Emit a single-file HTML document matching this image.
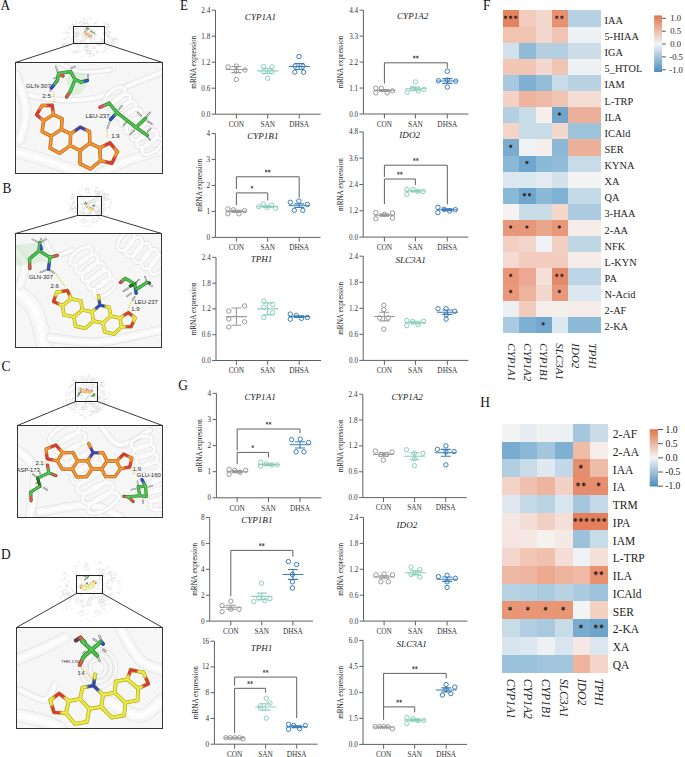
<!DOCTYPE html>
<html><head><meta charset="utf-8"><style>
html,body{margin:0;padding:0;background:#fff;width:685px;height:757px;overflow:hidden}
svg{display:block}
</style></head><body>
<svg width="685" height="757" viewBox="0 0 685 757">
<rect width="685" height="757" fill="#fff"/>
<path d="M103.02 41.14q1.6 1.3 0.19 -2.45M103.28 43.01q1.34 -1.76 -2.47 1.58M79.19 23.48q0.26 1.22 0.45 -1.16M80.8 40.4q1.29 1.01 -0.58 1.72M84.61 50.07q1.48 -0.24 1.31 -0.39M90.7 55.2q-0.54 2 -0.59 -1.55M82.57 29.08q-0.47 -0.16 1.98 0.66M74.21 43.61q-1.21 1.72 0.13 2.2M81.53 45.27q-0.85 -1.74 1.26 -1.56M96.16 53.15q1.21 0.75 2 -0.32M104.87 31.88q-0.73 -1.69 1.19 2.16M76.27 21.47q0.5 0.48 -2.23 -0.82M105.99 41.26q1.26 -0.69 2.39 -1.73M97.49 39.73q1.02 -0.11 -0.37 -0.13M93.14 47.28q0.35 0.94 -0.05 -0.34M108.55 23.99q1.87 0.81 -2.13 0.84M76.06 32.25q-0.79 -0.29 -0.79 -1.97M86.19 46.49q1.86 1.51 1.33 -0.84M83.89 32.3q-1.85 0.08 0.63 1.63M88.11 35.95q-1.01 0.91 2.99 0.88M105.18 51.32q1.81 0.61 -1.6 -1.69M63.43 42.53q-0.64 -1.64 -2.21 -0.17M67.2 30.84q0.61 -1.74 2.46 -1.96M100.38 40.82q1.12 -0.03 -0.05 -0.77M86.24 27.82q0.15 -0.56 2.93 -1.41M69.08 43.28q-1.25 1.24 1.68 1.9M101.99 22.14q1.23 -0.42 -0.07 -1.47M80.34 51.34q-1.84 -1 -2.97 1.19M82.96 34.4q-1.15 -0.08 -2.5 -0.53M71.59 46.17q-0.94 -0.46 -3.33 -1.94M101.44 44.05q1.36 -0.4 1.24 -0.51M70.98 40.51q1.23 1.1 -1.15 1.24M63.57 45.14q0.52 -1.86 -1.21 0.55M80.19 43.7q0.8 -0.4 1.35 -1.88M105.4 26.94q-0.08 -0.08 -1.48 0.42M110.37 47.02q1.81 1.34 -1.41 -2.13M98.79 45.12q0.99 -1.28 2.39 -1.41M114.44 41.87q0.94 0.51 -2.41 -0.29M109.25 30.66q-0.57 0.37 -0.51 2.24M65.74 27.36q0.42 0.58 -0.71 -1.23M97.73 41.84q-1.04 0.92 -2.63 1.24M74.06 33.07q1.19 -0.02 3.18 -0.85M102.42 47.56q-0.28 -1.57 -0.98 -2.3M108.34 31.51q0.47 1.68 1.01 -0.24M72.29 52.04q-1.46 -0.32 3.41 -0.37M84.85 30.83q0.03 0.85 2.95 -0.01M76.62 52.66q1.63 -0.22 -2.63 -0.52M105.56 28.34q1.16 1.87 -2.3 -1.6M77.39 27.44q0.51 0.51 -1.98 1.7M63.72 44.91q0.81 1.81 -1.37 0.89M83.02 26.86q-0.38 -0.22 0.2 -1.97M96.98 30.14q0.11 -1.05 -1.22 0.34M87.68 51.16q-1.53 -1.14 1.72 -0.12M100.79 24.7q-1.14 -0.62 -0.78 1.69M73.11 28.77q0.08 -1.97 1.74 1.02M88.43 36.46q-0.38 1.83 -3.13 1.22M113.66 38.34q0.08 0 1.22 0.8M88.95 47.23q-1.23 -1.62 2.94 -1.72M96.24 42.13q0.64 -1.1 -1.35 0.04M103.44 40.49q0.01 -0.19 -3.28 -1.81M88.76 56.4q1.57 0.3 -0.05 -0.4M76.5 22.09q-0.71 1.48 -0.3 1.89M84.23 19.95q0.96 -1.54 -0.44 -1.33M102.96 33.63q1.61 -0.86 2.1 -1.99M84.17 23q1.41 0.95 -0.61 1.29M108.24 29.94q0.65 -0.97 -2.28 -1.49M96.48 28.65q0.5 -1.39 2.6 -1.33M62.82 33.18q0.17 1.36 -1.55 -1.26M99.84 42.65q-0.89 -0.3 -0.78 -1.42M111.36 38.77q1.16 -0.25 3.05 0.66M72.98 28.88q-0.19 0.87 -3.1 -1.03M62.47 43.33q1.65 1.21 -2.66 1.27M67.04 37.86q-0.53 -0.97 2.62 1.24M65.5 39.74q-1.1 0.76 1.47 -2.02M104.77 42.79q-0.67 1.74 2.32 -1.45M89.94 35.24q-0.85 0.24 -3.07 -2.04M85.5 40.79q1.27 1.36 -2.1 0.91M94.95 36.96q1.14 -1.84 1.36 0.26M90.39 39.3q0.91 -0.95 1.75 0.24M115.71 39.84q-1.06 -1 1.75 -1.38M91.75 52.7q1.96 -0.25 -1.6 1.13M112.73 42.67q-1.68 -1.24 -1.36 -1.44M114.42 38.38q0.03 -1.43 -0.34 1.5M112.37 38.8q-1.6 1.25 0.53 1.71M113.37 42.68q-0.63 1.26 -2.66 2.05M74.57 37.17q0.08 -1.87 -2.17 -1.07M91.66 53.32q0.35 -0.38 3.27 2.22M68.33 35.33q-1.15 0.48 -0.95 0.25M87.38 23.97q1.57 0.02 -2.71 -1.89M91.98 56.9q1.26 0.47 -1.56 0.05M104.75 44.88q-1.11 -1.38 -0.74 -0.65M70.17 45.71q0.58 0.09 -1.88 -1.56M102.8 41.44q1.18 1.48 -1.75 -0.09M103.82 52.36q-0.92 -0.59 -3.4 -2.24M103.78 42.26q0.32 -0.43 -3.04 -1.02M105.33 24.01q0.87 0.14 1.66 -2.25M69.63 49.74q-0.14 -1.13 -1.06 -0.9M82.14 35.77q1.52 0.44 -1.4 2.25M116.25 39.58q0.54 1.94 1.12 -2.12M74.93 41.95q1.35 -1.5 -0.53 1.12M86.59 25.82q-0.14 -1.2 1.1 1.58M92.42 38.17q0.15 -1.57 1.62 1.27M92.13 54.72q0.68 -1.81 2.43 2.11M88.13 38.28q-0.07 -1.97 1.6 1.32M93.71 28.91q-0.81 -0.59 -2.14 -1.95M101.33 44.57q-0.78 -1.42 2.19 -0.62M74.36 51.14q-1.82 -1.85 -1.06 2.47M102.72 53.21q1.14 0.5 1.27 -1.21M83.89 35.09q-0.35 1.95 -0.97 0.94M85.7 45.11q1.79 -1.25 2.14 -0.77M88.48 38.86q-1.1 0.78 -3.22 -0.61M78.56 40.94q-1.07 -1.73 -2.34 1.36M66.44 45.8q-0.81 1.54 0.88 -1.15M86.66 51.37q1.44 -1 -1.42 -1.65M111.3 37.77q-0.49 -0.21 2.11 -0.03M67.9 36.43q-0.67 -0.28 1.85 -0.87M100.49 43.28q-0.79 0.36 -2.32 -0.44M66.23 38.18q0.22 -0.98 -2.98 1.97M84.36 20.97q1.46 -0.33 -2.93 -2.38M95.89 28.48q-0.84 0.47 -0.76 0.62M97.33 34.1q-0.55 1.88 -3.44 1.17M78.54 39.66q-1.05 1.71 -1.96 -1.48M91.56 20.08q1.82 -0.3 -3.11 -2.41M80.66 50.54q-1.19 -1.29 -2.01 -0.25M85.61 40.6q-1.56 0.56 -2.02 -1.87M79.27 42.29q0.99 0.67 1.41 -2.43M82.01 50.8q0.45 -0.19 -0.73 0.72M67.95 25.74q0.16 -0.29 -0.67 -1.97M72.52 39.28q-0.06 -1.45 -1.54 -0.44M90.15 35.88q-1.08 -0.3 -1.73 1.43M81.16 41.87q-1.47 1.37 1.72 -1.96M71.15 49.76q-0.59 -0.56 0.29 1.59M115.85 39.69q0.07 0.79 -3.26 -0.68M94.69 22.96q-0.51 1.75 3.26 -2.28M100.52 38.34q-0.84 -1.93 3.28 1.73M86.11 18.88q0.09 1.55 0.74 2.26M90.23 31.93q-1.47 0.64 0.36 -0.26M89.36 30.71q0.53 -0.03 2.47 -0.67M108.9 25.46q-1.31 0.63 2.09 -1.75M76.85 50.63q-0.12 -1.96 -0.17 1.75M91.28 28.03q0.23 -0.54 1.39 -2.38M71.7 25.38q0.3 1.38 -2.87 1.58M113.83 41.48q0.87 -1.88 -0.85 0.56M80.6 56.05q0.21 0.7 2.77 0.11M92.26 42.78q0.85 1.85 -2.36 -1.64M87.53 19.56q0.63 0.52 0.15 -2.06M101.59 40.64q1.77 -0.22 1.9 1.12M89.41 24.62q0.81 -0.49 2.12 -2.31M77.83 49.4q-0.48 -0.38 0.27 -2.09M78.44 45.63q-0.27 1.43 -0.23 -0.7M68.74 27.71q1.14 0.57 1.75 -0.26M87.38 36.92q-0.88 -1.44 -2.29 2.28M80.85 20.53q-0.97 -0.88 -0.34 1M91.59 51.12q1.47 1.33 -2.44 2.46M98.86 30.4q0.99 -0.36 -0.54 -1.52M94.76 27.7q1.09 -0.74 -1.59 -1.22M103.32 24.21q-0.47 -1.34 3.05 -2.24M104.95 49.39q1.93 -0.39 0.94 2.33M86.23 23.32q-1.58 -0.03 2.95 1.3M76.23 27.38q0.83 1.39 -2.42 1.72M75.15 54.13q0.22 -0.18 -2.46 0.54M76.91 51.85q-0.03 1.21 -1.76 -2.41M107.89 31.12q1.08 1.88 3.34 1.43M65.52 43.9q-1.98 0.22 2 2.15M83.31 21.01q-0.01 -0.71 0 0.56M87.44 25.71q1.51 -1.61 2.31 2.25M63.04 39.74q1.91 -1.5 0.82 -2.5M109.73 26.31q-1.81 -1.52 -0.11 -0.37M97.05 44.74q0.54 -1.41 -0.69 1.54M63.6 45.52q-1.54 -1.88 0.95 -2.23M77.66 42.09q0.78 -1.08 -2.01 -1.83M86.96 36q0.1 1.73 -0.73 -1.7M64.6 32.36q-0.14 -0.44 1.19 1.57M72.33 24.22q-0.99 0.65 1.53 -0.43M72.31 32.36q-1.45 -1.61 0.28 -0.4M77.52 52.22q-1.23 0.87 1.67 0.97M95.2 43.53q-0.42 1.73 2.58 -0.59M103.26 31.21q1.6 -1.73 1.6 -1.27M85.51 27.15q0.04 1.8 -2.15 -0.11M91.45 40q0.91 0.58 -0.47 0.05M71.84 23.62q1.48 -0.67 -0.09 -0.59M74.9 37.11q-0.57 -0.44 0.62 -2.12M89.03 36.32q1.4 -1.87 -2.35 -1.08M76.31 44.18q0.56 1.61 1.74 -2.37M85.26 24.32q-1.17 -0.93 3.02 -2.41M86.74 46.09q0.65 -0.57 1.71 -2.43M77.17 43.82q1.48 1.56 3.46 1.6M82.7 33.99q-1.24 -0.92 -2.52 1.28M109.91 27.85q-0.71 -1.04 -3.17 -1.73M91.59 37.15q-0.28 0.72 -2.71 -2.13" stroke="#d9d9d9" stroke-width="0.5" fill="none"/>
<path d="M82.66 37.29a2.11 1.58 0 1 0 4.21 0a2.11 1.58 0 1 0 -4.21 0M84.78 48.64a1.79 1.34 0 1 0 3.58 0a1.79 1.34 0 1 0 -3.58 0M106.85 36.94a1.77 1.33 0 1 0 3.54 0a1.77 1.33 0 1 0 -3.54 0M105.99 33.21a2 1.5 0 1 0 4.01 0a2 1.5 0 1 0 -4.01 0M97.34 43.1a2.25 1.69 0 1 0 4.5 0a2.25 1.69 0 1 0 -4.5 0M73.21 35.49a1.88 1.41 0 1 0 3.76 0a1.88 1.41 0 1 0 -3.76 0M105.29 47.29a1.97 1.48 0 1 0 3.94 0a1.97 1.48 0 1 0 -3.94 0M83.13 34.02a1.26 0.95 0 1 0 2.52 0a1.26 0.95 0 1 0 -2.52 0M89.52 36.98a1.39 1.04 0 1 0 2.78 0a1.39 1.04 0 1 0 -2.78 0M83.17 48.26a2.37 1.78 0 1 0 4.75 0a2.37 1.78 0 1 0 -4.75 0M92.21 47.54a1.78 1.34 0 1 0 3.56 0a1.78 1.34 0 1 0 -3.56 0M73.44 43.56a1.14 0.85 0 1 0 2.27 0a1.14 0.85 0 1 0 -2.27 0M106.74 35.85a1.09 0.82 0 1 0 2.19 0a1.09 0.82 0 1 0 -2.19 0M102.6 33.78a1.79 1.34 0 1 0 3.58 0a1.79 1.34 0 1 0 -3.58 0M64.64 44.2a1.91 1.43 0 1 0 3.81 0a1.91 1.43 0 1 0 -3.81 0M84.36 46.04a1.83 1.38 0 1 0 3.67 0a1.83 1.38 0 1 0 -3.67 0M71.61 25.76a1.31 0.98 0 1 0 2.62 0a1.31 0.98 0 1 0 -2.62 0M90.58 31.25a2.15 1.61 0 1 0 4.3 0a2.15 1.61 0 1 0 -4.3 0M80.18 30.63a2.2 1.65 0 1 0 4.39 0a2.2 1.65 0 1 0 -4.39 0M104.02 25.88a2.32 1.74 0 1 0 4.64 0a2.32 1.74 0 1 0 -4.64 0M90.46 40.07a2.36 1.77 0 1 0 4.71 0a2.36 1.77 0 1 0 -4.71 0M90.28 30.46a1.41 1.06 0 1 0 2.83 0a1.41 1.06 0 1 0 -2.83 0M72.59 25.57a1.55 1.16 0 1 0 3.09 0a1.55 1.16 0 1 0 -3.09 0M84.69 27.62a1.6 1.2 0 1 0 3.19 0a1.6 1.2 0 1 0 -3.19 0M86.54 51.84a2.21 1.66 0 1 0 4.43 0a2.21 1.66 0 1 0 -4.43 0M79.68 22.97a1.78 1.33 0 1 0 3.55 0a1.78 1.33 0 1 0 -3.55 0M110.77 42.34a2.23 1.67 0 1 0 4.46 0a2.23 1.67 0 1 0 -4.46 0M86.84 52.78a1.64 1.23 0 1 0 3.27 0a1.64 1.23 0 1 0 -3.27 0M82.12 24.21a2.25 1.69 0 1 0 4.5 0a2.25 1.69 0 1 0 -4.5 0M76.18 32.9a1.64 1.23 0 1 0 3.28 0a1.64 1.23 0 1 0 -3.28 0M96.16 51.95a1.22 0.92 0 1 0 2.45 0a1.22 0.92 0 1 0 -2.45 0M93.61 24.27a1.8 1.35 0 1 0 3.61 0a1.8 1.35 0 1 0 -3.61 0M71.43 40.04a1.44 1.08 0 1 0 2.88 0a1.44 1.08 0 1 0 -2.88 0M76.09 35.08a1.97 1.48 0 1 0 3.95 0a1.97 1.48 0 1 0 -3.95 0M74.37 37.83a2.29 1.72 0 1 0 4.58 0a2.29 1.72 0 1 0 -4.58 0M97.49 44.52a1.5 1.12 0 1 0 2.99 0a1.5 1.12 0 1 0 -2.99 0M101.97 27.27a2.16 1.62 0 1 0 4.33 0a2.16 1.62 0 1 0 -4.33 0M81.09 41.33a1.85 1.39 0 1 0 3.7 0a1.85 1.39 0 1 0 -3.7 0M66.9 32.65a1.02 0.76 0 1 0 2.04 0a1.02 0.76 0 1 0 -2.04 0M75.63 33.13a1.52 1.14 0 1 0 3.04 0a1.52 1.14 0 1 0 -3.04 0" stroke="#d4d4d4" stroke-width="0.5" fill="none"/>
<defs><clipPath id="sclip0"><rect x="73.5" y="26.5" width="31" height="17"/></clipPath></defs>
<g clip-path="url(#sclip0)"><g transform="translate(87.7,34.5) scale(0.0950) translate(-70.72,-139.97)">
<path d="M55.8 66.3L57.5 71.5" stroke="#6a6a6a" stroke-width="1.67" stroke-linecap="round"/>
<path d="M55.8 66.3L57.5 71.5" stroke="#f0f0f0" stroke-width="0.81" stroke-linecap="round"/>
<path d="M54 78.5L57 77" stroke="#6a6a6a" stroke-width="1.67" stroke-linecap="round"/>
<path d="M54 78.5L57 77" stroke="#f0f0f0" stroke-width="0.81" stroke-linecap="round"/>
<path d="M71 68.5L75 66.5" stroke="#6a6a6a" stroke-width="1.67" stroke-linecap="round"/>
<path d="M71 68.5L75 66.5" stroke="#f0f0f0" stroke-width="0.81" stroke-linecap="round"/>
<path d="M88 74.5L87.7 79" stroke="#6a6a6a" stroke-width="1.67" stroke-linecap="round"/>
<path d="M88 74.5L87.7 79" stroke="#f0f0f0" stroke-width="0.81" stroke-linecap="round"/>
<path d="M51.4 88L50.3 91" stroke="#6a6a6a" stroke-width="1.67" stroke-linecap="round"/>
<path d="M51.4 88L50.3 91" stroke="#f0f0f0" stroke-width="0.81" stroke-linecap="round"/>
<path d="M110.5 119.5L107.4 128.3" stroke="#6a6a6a" stroke-width="1.67" stroke-linecap="round"/>
<path d="M110.5 119.5L107.4 128.3" stroke="#f0f0f0" stroke-width="0.81" stroke-linecap="round"/>
<path d="M121.9 106L118.8 109.5" stroke="#6a6a6a" stroke-width="1.67" stroke-linecap="round"/>
<path d="M121.9 106L118.8 109.5" stroke="#f0f0f0" stroke-width="0.81" stroke-linecap="round"/>
<path d="M123.6 125.6L126.3 122.1" stroke="#6a6a6a" stroke-width="1.67" stroke-linecap="round"/>
<path d="M123.6 125.6L126.3 122.1" stroke="#f0f0f0" stroke-width="0.81" stroke-linecap="round"/>
<path d="M130.2 134.4L134.2 130.5" stroke="#6a6a6a" stroke-width="1.67" stroke-linecap="round"/>
<path d="M130.2 134.4L134.2 130.5" stroke="#f0f0f0" stroke-width="0.81" stroke-linecap="round"/>
<path d="M137.6 112.5L141.2 116" stroke="#6a6a6a" stroke-width="1.67" stroke-linecap="round"/>
<path d="M137.6 112.5L141.2 116" stroke="#f0f0f0" stroke-width="0.81" stroke-linecap="round"/>
<path d="M150 112.5L145.5 117.9" stroke="#6a6a6a" stroke-width="1.67" stroke-linecap="round"/>
<path d="M150 112.5L145.5 117.9" stroke="#f0f0f0" stroke-width="0.81" stroke-linecap="round"/>
<path d="M151.7 124L147.3 121.3" stroke="#6a6a6a" stroke-width="1.67" stroke-linecap="round"/>
<path d="M151.7 124L147.3 121.3" stroke="#f0f0f0" stroke-width="0.81" stroke-linecap="round"/>
<path d="M150.8 128.3L147.7 131.8" stroke="#6a6a6a" stroke-width="1.67" stroke-linecap="round"/>
<path d="M150.8 128.3L147.7 131.8" stroke="#f0f0f0" stroke-width="0.81" stroke-linecap="round"/>
<path d="M150 140L147 136" stroke="#6a6a6a" stroke-width="1.67" stroke-linecap="round"/>
<path d="M150 140L147 136" stroke="#f0f0f0" stroke-width="0.81" stroke-linecap="round"/>
<path d="M51.4 88L57.3 80.5" stroke="#1a2a80" stroke-width="3.4" stroke-linecap="round"/>
<path d="M57.3 80.5L58.6 73.5" stroke="#237a23" stroke-width="3.4" stroke-linecap="round"/>
<path d="M58.6 73.5L70.6 71.6" stroke="#237a23" stroke-width="3.4" stroke-linecap="round"/>
<path d="M70.6 71.6L75 79.5" stroke="#237a23" stroke-width="3.4" stroke-linecap="round"/>
<path d="M75 79.5L81 82" stroke="#237a23" stroke-width="3.4" stroke-linecap="round"/>
<path d="M81 82L87.5 80.5" stroke="#237a23" stroke-width="3.4" stroke-linecap="round"/>
<path d="M75 79.5L70.5 91" stroke="#237a23" stroke-width="3.4" stroke-linecap="round"/>
<path d="M70.5 91L66.5 97" stroke="#237a23" stroke-width="3.4" stroke-linecap="round"/>
<path d="M58.6 73.5L63 76" stroke="#237a23" stroke-width="3.4" stroke-linecap="round"/>
<path d="M100 107.3L109.2 103.3" stroke="#902020" stroke-width="3.4" stroke-linecap="round"/>
<path d="M109.2 103.3L117.1 112.5" stroke="#237a23" stroke-width="3.4" stroke-linecap="round"/>
<path d="M117.1 112.5L110.5 119.5" stroke="#237a23" stroke-width="3.4" stroke-linecap="round"/>
<path d="M117.1 112.5L135.9 127.4" stroke="#237a23" stroke-width="3.4" stroke-linecap="round"/>
<path d="M135.9 127.4L145.5 118.2" stroke="#237a23" stroke-width="3.4" stroke-linecap="round"/>
<path d="M135.9 127.4L147.3 135.3" stroke="#237a23" stroke-width="3.4" stroke-linecap="round"/>
<path d="M51.4 88L54.35 84.25" stroke="#2a40c8" stroke-width="2.7" stroke-linecap="round"/>
<path d="M54.35 84.25L57.3 80.5" stroke="#3cb43c" stroke-width="2.7" stroke-linecap="round"/>
<path d="M57.3 80.5L57.95 77" stroke="#3cb43c" stroke-width="2.7" stroke-linecap="round"/>
<path d="M57.95 77L58.6 73.5" stroke="#3cb43c" stroke-width="2.7" stroke-linecap="round"/>
<path d="M58.6 73.5L64.6 72.55" stroke="#3cb43c" stroke-width="2.7" stroke-linecap="round"/>
<path d="M64.6 72.55L70.6 71.6" stroke="#3cb43c" stroke-width="2.7" stroke-linecap="round"/>
<path d="M70.6 71.6L72.8 75.55" stroke="#3cb43c" stroke-width="2.7" stroke-linecap="round"/>
<path d="M72.8 75.55L75 79.5" stroke="#3cb43c" stroke-width="2.7" stroke-linecap="round"/>
<path d="M75 79.5L78 80.75" stroke="#3cb43c" stroke-width="2.7" stroke-linecap="round"/>
<path d="M78 80.75L81 82" stroke="#3cb43c" stroke-width="2.7" stroke-linecap="round"/>
<path d="M81 82L84.25 81.25" stroke="#3cb43c" stroke-width="2.7" stroke-linecap="round"/>
<path d="M84.25 81.25L87.5 80.5" stroke="#2a40c8" stroke-width="2.7" stroke-linecap="round"/>
<path d="M75 79.5L72.75 85.25" stroke="#3cb43c" stroke-width="2.7" stroke-linecap="round"/>
<path d="M72.75 85.25L70.5 91" stroke="#3cb43c" stroke-width="2.7" stroke-linecap="round"/>
<path d="M70.5 91L68.5 94" stroke="#3cb43c" stroke-width="2.7" stroke-linecap="round"/>
<path d="M68.5 94L66.5 97" stroke="#e04040" stroke-width="2.7" stroke-linecap="round"/>
<path d="M58.6 73.5L60.8 74.75" stroke="#3cb43c" stroke-width="2.7" stroke-linecap="round"/>
<path d="M60.8 74.75L63 76" stroke="#e04040" stroke-width="2.7" stroke-linecap="round"/>
<path d="M100 107.3L104.6 105.3" stroke="#e04040" stroke-width="2.7" stroke-linecap="round"/>
<path d="M104.6 105.3L109.2 103.3" stroke="#3cb43c" stroke-width="2.7" stroke-linecap="round"/>
<path d="M109.2 103.3L113.15 107.9" stroke="#3cb43c" stroke-width="2.7" stroke-linecap="round"/>
<path d="M113.15 107.9L117.1 112.5" stroke="#3cb43c" stroke-width="2.7" stroke-linecap="round"/>
<path d="M117.1 112.5L113.8 116" stroke="#3cb43c" stroke-width="2.7" stroke-linecap="round"/>
<path d="M113.8 116L110.5 119.5" stroke="#2a40c8" stroke-width="2.7" stroke-linecap="round"/>
<path d="M117.1 112.5L126.5 119.95" stroke="#3cb43c" stroke-width="2.7" stroke-linecap="round"/>
<path d="M126.5 119.95L135.9 127.4" stroke="#3cb43c" stroke-width="2.7" stroke-linecap="round"/>
<path d="M135.9 127.4L140.7 122.8" stroke="#3cb43c" stroke-width="2.7" stroke-linecap="round"/>
<path d="M140.7 122.8L145.5 118.2" stroke="#3cb43c" stroke-width="2.7" stroke-linecap="round"/>
<path d="M135.9 127.4L141.6 131.35" stroke="#3cb43c" stroke-width="2.7" stroke-linecap="round"/>
<path d="M141.6 131.35L147.3 135.3" stroke="#3cb43c" stroke-width="2.7" stroke-linecap="round"/>
<path d="M51.4 88L54.35 84.25" stroke="#5a70e0" stroke-width="0.81" stroke-linecap="round" opacity="0.7"/>
<path d="M54.35 84.25L57.3 80.5" stroke="#7ed87e" stroke-width="0.81" stroke-linecap="round" opacity="0.7"/>
<path d="M57.3 80.5L57.95 77" stroke="#7ed87e" stroke-width="0.81" stroke-linecap="round" opacity="0.7"/>
<path d="M57.95 77L58.6 73.5" stroke="#7ed87e" stroke-width="0.81" stroke-linecap="round" opacity="0.7"/>
<path d="M58.6 73.5L64.6 72.55" stroke="#7ed87e" stroke-width="0.81" stroke-linecap="round" opacity="0.7"/>
<path d="M64.6 72.55L70.6 71.6" stroke="#7ed87e" stroke-width="0.81" stroke-linecap="round" opacity="0.7"/>
<path d="M70.6 71.6L72.8 75.55" stroke="#7ed87e" stroke-width="0.81" stroke-linecap="round" opacity="0.7"/>
<path d="M72.8 75.55L75 79.5" stroke="#7ed87e" stroke-width="0.81" stroke-linecap="round" opacity="0.7"/>
<path d="M75 79.5L78 80.75" stroke="#7ed87e" stroke-width="0.81" stroke-linecap="round" opacity="0.7"/>
<path d="M78 80.75L81 82" stroke="#7ed87e" stroke-width="0.81" stroke-linecap="round" opacity="0.7"/>
<path d="M81 82L84.25 81.25" stroke="#7ed87e" stroke-width="0.81" stroke-linecap="round" opacity="0.7"/>
<path d="M84.25 81.25L87.5 80.5" stroke="#5a70e0" stroke-width="0.81" stroke-linecap="round" opacity="0.7"/>
<path d="M75 79.5L72.75 85.25" stroke="#7ed87e" stroke-width="0.81" stroke-linecap="round" opacity="0.7"/>
<path d="M72.75 85.25L70.5 91" stroke="#7ed87e" stroke-width="0.81" stroke-linecap="round" opacity="0.7"/>
<path d="M70.5 91L68.5 94" stroke="#7ed87e" stroke-width="0.81" stroke-linecap="round" opacity="0.7"/>
<path d="M68.5 94L66.5 97" stroke="#f08080" stroke-width="0.81" stroke-linecap="round" opacity="0.7"/>
<path d="M58.6 73.5L60.8 74.75" stroke="#7ed87e" stroke-width="0.81" stroke-linecap="round" opacity="0.7"/>
<path d="M60.8 74.75L63 76" stroke="#f08080" stroke-width="0.81" stroke-linecap="round" opacity="0.7"/>
<path d="M100 107.3L104.6 105.3" stroke="#f08080" stroke-width="0.81" stroke-linecap="round" opacity="0.7"/>
<path d="M104.6 105.3L109.2 103.3" stroke="#7ed87e" stroke-width="0.81" stroke-linecap="round" opacity="0.7"/>
<path d="M109.2 103.3L113.15 107.9" stroke="#7ed87e" stroke-width="0.81" stroke-linecap="round" opacity="0.7"/>
<path d="M113.15 107.9L117.1 112.5" stroke="#7ed87e" stroke-width="0.81" stroke-linecap="round" opacity="0.7"/>
<path d="M117.1 112.5L113.8 116" stroke="#7ed87e" stroke-width="0.81" stroke-linecap="round" opacity="0.7"/>
<path d="M113.8 116L110.5 119.5" stroke="#5a70e0" stroke-width="0.81" stroke-linecap="round" opacity="0.7"/>
<path d="M117.1 112.5L126.5 119.95" stroke="#7ed87e" stroke-width="0.81" stroke-linecap="round" opacity="0.7"/>
<path d="M126.5 119.95L135.9 127.4" stroke="#7ed87e" stroke-width="0.81" stroke-linecap="round" opacity="0.7"/>
<path d="M135.9 127.4L140.7 122.8" stroke="#7ed87e" stroke-width="0.81" stroke-linecap="round" opacity="0.7"/>
<path d="M140.7 122.8L145.5 118.2" stroke="#7ed87e" stroke-width="0.81" stroke-linecap="round" opacity="0.7"/>
<path d="M135.9 127.4L141.6 131.35" stroke="#7ed87e" stroke-width="0.81" stroke-linecap="round" opacity="0.7"/>
<path d="M141.6 131.35L147.3 135.3" stroke="#7ed87e" stroke-width="0.81" stroke-linecap="round" opacity="0.7"/>
<path d="M51.27 136.15L56.33 132.76M61.4 129.37L56.33 132.76M51.27 136.15L46.71 133.87M42.15 131.59L46.71 133.87M42.15 131.59L42.86 126.16M43.57 120.73L42.86 126.16M43.57 120.73L48.49 117.68M53.41 114.63L48.49 117.68M53.41 114.63L57.77 116.67M62.12 118.72L57.77 116.67M62.12 118.72L61.76 124.04M61.4 129.37L61.76 124.04M70.2 145.61L64.99 149.39M59.78 153.18L64.99 149.39M59.78 153.18L54.93 150.67M50.08 148.17L54.93 150.67M50.08 148.17L50.67 142.16M51.27 136.15L50.67 142.16M61.4 129.37L66.02 131.6M70.64 133.84L66.02 131.6M70.2 145.61L70.42 139.72M70.64 133.84L70.42 139.72M80.03 150.52L84.91 146.82M89.8 143.12L84.91 146.82M80.03 150.52L75.12 148.06M70.2 145.61L75.12 148.06M70.64 133.84L75.4 130.52M89.51 131.59L84.84 129.39M89.51 131.59L89.65 137.35M89.8 143.12L89.65 137.35M100.46 160.73L95.45 164.88M90.45 169.02L95.45 164.88M90.45 169.02L85.2 166.31M79.95 163.6L85.2 166.31M79.95 163.6L79.99 157.06M80.03 150.52L79.99 157.06M89.8 143.12L94.77 145.53M99.74 147.93L94.77 145.53M99.74 147.93L100.1 154.33M100.46 160.73L100.1 154.33M43.57 120.73L40.06 117.72M42.17 105.39L39.36 110.05M42.17 105.39L47.2 105.38M53.41 114.63L52.82 110M99.74 147.93L104.88 145.38M117.5 151.85L113.76 147.34M117.5 151.85L114.67 157.58M100.46 160.73L106.15 162.02" stroke="#ec8a22" stroke-width="3.12" stroke-linecap="round" fill="none"/>
<path d="M36.56 114.72L40.06 117.72M36.56 114.72L39.36 110.05M52.24 105.37L47.2 105.38M52.24 105.37L52.82 110M110.01 142.83L104.88 145.38M110.01 142.83L113.76 147.34M111.84 163.31L114.67 157.58M111.84 163.31L106.15 162.02" stroke="#d83838" stroke-width="3.12" stroke-linecap="round" fill="none"/>
<path d="M80.17 127.2L75.4 130.52M80.17 127.2L84.84 129.39" stroke="#2a44c8" stroke-width="3.12" stroke-linecap="round" fill="none"/>
</g></g>
<defs><clipPath id="clip0"><rect x="15.5" y="62.5" width="147" height="111"/></clipPath></defs>
<g clip-path="url(#clip0)">
<rect x="15.5" y="62.5" width="147" height="111" fill="#f6f6f6"/>
<path d="M16 93C23.33 94.17 46.83 99.17 60 100C73.17 100.83 83.33 100.5 95 98C106.67 95.5 118.83 89.33 130 85C141.17 80.67 156.67 74.17 162 72" stroke="#dedede" stroke-width="6.3" fill="none" stroke-linecap="round"/>
<path d="M16 93C23.33 94.17 46.83 99.17 60 100C73.17 100.83 83.33 100.5 95 98C106.67 95.5 118.83 89.33 130 85C141.17 80.67 156.67 74.17 162 72" stroke="#f7f7f7" stroke-width="5" fill="none" stroke-linecap="round"/>
<path d="M16 93C23.33 94.17 46.83 99.17 60 100C73.17 100.83 83.33 100.5 95 98C106.67 95.5 118.83 89.33 130 85C141.17 80.67 156.67 74.17 162 72" stroke="#fdfdfd" stroke-width="2" fill="none" stroke-linecap="round"/>
<path d="M16 152C20.83 153.33 34.33 156.5 45 160C55.67 163.5 74.17 170.83 80 173" stroke="#dedede" stroke-width="12.3" fill="none" stroke-linecap="round"/>
<path d="M16 152C20.83 153.33 34.33 156.5 45 160C55.67 163.5 74.17 170.83 80 173" stroke="#f7f7f7" stroke-width="11" fill="none" stroke-linecap="round"/>
<path d="M16 152C20.83 153.33 34.33 156.5 45 160C55.67 163.5 74.17 170.83 80 173" stroke="#fdfdfd" stroke-width="4.4" fill="none" stroke-linecap="round"/>
<path d="M100 173C105 170.83 119.67 163.83 130 160C140.33 156.17 156.67 151.67 162 150" stroke="#dedede" stroke-width="10.3" fill="none" stroke-linecap="round"/>
<path d="M100 173C105 170.83 119.67 163.83 130 160C140.33 156.17 156.67 151.67 162 150" stroke="#f7f7f7" stroke-width="9" fill="none" stroke-linecap="round"/>
<path d="M100 173C105 170.83 119.67 163.83 130 160C140.33 156.17 156.67 151.67 162 150" stroke="#fdfdfd" stroke-width="3.6" fill="none" stroke-linecap="round"/>
<path d="M16 75C17.67 80.83 25.33 99.17 26 110C26.67 120.83 21 135 20 140" stroke="#dedede" stroke-width="10.3" fill="none" stroke-linecap="round"/>
<path d="M16 75C17.67 80.83 25.33 99.17 26 110C26.67 120.83 21 135 20 140" stroke="#f7f7f7" stroke-width="9" fill="none" stroke-linecap="round"/>
<path d="M16 75C17.67 80.83 25.33 99.17 26 110C26.67 120.83 21 135 20 140" stroke="#fdfdfd" stroke-width="3.6" fill="none" stroke-linecap="round"/>
<path d="M60 63C63.33 64.5 71.67 70.83 80 72C88.33 73.17 105 70.33 110 70" stroke="#dedede" stroke-width="5.3" fill="none" stroke-linecap="round"/>
<path d="M60 63C63.33 64.5 71.67 70.83 80 72C88.33 73.17 105 70.33 110 70" stroke="#f7f7f7" stroke-width="4" fill="none" stroke-linecap="round"/>
<path d="M60 63C63.33 64.5 71.67 70.83 80 72C88.33 73.17 105 70.33 110 70" stroke="#fdfdfd" stroke-width="1.6" fill="none" stroke-linecap="round"/>
<ellipse cx="114.69" cy="95.62" rx="5.6" ry="12" transform="rotate(53.45 114.69 95.62)" fill="none" stroke="#dcdcdc" stroke-width="4.6"/>
<ellipse cx="120.06" cy="102.88" rx="5.6" ry="12" transform="rotate(53.45 120.06 102.88)" fill="none" stroke="#dcdcdc" stroke-width="4.6"/>
<ellipse cx="125.44" cy="110.12" rx="5.6" ry="12" transform="rotate(53.45 125.44 110.12)" fill="none" stroke="#dcdcdc" stroke-width="4.6"/>
<ellipse cx="130.81" cy="117.38" rx="5.6" ry="12" transform="rotate(53.45 130.81 117.38)" fill="none" stroke="#dcdcdc" stroke-width="4.6"/>
<ellipse cx="136.19" cy="124.62" rx="5.6" ry="12" transform="rotate(53.45 136.19 124.62)" fill="none" stroke="#dcdcdc" stroke-width="4.6"/>
<ellipse cx="141.56" cy="131.88" rx="5.6" ry="12" transform="rotate(53.45 141.56 131.88)" fill="none" stroke="#dcdcdc" stroke-width="4.6"/>
<ellipse cx="146.94" cy="139.12" rx="5.6" ry="12" transform="rotate(53.45 146.94 139.12)" fill="none" stroke="#dcdcdc" stroke-width="4.6"/>
<ellipse cx="152.31" cy="146.38" rx="5.6" ry="12" transform="rotate(53.45 152.31 146.38)" fill="none" stroke="#dcdcdc" stroke-width="4.6"/>
<ellipse cx="114.69" cy="95.62" rx="5.6" ry="12" transform="rotate(53.45 114.69 95.62)" fill="none" stroke="#fbfbfb" stroke-width="3.4"/>
<ellipse cx="120.06" cy="102.88" rx="5.6" ry="12" transform="rotate(53.45 120.06 102.88)" fill="none" stroke="#fbfbfb" stroke-width="3.4"/>
<ellipse cx="125.44" cy="110.12" rx="5.6" ry="12" transform="rotate(53.45 125.44 110.12)" fill="none" stroke="#fbfbfb" stroke-width="3.4"/>
<ellipse cx="130.81" cy="117.38" rx="5.6" ry="12" transform="rotate(53.45 130.81 117.38)" fill="none" stroke="#fbfbfb" stroke-width="3.4"/>
<ellipse cx="136.19" cy="124.62" rx="5.6" ry="12" transform="rotate(53.45 136.19 124.62)" fill="none" stroke="#fbfbfb" stroke-width="3.4"/>
<ellipse cx="141.56" cy="131.88" rx="5.6" ry="12" transform="rotate(53.45 141.56 131.88)" fill="none" stroke="#fbfbfb" stroke-width="3.4"/>
<ellipse cx="146.94" cy="139.12" rx="5.6" ry="12" transform="rotate(53.45 146.94 139.12)" fill="none" stroke="#fbfbfb" stroke-width="3.4"/>
<ellipse cx="152.31" cy="146.38" rx="5.6" ry="12" transform="rotate(53.45 152.31 146.38)" fill="none" stroke="#fbfbfb" stroke-width="3.4"/>
</g>
<g clip-path="url(#clip0)">
<path d="M66 78L74 72L86 73L87 85L80 94L70 96Z" fill="#a8dca8" opacity="0.3"/>
<path d="M55.8 66.3L57.5 71.5" stroke="#6a6a6a" stroke-width="1.67" stroke-linecap="round"/>
<path d="M55.8 66.3L57.5 71.5" stroke="#f0f0f0" stroke-width="0.81" stroke-linecap="round"/>
<path d="M54 78.5L57 77" stroke="#6a6a6a" stroke-width="1.67" stroke-linecap="round"/>
<path d="M54 78.5L57 77" stroke="#f0f0f0" stroke-width="0.81" stroke-linecap="round"/>
<path d="M71 68.5L75 66.5" stroke="#6a6a6a" stroke-width="1.67" stroke-linecap="round"/>
<path d="M71 68.5L75 66.5" stroke="#f0f0f0" stroke-width="0.81" stroke-linecap="round"/>
<path d="M88 74.5L87.7 79" stroke="#6a6a6a" stroke-width="1.67" stroke-linecap="round"/>
<path d="M88 74.5L87.7 79" stroke="#f0f0f0" stroke-width="0.81" stroke-linecap="round"/>
<path d="M51.4 88L50.3 91" stroke="#6a6a6a" stroke-width="1.67" stroke-linecap="round"/>
<path d="M51.4 88L50.3 91" stroke="#f0f0f0" stroke-width="0.81" stroke-linecap="round"/>
<path d="M110.5 119.5L107.4 128.3" stroke="#6a6a6a" stroke-width="1.67" stroke-linecap="round"/>
<path d="M110.5 119.5L107.4 128.3" stroke="#f0f0f0" stroke-width="0.81" stroke-linecap="round"/>
<path d="M121.9 106L118.8 109.5" stroke="#6a6a6a" stroke-width="1.67" stroke-linecap="round"/>
<path d="M121.9 106L118.8 109.5" stroke="#f0f0f0" stroke-width="0.81" stroke-linecap="round"/>
<path d="M123.6 125.6L126.3 122.1" stroke="#6a6a6a" stroke-width="1.67" stroke-linecap="round"/>
<path d="M123.6 125.6L126.3 122.1" stroke="#f0f0f0" stroke-width="0.81" stroke-linecap="round"/>
<path d="M130.2 134.4L134.2 130.5" stroke="#6a6a6a" stroke-width="1.67" stroke-linecap="round"/>
<path d="M130.2 134.4L134.2 130.5" stroke="#f0f0f0" stroke-width="0.81" stroke-linecap="round"/>
<path d="M137.6 112.5L141.2 116" stroke="#6a6a6a" stroke-width="1.67" stroke-linecap="round"/>
<path d="M137.6 112.5L141.2 116" stroke="#f0f0f0" stroke-width="0.81" stroke-linecap="round"/>
<path d="M150 112.5L145.5 117.9" stroke="#6a6a6a" stroke-width="1.67" stroke-linecap="round"/>
<path d="M150 112.5L145.5 117.9" stroke="#f0f0f0" stroke-width="0.81" stroke-linecap="round"/>
<path d="M151.7 124L147.3 121.3" stroke="#6a6a6a" stroke-width="1.67" stroke-linecap="round"/>
<path d="M151.7 124L147.3 121.3" stroke="#f0f0f0" stroke-width="0.81" stroke-linecap="round"/>
<path d="M150.8 128.3L147.7 131.8" stroke="#6a6a6a" stroke-width="1.67" stroke-linecap="round"/>
<path d="M150.8 128.3L147.7 131.8" stroke="#f0f0f0" stroke-width="0.81" stroke-linecap="round"/>
<path d="M150 140L147 136" stroke="#6a6a6a" stroke-width="1.67" stroke-linecap="round"/>
<path d="M150 140L147 136" stroke="#f0f0f0" stroke-width="0.81" stroke-linecap="round"/>
<path d="M51.4 88L57.3 80.5" stroke="#1a2a80" stroke-width="3.4" stroke-linecap="round"/>
<path d="M57.3 80.5L58.6 73.5" stroke="#237a23" stroke-width="3.4" stroke-linecap="round"/>
<path d="M58.6 73.5L70.6 71.6" stroke="#237a23" stroke-width="3.4" stroke-linecap="round"/>
<path d="M70.6 71.6L75 79.5" stroke="#237a23" stroke-width="3.4" stroke-linecap="round"/>
<path d="M75 79.5L81 82" stroke="#237a23" stroke-width="3.4" stroke-linecap="round"/>
<path d="M81 82L87.5 80.5" stroke="#237a23" stroke-width="3.4" stroke-linecap="round"/>
<path d="M75 79.5L70.5 91" stroke="#237a23" stroke-width="3.4" stroke-linecap="round"/>
<path d="M70.5 91L66.5 97" stroke="#237a23" stroke-width="3.4" stroke-linecap="round"/>
<path d="M58.6 73.5L63 76" stroke="#237a23" stroke-width="3.4" stroke-linecap="round"/>
<path d="M100 107.3L109.2 103.3" stroke="#902020" stroke-width="3.4" stroke-linecap="round"/>
<path d="M109.2 103.3L117.1 112.5" stroke="#237a23" stroke-width="3.4" stroke-linecap="round"/>
<path d="M117.1 112.5L110.5 119.5" stroke="#237a23" stroke-width="3.4" stroke-linecap="round"/>
<path d="M117.1 112.5L135.9 127.4" stroke="#237a23" stroke-width="3.4" stroke-linecap="round"/>
<path d="M135.9 127.4L145.5 118.2" stroke="#237a23" stroke-width="3.4" stroke-linecap="round"/>
<path d="M135.9 127.4L147.3 135.3" stroke="#237a23" stroke-width="3.4" stroke-linecap="round"/>
<path d="M51.4 88L54.35 84.25" stroke="#2a40c8" stroke-width="2.7" stroke-linecap="round"/>
<path d="M54.35 84.25L57.3 80.5" stroke="#3cb43c" stroke-width="2.7" stroke-linecap="round"/>
<path d="M57.3 80.5L57.95 77" stroke="#3cb43c" stroke-width="2.7" stroke-linecap="round"/>
<path d="M57.95 77L58.6 73.5" stroke="#3cb43c" stroke-width="2.7" stroke-linecap="round"/>
<path d="M58.6 73.5L64.6 72.55" stroke="#3cb43c" stroke-width="2.7" stroke-linecap="round"/>
<path d="M64.6 72.55L70.6 71.6" stroke="#3cb43c" stroke-width="2.7" stroke-linecap="round"/>
<path d="M70.6 71.6L72.8 75.55" stroke="#3cb43c" stroke-width="2.7" stroke-linecap="round"/>
<path d="M72.8 75.55L75 79.5" stroke="#3cb43c" stroke-width="2.7" stroke-linecap="round"/>
<path d="M75 79.5L78 80.75" stroke="#3cb43c" stroke-width="2.7" stroke-linecap="round"/>
<path d="M78 80.75L81 82" stroke="#3cb43c" stroke-width="2.7" stroke-linecap="round"/>
<path d="M81 82L84.25 81.25" stroke="#3cb43c" stroke-width="2.7" stroke-linecap="round"/>
<path d="M84.25 81.25L87.5 80.5" stroke="#2a40c8" stroke-width="2.7" stroke-linecap="round"/>
<path d="M75 79.5L72.75 85.25" stroke="#3cb43c" stroke-width="2.7" stroke-linecap="round"/>
<path d="M72.75 85.25L70.5 91" stroke="#3cb43c" stroke-width="2.7" stroke-linecap="round"/>
<path d="M70.5 91L68.5 94" stroke="#3cb43c" stroke-width="2.7" stroke-linecap="round"/>
<path d="M68.5 94L66.5 97" stroke="#e04040" stroke-width="2.7" stroke-linecap="round"/>
<path d="M58.6 73.5L60.8 74.75" stroke="#3cb43c" stroke-width="2.7" stroke-linecap="round"/>
<path d="M60.8 74.75L63 76" stroke="#e04040" stroke-width="2.7" stroke-linecap="round"/>
<path d="M100 107.3L104.6 105.3" stroke="#e04040" stroke-width="2.7" stroke-linecap="round"/>
<path d="M104.6 105.3L109.2 103.3" stroke="#3cb43c" stroke-width="2.7" stroke-linecap="round"/>
<path d="M109.2 103.3L113.15 107.9" stroke="#3cb43c" stroke-width="2.7" stroke-linecap="round"/>
<path d="M113.15 107.9L117.1 112.5" stroke="#3cb43c" stroke-width="2.7" stroke-linecap="round"/>
<path d="M117.1 112.5L113.8 116" stroke="#3cb43c" stroke-width="2.7" stroke-linecap="round"/>
<path d="M113.8 116L110.5 119.5" stroke="#2a40c8" stroke-width="2.7" stroke-linecap="round"/>
<path d="M117.1 112.5L126.5 119.95" stroke="#3cb43c" stroke-width="2.7" stroke-linecap="round"/>
<path d="M126.5 119.95L135.9 127.4" stroke="#3cb43c" stroke-width="2.7" stroke-linecap="round"/>
<path d="M135.9 127.4L140.7 122.8" stroke="#3cb43c" stroke-width="2.7" stroke-linecap="round"/>
<path d="M140.7 122.8L145.5 118.2" stroke="#3cb43c" stroke-width="2.7" stroke-linecap="round"/>
<path d="M135.9 127.4L141.6 131.35" stroke="#3cb43c" stroke-width="2.7" stroke-linecap="round"/>
<path d="M141.6 131.35L147.3 135.3" stroke="#3cb43c" stroke-width="2.7" stroke-linecap="round"/>
<path d="M51.4 88L54.35 84.25" stroke="#5a70e0" stroke-width="0.81" stroke-linecap="round" opacity="0.7"/>
<path d="M54.35 84.25L57.3 80.5" stroke="#7ed87e" stroke-width="0.81" stroke-linecap="round" opacity="0.7"/>
<path d="M57.3 80.5L57.95 77" stroke="#7ed87e" stroke-width="0.81" stroke-linecap="round" opacity="0.7"/>
<path d="M57.95 77L58.6 73.5" stroke="#7ed87e" stroke-width="0.81" stroke-linecap="round" opacity="0.7"/>
<path d="M58.6 73.5L64.6 72.55" stroke="#7ed87e" stroke-width="0.81" stroke-linecap="round" opacity="0.7"/>
<path d="M64.6 72.55L70.6 71.6" stroke="#7ed87e" stroke-width="0.81" stroke-linecap="round" opacity="0.7"/>
<path d="M70.6 71.6L72.8 75.55" stroke="#7ed87e" stroke-width="0.81" stroke-linecap="round" opacity="0.7"/>
<path d="M72.8 75.55L75 79.5" stroke="#7ed87e" stroke-width="0.81" stroke-linecap="round" opacity="0.7"/>
<path d="M75 79.5L78 80.75" stroke="#7ed87e" stroke-width="0.81" stroke-linecap="round" opacity="0.7"/>
<path d="M78 80.75L81 82" stroke="#7ed87e" stroke-width="0.81" stroke-linecap="round" opacity="0.7"/>
<path d="M81 82L84.25 81.25" stroke="#7ed87e" stroke-width="0.81" stroke-linecap="round" opacity="0.7"/>
<path d="M84.25 81.25L87.5 80.5" stroke="#5a70e0" stroke-width="0.81" stroke-linecap="round" opacity="0.7"/>
<path d="M75 79.5L72.75 85.25" stroke="#7ed87e" stroke-width="0.81" stroke-linecap="round" opacity="0.7"/>
<path d="M72.75 85.25L70.5 91" stroke="#7ed87e" stroke-width="0.81" stroke-linecap="round" opacity="0.7"/>
<path d="M70.5 91L68.5 94" stroke="#7ed87e" stroke-width="0.81" stroke-linecap="round" opacity="0.7"/>
<path d="M68.5 94L66.5 97" stroke="#f08080" stroke-width="0.81" stroke-linecap="round" opacity="0.7"/>
<path d="M58.6 73.5L60.8 74.75" stroke="#7ed87e" stroke-width="0.81" stroke-linecap="round" opacity="0.7"/>
<path d="M60.8 74.75L63 76" stroke="#f08080" stroke-width="0.81" stroke-linecap="round" opacity="0.7"/>
<path d="M100 107.3L104.6 105.3" stroke="#f08080" stroke-width="0.81" stroke-linecap="round" opacity="0.7"/>
<path d="M104.6 105.3L109.2 103.3" stroke="#7ed87e" stroke-width="0.81" stroke-linecap="round" opacity="0.7"/>
<path d="M109.2 103.3L113.15 107.9" stroke="#7ed87e" stroke-width="0.81" stroke-linecap="round" opacity="0.7"/>
<path d="M113.15 107.9L117.1 112.5" stroke="#7ed87e" stroke-width="0.81" stroke-linecap="round" opacity="0.7"/>
<path d="M117.1 112.5L113.8 116" stroke="#7ed87e" stroke-width="0.81" stroke-linecap="round" opacity="0.7"/>
<path d="M113.8 116L110.5 119.5" stroke="#5a70e0" stroke-width="0.81" stroke-linecap="round" opacity="0.7"/>
<path d="M117.1 112.5L126.5 119.95" stroke="#7ed87e" stroke-width="0.81" stroke-linecap="round" opacity="0.7"/>
<path d="M126.5 119.95L135.9 127.4" stroke="#7ed87e" stroke-width="0.81" stroke-linecap="round" opacity="0.7"/>
<path d="M135.9 127.4L140.7 122.8" stroke="#7ed87e" stroke-width="0.81" stroke-linecap="round" opacity="0.7"/>
<path d="M140.7 122.8L145.5 118.2" stroke="#7ed87e" stroke-width="0.81" stroke-linecap="round" opacity="0.7"/>
<path d="M135.9 127.4L141.6 131.35" stroke="#7ed87e" stroke-width="0.81" stroke-linecap="round" opacity="0.7"/>
<path d="M141.6 131.35L147.3 135.3" stroke="#7ed87e" stroke-width="0.81" stroke-linecap="round" opacity="0.7"/>
<path d="M53.5 91.5L54 103.3" stroke="#d0d020" stroke-width="1.2" stroke-dasharray="1.1 1.3" fill="none"/>
<path d="M106.8 129.5L107.5 138.8" stroke="#d0d020" stroke-width="1.2" stroke-dasharray="1.1 1.3" fill="none"/>
<path d="M51.27 136.15L61.4 129.37M51.27 136.15L42.15 131.59M42.15 131.59L43.57 120.73M43.57 120.73L53.41 114.63M53.41 114.63L62.12 118.72M62.12 118.72L61.4 129.37M70.2 145.61L59.78 153.18M59.78 153.18L50.08 148.17M50.08 148.17L51.27 136.15M61.4 129.37L70.64 133.84M70.2 145.61L70.64 133.84M80.03 150.52L89.8 143.12M80.03 150.52L70.2 145.61M70.64 133.84L80.17 127.2M80.17 127.2L89.51 131.59M89.51 131.59L89.8 143.12M100.46 160.73L90.45 169.02M90.45 169.02L79.95 163.6M79.95 163.6L80.03 150.52M89.8 143.12L99.74 147.93M99.74 147.93L100.46 160.73M43.57 120.73L36.56 114.72M36.56 114.72L42.17 105.39M42.17 105.39L52.24 105.37M52.24 105.37L53.41 114.63M99.74 147.93L110.01 142.83M110.01 142.83L117.5 151.85M117.5 151.85L111.84 163.31M111.84 163.31L100.46 160.73" stroke="#b05a10" stroke-width="3.5" stroke-linecap="round" stroke-linejoin="round" fill="none"/>
<path d="M51.27 136.15L56.33 132.76M61.4 129.37L56.33 132.76M51.27 136.15L46.71 133.87M42.15 131.59L46.71 133.87M42.15 131.59L42.86 126.16M43.57 120.73L42.86 126.16M43.57 120.73L48.49 117.68M53.41 114.63L48.49 117.68M53.41 114.63L57.77 116.67M62.12 118.72L57.77 116.67M62.12 118.72L61.76 124.04M61.4 129.37L61.76 124.04M70.2 145.61L64.99 149.39M59.78 153.18L64.99 149.39M59.78 153.18L54.93 150.67M50.08 148.17L54.93 150.67M50.08 148.17L50.67 142.16M51.27 136.15L50.67 142.16M61.4 129.37L66.02 131.6M70.64 133.84L66.02 131.6M70.2 145.61L70.42 139.72M70.64 133.84L70.42 139.72M80.03 150.52L84.91 146.82M89.8 143.12L84.91 146.82M80.03 150.52L75.12 148.06M70.2 145.61L75.12 148.06M70.64 133.84L75.4 130.52M89.51 131.59L84.84 129.39M89.51 131.59L89.65 137.35M89.8 143.12L89.65 137.35M100.46 160.73L95.45 164.88M90.45 169.02L95.45 164.88M90.45 169.02L85.2 166.31M79.95 163.6L85.2 166.31M79.95 163.6L79.99 157.06M80.03 150.52L79.99 157.06M89.8 143.12L94.77 145.53M99.74 147.93L94.77 145.53M99.74 147.93L100.1 154.33M100.46 160.73L100.1 154.33M43.57 120.73L40.06 117.72M42.17 105.39L39.36 110.05M42.17 105.39L47.2 105.38M53.41 114.63L52.82 110M99.74 147.93L104.88 145.38M117.5 151.85L113.76 147.34M117.5 151.85L114.67 157.58M100.46 160.73L106.15 162.02" stroke="#ec8a22" stroke-width="2.6" stroke-linecap="round" fill="none"/>
<path d="M36.56 114.72L40.06 117.72M36.56 114.72L39.36 110.05M52.24 105.37L47.2 105.38M52.24 105.37L52.82 110M110.01 142.83L104.88 145.38M110.01 142.83L113.76 147.34M111.84 163.31L114.67 157.58M111.84 163.31L106.15 162.02" stroke="#d83838" stroke-width="2.6" stroke-linecap="round" fill="none"/>
<path d="M80.17 127.2L75.4 130.52M80.17 127.2L84.84 129.39" stroke="#2a44c8" stroke-width="2.6" stroke-linecap="round" fill="none"/>
<path d="M51.27 136.15L56.33 132.76M61.4 129.37L56.33 132.76M51.27 136.15L46.71 133.87M42.15 131.59L46.71 133.87M42.15 131.59L42.86 126.16M43.57 120.73L42.86 126.16M43.57 120.73L48.49 117.68M53.41 114.63L48.49 117.68M53.41 114.63L57.77 116.67M62.12 118.72L57.77 116.67M62.12 118.72L61.76 124.04M61.4 129.37L61.76 124.04M70.2 145.61L64.99 149.39M59.78 153.18L64.99 149.39M59.78 153.18L54.93 150.67M50.08 148.17L54.93 150.67M50.08 148.17L50.67 142.16M51.27 136.15L50.67 142.16M61.4 129.37L66.02 131.6M70.64 133.84L66.02 131.6M70.2 145.61L70.42 139.72M70.64 133.84L70.42 139.72M80.03 150.52L84.91 146.82M89.8 143.12L84.91 146.82M80.03 150.52L75.12 148.06M70.2 145.61L75.12 148.06M70.64 133.84L75.4 130.52M89.51 131.59L84.84 129.39M89.51 131.59L89.65 137.35M89.8 143.12L89.65 137.35M100.46 160.73L95.45 164.88M90.45 169.02L95.45 164.88M90.45 169.02L85.2 166.31M79.95 163.6L85.2 166.31M79.95 163.6L79.99 157.06M80.03 150.52L79.99 157.06M89.8 143.12L94.77 145.53M99.74 147.93L94.77 145.53M99.74 147.93L100.1 154.33M100.46 160.73L100.1 154.33M43.57 120.73L40.06 117.72M42.17 105.39L39.36 110.05M42.17 105.39L47.2 105.38M53.41 114.63L52.82 110M99.74 147.93L104.88 145.38M117.5 151.85L113.76 147.34M117.5 151.85L114.67 157.58M100.46 160.73L106.15 162.02" stroke="#f6a850" stroke-width="0.9099999999999999" stroke-linecap="round" fill="none" opacity="0.8"/>
<text x="50.8" y="88.3" text-anchor="end" font-family="'Liberation Sans', sans-serif" font-size="6.1" fill="#2a2a2a">GLN-307</text>
<text x="50.8" y="98.4" text-anchor="end" font-family="'Liberation Sans', sans-serif" font-size="6.1" fill="#2a2a2a">2.5</text>
<text x="109.6" y="117.7" text-anchor="end" font-family="'Liberation Sans', sans-serif" font-size="6.1" fill="#2a2a2a">LEU-237</text>
<text x="111.2" y="137.6" text-anchor="start" font-family="'Liberation Sans', sans-serif" font-size="6.1" fill="#2a2a2a">1.9</text>
</g>
<path d="M73.5 43.5L15.5 62.5M104.5 43.5L162.5 62.5" stroke="#222" stroke-width="0.9" fill="none"/>
<rect x="73.5" y="26.5" width="31" height="17" fill="none" stroke="#222" stroke-width="1"/>
<rect x="15.5" y="62.5" width="147" height="111" fill="none" stroke="#333" stroke-width="1"/>
<path d="M87.61 203.7q-1.07 0.2 -1.89 2.2M69.41 206.32q1.53 1.06 2.95 0.61M70.7 211.46q-0.63 0.57 -3.35 -1.72M101.08 210.16q1.69 -1.3 -2.84 0.39M86.82 198.27q-0.15 1.79 -1.24 0.08M91.5 207.96q-0.35 1.11 1.34 1.53M69.45 198.46q1.85 2 2.54 1.06M79.55 206.15q-1.59 -0.65 -2.84 -0.76M88.15 197.02q1.78 -0.7 1.01 -1.32M93.93 209.9q-0.13 0.33 2.35 1.82M87.8 205.89q1.58 -0.58 2.41 -1.08M107.7 216.08q1.63 -1.07 1.29 -0.19M76.81 213.34q0.43 -1.12 -1.32 -0.93M84.18 225.17q0.92 1.85 -2.19 1.84M104.65 211.76q-0.83 0.66 -2.07 0.49M102.78 203.81q-0.26 0.6 -2.14 0.46M94.54 205.28q1.37 -0.12 1.78 -1.88M100.01 196.39q-0.16 -0.31 -2.74 1.66M96.62 197.15q-1.14 0.9 2.18 -0.92M72.24 194.01q1.52 0.64 -1.57 -0.7M74.25 218.3q1.91 0.33 -2.14 -0.85M101.67 192.12q0.02 -0.99 3.02 -2.47M94.24 194.96q1.22 1.66 2.94 -0.95M104.3 200.8q1.01 -0.46 -0.78 -1.24M92.07 204.68q-0.33 0.2 1.53 -0.45M100.26 203.67q-0.35 0.2 -2.86 -2.39M81.52 223.74q1.31 0.77 0.84 0.45M89.53 205.86q0.49 -2 -2.76 -1.64M84.82 203.61q-0.17 0.29 -3.49 1.84M88.09 205.89q0.87 0.59 -3.04 0.43M86.06 205.31q-0.54 -1.54 -2.45 1M98.77 212.06q0.86 -0.91 -0.41 0.31M89.25 199.93q1.63 0.43 2.76 0.12M95.66 210.03q-1.84 1.42 -2.52 1.48M98.84 216.59q0.25 -1.3 -2.87 -1.17M84.4 212.34q1.62 1.77 -1.89 1.85M99.24 196q-0.68 -1.26 1.17 2.04M109.41 200.37q0.51 1.85 2.32 2.24M105.82 197.78q-1.68 1.9 -3.21 -1.69M92.65 206.64q1.94 0.04 2.43 1.43M109.38 199.07q0.32 1.12 -0.52 0.18M84.51 216.46q-1.94 1.61 3.13 -2.12M88.85 214.03q0.92 -1.91 2.54 -1.07M106.2 194.44q0.15 -0.95 2.33 -0.91M83.87 211.47q-1.69 0 -1.61 -2.12M110.73 205.51q-0.87 -0.69 2.28 1.11M98.5 214.25q-0.03 0.01 -3.23 1.3M69.67 210.77q1.34 -0.21 -0.77 -1.62M83.74 207.73q-1.85 -0.52 2.11 1.81M99.34 218.9q1.1 -0.4 2.79 0.02M103.93 209.14q-1.73 0.97 -0.14 -0.41M89.31 207.53q-0.09 -0.8 2.73 1.89M88.95 195.79q1.1 -1.95 2.67 -2.39M74.71 196.42q-1.28 -1.94 -2.53 1.38M87.34 205.33q0.9 -0.01 -2 1.34M74.04 202.99q-0.87 1.24 -1.64 -0.29M83.63 220.48q-1.86 -1.59 0.8 -0.69M97.19 216.66q-1.93 0.41 1.5 0.19M106.99 195q1.63 -1.95 2.74 1.46M84.72 214.46q0.14 -1.42 -3 -1.24M106.37 193.95q-1.74 -1.15 1.13 0.84M75 200.7q-1.36 -1.69 2.04 -0.71M89.37 192.47q1.42 -0.61 -1.2 -0.13M87.73 215.89q-1.65 1.65 3.17 -1.37M74.16 219.14q-0.44 1.39 0.07 0.16M97.44 204.9q-0.61 0.78 -0.49 0.89M73.78 203.03q-0.55 0.91 1.91 -0.32M88.47 212.42q1.42 1.41 -1.29 0.98M102.11 199.46q-1.94 0.13 0.45 -0.38M109.31 199.83q1.28 -1.89 3.25 -2.22M87.95 188.33q-0.08 -0.82 1.55 1.5M89.03 211.53q1.03 -0.91 2.66 1.44M95.56 197.16q-1.54 -0.64 2.75 -0.87M81.99 188.87q-0.19 0.25 0.08 1.2M87.49 221.53q-0.16 0.81 0.39 -0.34M81.74 187.88q-0.57 1.46 1.52 -2.2M104.91 204.66q-1.94 1.33 -1.15 -1.4M89.11 220.68q-1.86 0.15 -0.82 1.09M76.95 217.76q-0.15 1.71 1.97 0.22M97.75 221.21q-1.16 1.84 -0.36 -0.07M104.14 203.7q1.25 -0.69 0.81 -2.19M84.69 219.45q-1.16 -0.61 -2.43 1.65M86.02 224.87q0.19 1.89 3.33 -0.23M97.72 217.63q1.21 -1.77 1.48 2.26M109.86 201.72q1.77 0.33 0.96 0.11M96.86 187.24q1.17 -1.97 -1.03 1.59M73.28 194.96q-1.61 0.17 -1.11 -1.92M92.39 221.28q-0.56 -1.06 0.06 -2.14M91.03 207.33q-0.09 -0.7 1.99 -1.83M97.35 191.82q-0.66 -1.81 -3.46 -0.96M92.95 204.7q-1.32 -1.38 1.15 -1.46M81.83 208.33q0.27 -1.18 3.1 0.42M95.18 192q-0.1 -1.82 0.54 -0.39M92.4 199.93q0.4 0.52 -0.08 -1.26M74.09 215.53q-1.91 1.74 1.58 1.59M102.83 199.6q0.04 -0.23 2.73 -0.95M85.97 213.2q-0.53 -1.77 1.42 -2.21M67.7 205.23q0.33 -0.39 -1.41 -0.84M102.69 195.56q0.34 0.24 -2.25 -1.88M98.38 214.13q-1.84 -1.07 -0.52 -0.71M84.38 208.22q0.41 -0.64 -1.73 -0.6M86.92 202.22q0.48 1.04 0.66 -0.04M89.05 215.59q0.19 0.21 -1.85 -1.8M86.02 217.39q1.53 -1.45 -1.3 -0.64M88.63 203.63q0.79 -0.82 2.73 -2.19M89.41 198.16q-0.78 -1.51 -2.15 -1.78M96.36 197.86q-0.73 -1.76 3.37 2.14M85.21 202.45q0.54 1.38 3.37 -1.86M95.82 186.93q0.22 -1.27 0.08 -0.88M91.33 203.83q-0.7 0.51 -3.21 0.1M81.56 204.27q-0.48 -1.46 1.1 0.7M89.35 215.74q0.61 -1.01 3.06 1.93M80.79 220.67q-1.68 1.71 1.45 -0.97M94.15 188.28q0.54 -0.04 0.34 0.7M102.83 206.1q1.55 0.01 1.53 -2.36M82.63 214.69q-1.58 1.09 2.26 0.95M80.28 212.43q1.54 1.13 2.06 -2.26M94.83 202.52q-0.46 0.58 -2 2.23M85.44 214.15q1.41 0.8 -1.34 1.7M95.86 187.06q-1.58 1.64 3.28 1.12M77.12 204.28q-1.29 -0.78 1.16 2.3M102.09 204.53q-1.85 0.63 3.3 -0.05M71.34 204.52q0.56 0.88 2.12 1.17M104.73 214.33q1.72 -0.34 -2.67 2.47M101.14 191.3q0.49 -0.65 1.92 -2.13M72.56 207.85q0.68 1.7 3.42 -0.32M77.55 209.94q0.06 -1.81 -2.76 -1.5M83.52 209.15q0.14 -1.72 0.02 0.65M76.49 213.36q-1.99 -0.18 -2.87 0.37M88.72 202.47q-0.6 1.95 -1.53 0.72M72.41 198.44q1.22 -1.87 0.93 0.92M81.16 204.26q1.92 -0.51 -2.49 -1.16M78.44 192.69q-1.62 -1.68 1.75 1.77M83.23 213.23q-0.36 -1.4 3.5 0.49M99.15 194.39q1.67 0.73 2.98 0.57M85.2 216.34q-1.74 1.3 -2.3 1.32M107.17 214.51q1.72 -0.12 -0.72 1.52M70.21 203.3q0.24 0.87 -3.04 -0.74M79.47 207.04q1.5 1.36 -3.22 -1.34M78.45 189.32q-1.64 0.74 3.31 1.48M93.29 224.33q-1.91 -0.75 -2.1 -2.16M104.94 218.71q-1.3 -0.11 -0.23 -1.29M83.06 203.11q-1.29 -1.68 -2.65 0.19M99.85 193.6q0.21 0.21 0.84 -0.67M82.51 214.05q0.9 -0.43 2.58 -2.01M106.39 207.82q-1.18 -1.55 0.62 0.1M72.02 217.45q-0.6 1.33 -1.72 0.49M73.06 214.99q1.47 -0.13 1.06 0.76M73.24 194.15q-1.59 0.33 -1.76 -0.24M88.85 225.97q-1.03 1.68 3.47 -0.14M80.83 214.24q0.52 1.69 -2.36 0.23M109.63 200.25q0.91 -0.94 -1.72 -0.41M84.53 204.36q1.62 -0.12 -2.34 -1.87M110.08 208.15q-1.71 -1.87 -3.09 -1.34M109.94 207.98q0.41 1.71 -0.02 -0.87M108.48 206.05q0.89 -0.33 2 2.24M103.8 211.91q0.97 0.06 0.07 -1.07M81.2 193.3q0.03 1.37 0.48 1.09M88.02 214.14q0.09 -0.24 0.9 0.62M94.98 204.81q-0.59 1.63 0.91 0.87M101.87 202.77q0.99 0.62 0.34 1.15M104.39 199.11q0.17 -0.71 2.59 1.83M99.46 219.12q1.92 -1.36 -0.18 -1.51M86.05 200.42q-1.95 1.92 -3.29 1.98M95.94 201.44q1.96 -0.1 -1.97 2.13M75.69 207.24q-1.01 1.77 0.07 0.15M96.41 197.95q-0.17 1.57 0.47 1.04M93.24 187.52q-1.6 -0.44 -1.34 -0.37M99 210.42q1.26 -0.75 -0.84 -1.43M96.6 213.94q-1.52 1.79 -3.14 1.91M96.08 207.71q1.23 0.67 2.14 -1.52M89.72 208.52q-0.93 -0.43 -1.44 0.86M88.56 196.46q-1.13 1.95 -2.58 -2.03M83.5 208.52q-0.69 -1.56 -2.69 -2.45M109.77 204.87q-1.29 0.18 2.6 -2.01M80.99 210.53q-1.94 -1.56 -0.85 -1.8M74.39 203.85q1.23 -0.72 -0.17 0.47M91.7 210.55q-1.91 -0.57 0.2 -0.47M84.19 205.29q1.29 -0.17 1.74 1.51M79.7 194.35q-0.96 -0.04 0.44 1.15M102.2 201.93q-0.57 0.94 -0.69 -1.08M95.92 204.18q-1.8 -1.63 0.01 1.02M95 202.31q-0.11 -0.66 1.06 -1.41M83.34 209.22q1.12 0.4 2.09 0.28M90.79 207.71q0.87 -1.37 0.29 1.05M97.58 220.23q-1.81 -0.69 0.46 1.3M100.42 192.93q1.7 -1.49 -3.21 -0.28M93.18 209.69q-0.03 -0.62 -1.33 1.26M71.5 195.45q-0.35 -0.14 0.7 1.52M72.2 198.97q-1.97 -1.77 1.63 -2.03" stroke="#d9d9d9" stroke-width="0.5" fill="none"/>
<path d="M97.97 191.99a1.05 0.78 0 1 0 2.09 0a1.05 0.78 0 1 0 -2.09 0M85.51 188.73a1.6 1.2 0 1 0 3.21 0a1.6 1.2 0 1 0 -3.21 0M92.52 220.67a2.24 1.68 0 1 0 4.47 0a2.24 1.68 0 1 0 -4.47 0M70.08 209.08a1.29 0.97 0 1 0 2.57 0a1.29 0.97 0 1 0 -2.57 0M88.07 211.64a1.91 1.43 0 1 0 3.82 0a1.91 1.43 0 1 0 -3.82 0M70.31 206.83a2.39 1.79 0 1 0 4.77 0a2.39 1.79 0 1 0 -4.77 0M87.04 202.64a1.67 1.25 0 1 0 3.33 0a1.67 1.25 0 1 0 -3.33 0M99.53 211.4a1.92 1.44 0 1 0 3.85 0a1.92 1.44 0 1 0 -3.85 0M97.26 195.01a1.2 0.9 0 1 0 2.39 0a1.2 0.9 0 1 0 -2.39 0M72.24 210.14a2.14 1.61 0 1 0 4.29 0a2.14 1.61 0 1 0 -4.29 0M73.87 208.42a1.24 0.93 0 1 0 2.49 0a1.24 0.93 0 1 0 -2.49 0M88.25 201.76a1.57 1.17 0 1 0 3.13 0a1.57 1.17 0 1 0 -3.13 0M99.85 200.97a1.59 1.2 0 1 0 3.19 0a1.59 1.2 0 1 0 -3.19 0M97.64 209.54a1.88 1.41 0 1 0 3.76 0a1.88 1.41 0 1 0 -3.76 0M98.74 215.41a1.35 1.01 0 1 0 2.69 0a1.35 1.01 0 1 0 -2.69 0M94.82 211a1.77 1.32 0 1 0 3.53 0a1.77 1.32 0 1 0 -3.53 0M72.36 202.29a1.3 0.97 0 1 0 2.59 0a1.3 0.97 0 1 0 -2.59 0M85.04 191.17a2.32 1.74 0 1 0 4.64 0a2.32 1.74 0 1 0 -4.64 0M86.15 203.25a1.15 0.87 0 1 0 2.31 0a1.15 0.87 0 1 0 -2.31 0M103.59 196.72a2.38 1.79 0 1 0 4.77 0a2.38 1.79 0 1 0 -4.77 0M92.27 200.58a1.65 1.24 0 1 0 3.3 0a1.65 1.24 0 1 0 -3.3 0M95.92 194.83a1.56 1.17 0 1 0 3.12 0a1.56 1.17 0 1 0 -3.12 0M90.39 201.48a1.71 1.28 0 1 0 3.42 0a1.71 1.28 0 1 0 -3.42 0M79.67 212.71a1.51 1.13 0 1 0 3.02 0a1.51 1.13 0 1 0 -3.02 0M103.03 208.58a1.33 1 0 1 0 2.66 0a1.33 1 0 1 0 -2.66 0M81.68 221.26a2.34 1.75 0 1 0 4.67 0a2.34 1.75 0 1 0 -4.67 0M94.01 199.45a2.12 1.59 0 1 0 4.24 0a2.12 1.59 0 1 0 -4.24 0M87.18 214.74a2.02 1.51 0 1 0 4.04 0a2.02 1.51 0 1 0 -4.04 0M96.8 212.9a1.79 1.34 0 1 0 3.58 0a1.79 1.34 0 1 0 -3.58 0M102.05 195.07a1.62 1.22 0 1 0 3.25 0a1.62 1.22 0 1 0 -3.25 0M94.98 212.78a2.08 1.56 0 1 0 4.15 0a2.08 1.56 0 1 0 -4.15 0M95.77 213.14a2.35 1.76 0 1 0 4.7 0a2.35 1.76 0 1 0 -4.7 0M103.51 198.71a2.01 1.5 0 1 0 4.01 0a2.01 1.5 0 1 0 -4.01 0M95.53 192.72a1.7 1.28 0 1 0 3.41 0a1.7 1.28 0 1 0 -3.41 0M80.54 197.62a2.29 1.72 0 1 0 4.59 0a2.29 1.72 0 1 0 -4.59 0M96.74 206.51a2.02 1.51 0 1 0 4.04 0a2.02 1.51 0 1 0 -4.04 0M102.05 193.6a1.54 1.16 0 1 0 3.09 0a1.54 1.16 0 1 0 -3.09 0M87.12 207.53a1.48 1.11 0 1 0 2.97 0a1.48 1.11 0 1 0 -2.97 0M80.25 196.12a1.52 1.14 0 1 0 3.04 0a1.52 1.14 0 1 0 -3.04 0M90.05 210.58a2.18 1.64 0 1 0 4.36 0a2.18 1.64 0 1 0 -4.36 0" stroke="#d4d4d4" stroke-width="0.5" fill="none"/>
<defs><clipPath id="sclip1"><rect x="77.5" y="196.5" width="24" height="19"/></clipPath></defs>
<g clip-path="url(#sclip1)"><g transform="translate(90,208.5) scale(0.0850) translate(-92.53,-316.57)">
<path d="M32.4 239.4L39.7 243" stroke="#6a6a6a" stroke-width="1.61" stroke-linecap="round"/>
<path d="M32.4 239.4L39.7 243" stroke="#f0f0f0" stroke-width="0.78" stroke-linecap="round"/>
<path d="M41.2 238.5L39.7 243" stroke="#6a6a6a" stroke-width="1.61" stroke-linecap="round"/>
<path d="M41.2 238.5L39.7 243" stroke="#f0f0f0" stroke-width="0.78" stroke-linecap="round"/>
<path d="M45.9 239.4L39.7 243" stroke="#6a6a6a" stroke-width="1.61" stroke-linecap="round"/>
<path d="M45.9 239.4L39.7 243" stroke="#f0f0f0" stroke-width="0.78" stroke-linecap="round"/>
<path d="M31.7 255.4L36.8 253.2" stroke="#6a6a6a" stroke-width="1.61" stroke-linecap="round"/>
<path d="M31.7 255.4L36.8 253.2" stroke="#f0f0f0" stroke-width="0.78" stroke-linecap="round"/>
<path d="M48.5 269.3L40.4 272.2" stroke="#6a6a6a" stroke-width="1.61" stroke-linecap="round"/>
<path d="M48.5 269.3L40.4 272.2" stroke="#f0f0f0" stroke-width="0.78" stroke-linecap="round"/>
<path d="M48.5 269.3L54.3 273" stroke="#6a6a6a" stroke-width="1.61" stroke-linecap="round"/>
<path d="M48.5 269.3L54.3 273" stroke="#f0f0f0" stroke-width="0.78" stroke-linecap="round"/>
<path d="M144.9 276.6L146.4 281" stroke="#6a6a6a" stroke-width="1.61" stroke-linecap="round"/>
<path d="M144.9 276.6L146.4 281" stroke="#f0f0f0" stroke-width="0.78" stroke-linecap="round"/>
<path d="M139.1 279.5L136.2 282.4" stroke="#6a6a6a" stroke-width="1.61" stroke-linecap="round"/>
<path d="M139.1 279.5L136.2 282.4" stroke="#f0f0f0" stroke-width="0.78" stroke-linecap="round"/>
<path d="M123.4 291.2L128.1 288.2" stroke="#6a6a6a" stroke-width="1.61" stroke-linecap="round"/>
<path d="M123.4 291.2L128.1 288.2" stroke="#f0f0f0" stroke-width="0.78" stroke-linecap="round"/>
<path d="M126.7 296.3L131.1 293.4" stroke="#6a6a6a" stroke-width="1.61" stroke-linecap="round"/>
<path d="M126.7 296.3L131.1 293.4" stroke="#f0f0f0" stroke-width="0.78" stroke-linecap="round"/>
<path d="M150 285.3L152.2 286" stroke="#6a6a6a" stroke-width="1.61" stroke-linecap="round"/>
<path d="M150 285.3L152.2 286" stroke="#f0f0f0" stroke-width="0.78" stroke-linecap="round"/>
<path d="M132.5 299.9L134.7 297" stroke="#6a6a6a" stroke-width="1.61" stroke-linecap="round"/>
<path d="M132.5 299.9L134.7 297" stroke="#f0f0f0" stroke-width="0.78" stroke-linecap="round"/>
<path d="M39.7 243L39 250.7" stroke="#237a23" stroke-width="3.3" stroke-linecap="round"/>
<path d="M39 250.7L29.5 259.1" stroke="#237a23" stroke-width="3.3" stroke-linecap="round"/>
<path d="M29.5 259.1L29.9 268.6" stroke="#237a23" stroke-width="3.3" stroke-linecap="round"/>
<path d="M39 250.7L49.9 257.3" stroke="#237a23" stroke-width="3.3" stroke-linecap="round"/>
<path d="M49.9 257.3L57.2 255.4" stroke="#237a23" stroke-width="3.3" stroke-linecap="round"/>
<path d="M49.9 257.3L48.5 269.3" stroke="#237a23" stroke-width="3.3" stroke-linecap="round"/>
<path d="M40.5 246L41.2 249" stroke="#1a2a80" stroke-width="3.3" stroke-linecap="round"/>
<path d="M120.5 282.4L125.2 278.4" stroke="#902020" stroke-width="3.3" stroke-linecap="round"/>
<path d="M125.2 278.4L134.7 283.9" stroke="#237a23" stroke-width="3.3" stroke-linecap="round"/>
<path d="M134.7 283.9L136.2 293.4" stroke="#237a23" stroke-width="3.3" stroke-linecap="round"/>
<path d="M136.9 289L147.1 282.4" stroke="#237a23" stroke-width="3.3" stroke-linecap="round"/>
<path d="M147.1 282.4L149.5 283" stroke="#237a23" stroke-width="3.3" stroke-linecap="round"/>
<path d="M130.3 286L134.7 283.9" stroke="#164d16" stroke-width="3.3" stroke-linecap="round"/>
<path d="M39.7 243L39.35 246.85" stroke="#3cb43c" stroke-width="2.6" stroke-linecap="round"/>
<path d="M39.35 246.85L39 250.7" stroke="#3cb43c" stroke-width="2.6" stroke-linecap="round"/>
<path d="M39 250.7L34.25 254.9" stroke="#3cb43c" stroke-width="2.6" stroke-linecap="round"/>
<path d="M34.25 254.9L29.5 259.1" stroke="#3cb43c" stroke-width="2.6" stroke-linecap="round"/>
<path d="M29.5 259.1L29.7 263.85" stroke="#3cb43c" stroke-width="2.6" stroke-linecap="round"/>
<path d="M29.7 263.85L29.9 268.6" stroke="#e04040" stroke-width="2.6" stroke-linecap="round"/>
<path d="M39 250.7L44.45 254" stroke="#3cb43c" stroke-width="2.6" stroke-linecap="round"/>
<path d="M44.45 254L49.9 257.3" stroke="#3cb43c" stroke-width="2.6" stroke-linecap="round"/>
<path d="M49.9 257.3L53.55 256.35" stroke="#3cb43c" stroke-width="2.6" stroke-linecap="round"/>
<path d="M53.55 256.35L57.2 255.4" stroke="#e04040" stroke-width="2.6" stroke-linecap="round"/>
<path d="M49.9 257.3L49.2 263.3" stroke="#3cb43c" stroke-width="2.6" stroke-linecap="round"/>
<path d="M49.2 263.3L48.5 269.3" stroke="#2a40c8" stroke-width="2.6" stroke-linecap="round"/>
<path d="M40.5 246L40.85 247.5" stroke="#2a40c8" stroke-width="2.6" stroke-linecap="round"/>
<path d="M40.85 247.5L41.2 249" stroke="#2a40c8" stroke-width="2.6" stroke-linecap="round"/>
<path d="M120.5 282.4L122.85 280.4" stroke="#e04040" stroke-width="2.6" stroke-linecap="round"/>
<path d="M122.85 280.4L125.2 278.4" stroke="#3cb43c" stroke-width="2.6" stroke-linecap="round"/>
<path d="M125.2 278.4L129.95 281.15" stroke="#3cb43c" stroke-width="2.6" stroke-linecap="round"/>
<path d="M129.95 281.15L134.7 283.9" stroke="#3cb43c" stroke-width="2.6" stroke-linecap="round"/>
<path d="M134.7 283.9L135.45 288.65" stroke="#3cb43c" stroke-width="2.6" stroke-linecap="round"/>
<path d="M135.45 288.65L136.2 293.4" stroke="#2a40c8" stroke-width="2.6" stroke-linecap="round"/>
<path d="M136.9 289L142 285.7" stroke="#3cb43c" stroke-width="2.6" stroke-linecap="round"/>
<path d="M142 285.7L147.1 282.4" stroke="#3cb43c" stroke-width="2.6" stroke-linecap="round"/>
<path d="M147.1 282.4L148.3 282.7" stroke="#3cb43c" stroke-width="2.6" stroke-linecap="round"/>
<path d="M148.3 282.7L149.5 283" stroke="#444444" stroke-width="2.6" stroke-linecap="round"/>
<path d="M130.3 286L132.5 284.95" stroke="#1f6e1f" stroke-width="2.6" stroke-linecap="round"/>
<path d="M132.5 284.95L134.7 283.9" stroke="#1f6e1f" stroke-width="2.6" stroke-linecap="round"/>
<path d="M39.7 243L39.35 246.85" stroke="#7ed87e" stroke-width="0.78" stroke-linecap="round" opacity="0.7"/>
<path d="M39.35 246.85L39 250.7" stroke="#7ed87e" stroke-width="0.78" stroke-linecap="round" opacity="0.7"/>
<path d="M39 250.7L34.25 254.9" stroke="#7ed87e" stroke-width="0.78" stroke-linecap="round" opacity="0.7"/>
<path d="M34.25 254.9L29.5 259.1" stroke="#7ed87e" stroke-width="0.78" stroke-linecap="round" opacity="0.7"/>
<path d="M29.5 259.1L29.7 263.85" stroke="#7ed87e" stroke-width="0.78" stroke-linecap="round" opacity="0.7"/>
<path d="M29.7 263.85L29.9 268.6" stroke="#f08080" stroke-width="0.78" stroke-linecap="round" opacity="0.7"/>
<path d="M39 250.7L44.45 254" stroke="#7ed87e" stroke-width="0.78" stroke-linecap="round" opacity="0.7"/>
<path d="M44.45 254L49.9 257.3" stroke="#7ed87e" stroke-width="0.78" stroke-linecap="round" opacity="0.7"/>
<path d="M49.9 257.3L53.55 256.35" stroke="#7ed87e" stroke-width="0.78" stroke-linecap="round" opacity="0.7"/>
<path d="M53.55 256.35L57.2 255.4" stroke="#f08080" stroke-width="0.78" stroke-linecap="round" opacity="0.7"/>
<path d="M49.9 257.3L49.2 263.3" stroke="#7ed87e" stroke-width="0.78" stroke-linecap="round" opacity="0.7"/>
<path d="M49.2 263.3L48.5 269.3" stroke="#5a70e0" stroke-width="0.78" stroke-linecap="round" opacity="0.7"/>
<path d="M40.5 246L40.85 247.5" stroke="#5a70e0" stroke-width="0.78" stroke-linecap="round" opacity="0.7"/>
<path d="M40.85 247.5L41.2 249" stroke="#5a70e0" stroke-width="0.78" stroke-linecap="round" opacity="0.7"/>
<path d="M120.5 282.4L122.85 280.4" stroke="#f08080" stroke-width="0.78" stroke-linecap="round" opacity="0.7"/>
<path d="M122.85 280.4L125.2 278.4" stroke="#7ed87e" stroke-width="0.78" stroke-linecap="round" opacity="0.7"/>
<path d="M125.2 278.4L129.95 281.15" stroke="#7ed87e" stroke-width="0.78" stroke-linecap="round" opacity="0.7"/>
<path d="M129.95 281.15L134.7 283.9" stroke="#7ed87e" stroke-width="0.78" stroke-linecap="round" opacity="0.7"/>
<path d="M134.7 283.9L135.45 288.65" stroke="#7ed87e" stroke-width="0.78" stroke-linecap="round" opacity="0.7"/>
<path d="M135.45 288.65L136.2 293.4" stroke="#5a70e0" stroke-width="0.78" stroke-linecap="round" opacity="0.7"/>
<path d="M136.9 289L142 285.7" stroke="#7ed87e" stroke-width="0.78" stroke-linecap="round" opacity="0.7"/>
<path d="M142 285.7L147.1 282.4" stroke="#7ed87e" stroke-width="0.78" stroke-linecap="round" opacity="0.7"/>
<path d="M147.1 282.4L148.3 282.7" stroke="#7ed87e" stroke-width="0.78" stroke-linecap="round" opacity="0.7"/>
<path d="M148.3 282.7L149.5 283" stroke="#666666" stroke-width="0.78" stroke-linecap="round" opacity="0.7"/>
<path d="M130.3 286L132.5 284.95" stroke="#2f8a2f" stroke-width="0.78" stroke-linecap="round" opacity="0.7"/>
<path d="M132.5 284.95L134.7 283.9" stroke="#2f8a2f" stroke-width="0.78" stroke-linecap="round" opacity="0.7"/>
<path d="M73.98 316.96L78.15 313.43M82.33 309.9L78.15 313.43M73.98 316.96L68.97 315.93M63.96 314.89L68.97 315.93M63.96 314.89L63.26 310.28M62.56 305.67L63.26 310.28M62.56 305.67L66.83 302.21M71.1 298.75L66.83 302.21M71.1 298.75L75.97 299.83M80.84 300.91L75.97 299.83M80.84 300.91L81.58 305.4M82.33 309.9L81.58 305.4M93.51 320.99L89.42 324.6M85.34 328.21L89.42 324.6M85.34 328.21L80.39 327.22M75.45 326.24L80.39 327.22M75.45 326.24L74.71 321.6M73.98 316.96L74.71 321.6M82.33 309.9L87.14 310.93M91.96 311.96L87.14 310.93M93.51 320.99L92.73 316.48M91.96 311.96L92.73 316.48M103.03 322.96L106.89 319.47M110.75 315.98L106.89 319.47M103.03 322.96L98.27 321.98M93.51 320.99L98.27 321.98M91.96 311.96L95.91 308.54M109.14 307.18L104.5 306.15M109.14 307.18L109.94 311.58M110.75 315.98L109.94 311.58M121.6 326.8L117.82 330.36M114.05 333.91L117.82 330.36M114.05 333.91L109.34 332.98M104.64 332.04L109.34 332.98M104.64 332.04L103.83 327.5M103.03 322.96L103.83 327.5M110.75 315.98L115.34 316.97M119.92 317.95L115.34 316.97M119.92 317.95L120.76 322.37M121.6 326.8L120.76 322.37M62.56 305.67L58.06 303.63M56.76 292.17L55.16 296.88M56.76 292.17L62.15 291.36M71.1 298.75L69.31 294.65M119.92 317.95L124.14 315.28M135.17 317.99L131.76 315.3M135.17 317.99L133.15 322.36M121.6 326.8L126.36 326.77M98.55 295.77L99.21 300.45" stroke="#e6e020" stroke-width="3.12" stroke-linecap="round" fill="none"/>
<path d="M53.55 301.6L58.06 303.63M53.55 301.6L55.16 296.88M67.53 290.54L62.15 291.36M67.53 290.54L69.31 294.65M128.35 312.61L124.14 315.28M128.35 312.61L131.76 315.3M131.13 326.73L133.15 322.36M131.13 326.73L126.36 326.77" stroke="#d83838" stroke-width="3.12" stroke-linecap="round" fill="none"/>
<path d="M99.86 305.13L95.91 308.54M99.86 305.13L104.5 306.15M99.86 305.13L99.21 300.45" stroke="#2a44c8" stroke-width="3.12" stroke-linecap="round" fill="none"/>
</g></g>
<defs><clipPath id="clip1"><rect x="15.5" y="233.5" width="146" height="114"/></clipPath></defs>
<g clip-path="url(#clip1)">
<rect x="15.5" y="233.5" width="146" height="114" fill="#f6f6f6"/>
<path d="M15 290C18.33 293.33 30 300.33 35 310C40 319.67 43.33 341.67 45 348" stroke="#dedede" stroke-width="16.3" fill="none" stroke-linecap="round"/>
<path d="M15 290C18.33 293.33 30 300.33 35 310C40 319.67 43.33 341.67 45 348" stroke="#f7f7f7" stroke-width="15" fill="none" stroke-linecap="round"/>
<path d="M15 290C18.33 293.33 30 300.33 35 310C40 319.67 43.33 341.67 45 348" stroke="#fdfdfd" stroke-width="6" fill="none" stroke-linecap="round"/>
<path d="M50 338C58.33 338.67 81.67 343.33 100 342C118.33 340.67 150 332 160 330" stroke="#dedede" stroke-width="9.3" fill="none" stroke-linecap="round"/>
<path d="M50 338C58.33 338.67 81.67 343.33 100 342C118.33 340.67 150 332 160 330" stroke="#f7f7f7" stroke-width="8" fill="none" stroke-linecap="round"/>
<path d="M50 338C58.33 338.67 81.67 343.33 100 342C118.33 340.67 150 332 160 330" stroke="#fdfdfd" stroke-width="3.2" fill="none" stroke-linecap="round"/>
<path d="M45 240C46.67 242.5 50.5 253.33 55 255C59.5 256.67 69.17 250.83 72 250" stroke="#dedede" stroke-width="5.3" fill="none" stroke-linecap="round"/>
<path d="M45 240C46.67 242.5 50.5 253.33 55 255C59.5 256.67 69.17 250.83 72 250" stroke="#f7f7f7" stroke-width="4" fill="none" stroke-linecap="round"/>
<path d="M45 240C46.67 242.5 50.5 253.33 55 255C59.5 256.67 69.17 250.83 72 250" stroke="#fdfdfd" stroke-width="1.6" fill="none" stroke-linecap="round"/>
<path d="M15 250C16.67 252.5 24.17 259.17 25 265C25.83 270.83 20.83 281.67 20 285" stroke="#dedede" stroke-width="9.3" fill="none" stroke-linecap="round"/>
<path d="M15 250C16.67 252.5 24.17 259.17 25 265C25.83 270.83 20.83 281.67 20 285" stroke="#f7f7f7" stroke-width="8" fill="none" stroke-linecap="round"/>
<path d="M15 250C16.67 252.5 24.17 259.17 25 265C25.83 270.83 20.83 281.67 20 285" stroke="#fdfdfd" stroke-width="3.2" fill="none" stroke-linecap="round"/>
<ellipse cx="81" cy="256" rx="6.2" ry="13" transform="rotate(53.13 81 256)" fill="none" stroke="#dcdcdc" stroke-width="4.6"/>
<ellipse cx="87" cy="264" rx="6.2" ry="13" transform="rotate(53.13 87 264)" fill="none" stroke="#dcdcdc" stroke-width="4.6"/>
<ellipse cx="93" cy="272" rx="6.2" ry="13" transform="rotate(53.13 93 272)" fill="none" stroke="#dcdcdc" stroke-width="4.6"/>
<ellipse cx="99" cy="280" rx="6.2" ry="13" transform="rotate(53.13 99 280)" fill="none" stroke="#dcdcdc" stroke-width="4.6"/>
<ellipse cx="105" cy="288" rx="6.2" ry="13" transform="rotate(53.13 105 288)" fill="none" stroke="#dcdcdc" stroke-width="4.6"/>
<ellipse cx="81" cy="256" rx="6.2" ry="13" transform="rotate(53.13 81 256)" fill="none" stroke="#fbfbfb" stroke-width="3.4"/>
<ellipse cx="87" cy="264" rx="6.2" ry="13" transform="rotate(53.13 87 264)" fill="none" stroke="#fbfbfb" stroke-width="3.4"/>
<ellipse cx="93" cy="272" rx="6.2" ry="13" transform="rotate(53.13 93 272)" fill="none" stroke="#fbfbfb" stroke-width="3.4"/>
<ellipse cx="99" cy="280" rx="6.2" ry="13" transform="rotate(53.13 99 280)" fill="none" stroke="#fbfbfb" stroke-width="3.4"/>
<ellipse cx="105" cy="288" rx="6.2" ry="13" transform="rotate(53.13 105 288)" fill="none" stroke="#fbfbfb" stroke-width="3.4"/>
<ellipse cx="126" cy="241" rx="6.2" ry="11" transform="rotate(36.87 126 241)" fill="none" stroke="#dcdcdc" stroke-width="4.6"/>
<ellipse cx="134" cy="247" rx="6.2" ry="11" transform="rotate(36.87 134 247)" fill="none" stroke="#dcdcdc" stroke-width="4.6"/>
<ellipse cx="142" cy="253" rx="6.2" ry="11" transform="rotate(36.87 142 253)" fill="none" stroke="#dcdcdc" stroke-width="4.6"/>
<ellipse cx="150" cy="259" rx="6.2" ry="11" transform="rotate(36.87 150 259)" fill="none" stroke="#dcdcdc" stroke-width="4.6"/>
<ellipse cx="158" cy="265" rx="6.2" ry="11" transform="rotate(36.87 158 265)" fill="none" stroke="#dcdcdc" stroke-width="4.6"/>
<ellipse cx="126" cy="241" rx="6.2" ry="11" transform="rotate(36.87 126 241)" fill="none" stroke="#fbfbfb" stroke-width="3.4"/>
<ellipse cx="134" cy="247" rx="6.2" ry="11" transform="rotate(36.87 134 247)" fill="none" stroke="#fbfbfb" stroke-width="3.4"/>
<ellipse cx="142" cy="253" rx="6.2" ry="11" transform="rotate(36.87 142 253)" fill="none" stroke="#fbfbfb" stroke-width="3.4"/>
<ellipse cx="150" cy="259" rx="6.2" ry="11" transform="rotate(36.87 150 259)" fill="none" stroke="#fbfbfb" stroke-width="3.4"/>
<ellipse cx="158" cy="265" rx="6.2" ry="11" transform="rotate(36.87 158 265)" fill="none" stroke="#fbfbfb" stroke-width="3.4"/>
</g>
<g clip-path="url(#clip1)">
<path d="M15 245L44 242L46 262L15 266Z" fill="#a8dca8" opacity="0.3"/>
<path d="M32.4 239.4L39.7 243" stroke="#6a6a6a" stroke-width="1.61" stroke-linecap="round"/>
<path d="M32.4 239.4L39.7 243" stroke="#f0f0f0" stroke-width="0.78" stroke-linecap="round"/>
<path d="M41.2 238.5L39.7 243" stroke="#6a6a6a" stroke-width="1.61" stroke-linecap="round"/>
<path d="M41.2 238.5L39.7 243" stroke="#f0f0f0" stroke-width="0.78" stroke-linecap="round"/>
<path d="M45.9 239.4L39.7 243" stroke="#6a6a6a" stroke-width="1.61" stroke-linecap="round"/>
<path d="M45.9 239.4L39.7 243" stroke="#f0f0f0" stroke-width="0.78" stroke-linecap="round"/>
<path d="M31.7 255.4L36.8 253.2" stroke="#6a6a6a" stroke-width="1.61" stroke-linecap="round"/>
<path d="M31.7 255.4L36.8 253.2" stroke="#f0f0f0" stroke-width="0.78" stroke-linecap="round"/>
<path d="M48.5 269.3L40.4 272.2" stroke="#6a6a6a" stroke-width="1.61" stroke-linecap="round"/>
<path d="M48.5 269.3L40.4 272.2" stroke="#f0f0f0" stroke-width="0.78" stroke-linecap="round"/>
<path d="M48.5 269.3L54.3 273" stroke="#6a6a6a" stroke-width="1.61" stroke-linecap="round"/>
<path d="M48.5 269.3L54.3 273" stroke="#f0f0f0" stroke-width="0.78" stroke-linecap="round"/>
<path d="M144.9 276.6L146.4 281" stroke="#6a6a6a" stroke-width="1.61" stroke-linecap="round"/>
<path d="M144.9 276.6L146.4 281" stroke="#f0f0f0" stroke-width="0.78" stroke-linecap="round"/>
<path d="M139.1 279.5L136.2 282.4" stroke="#6a6a6a" stroke-width="1.61" stroke-linecap="round"/>
<path d="M139.1 279.5L136.2 282.4" stroke="#f0f0f0" stroke-width="0.78" stroke-linecap="round"/>
<path d="M123.4 291.2L128.1 288.2" stroke="#6a6a6a" stroke-width="1.61" stroke-linecap="round"/>
<path d="M123.4 291.2L128.1 288.2" stroke="#f0f0f0" stroke-width="0.78" stroke-linecap="round"/>
<path d="M126.7 296.3L131.1 293.4" stroke="#6a6a6a" stroke-width="1.61" stroke-linecap="round"/>
<path d="M126.7 296.3L131.1 293.4" stroke="#f0f0f0" stroke-width="0.78" stroke-linecap="round"/>
<path d="M150 285.3L152.2 286" stroke="#6a6a6a" stroke-width="1.61" stroke-linecap="round"/>
<path d="M150 285.3L152.2 286" stroke="#f0f0f0" stroke-width="0.78" stroke-linecap="round"/>
<path d="M132.5 299.9L134.7 297" stroke="#6a6a6a" stroke-width="1.61" stroke-linecap="round"/>
<path d="M132.5 299.9L134.7 297" stroke="#f0f0f0" stroke-width="0.78" stroke-linecap="round"/>
<path d="M39.7 243L39 250.7" stroke="#237a23" stroke-width="3.3" stroke-linecap="round"/>
<path d="M39 250.7L29.5 259.1" stroke="#237a23" stroke-width="3.3" stroke-linecap="round"/>
<path d="M29.5 259.1L29.9 268.6" stroke="#237a23" stroke-width="3.3" stroke-linecap="round"/>
<path d="M39 250.7L49.9 257.3" stroke="#237a23" stroke-width="3.3" stroke-linecap="round"/>
<path d="M49.9 257.3L57.2 255.4" stroke="#237a23" stroke-width="3.3" stroke-linecap="round"/>
<path d="M49.9 257.3L48.5 269.3" stroke="#237a23" stroke-width="3.3" stroke-linecap="round"/>
<path d="M40.5 246L41.2 249" stroke="#1a2a80" stroke-width="3.3" stroke-linecap="round"/>
<path d="M120.5 282.4L125.2 278.4" stroke="#902020" stroke-width="3.3" stroke-linecap="round"/>
<path d="M125.2 278.4L134.7 283.9" stroke="#237a23" stroke-width="3.3" stroke-linecap="round"/>
<path d="M134.7 283.9L136.2 293.4" stroke="#237a23" stroke-width="3.3" stroke-linecap="round"/>
<path d="M136.9 289L147.1 282.4" stroke="#237a23" stroke-width="3.3" stroke-linecap="round"/>
<path d="M147.1 282.4L149.5 283" stroke="#237a23" stroke-width="3.3" stroke-linecap="round"/>
<path d="M130.3 286L134.7 283.9" stroke="#164d16" stroke-width="3.3" stroke-linecap="round"/>
<path d="M39.7 243L39.35 246.85" stroke="#3cb43c" stroke-width="2.6" stroke-linecap="round"/>
<path d="M39.35 246.85L39 250.7" stroke="#3cb43c" stroke-width="2.6" stroke-linecap="round"/>
<path d="M39 250.7L34.25 254.9" stroke="#3cb43c" stroke-width="2.6" stroke-linecap="round"/>
<path d="M34.25 254.9L29.5 259.1" stroke="#3cb43c" stroke-width="2.6" stroke-linecap="round"/>
<path d="M29.5 259.1L29.7 263.85" stroke="#3cb43c" stroke-width="2.6" stroke-linecap="round"/>
<path d="M29.7 263.85L29.9 268.6" stroke="#e04040" stroke-width="2.6" stroke-linecap="round"/>
<path d="M39 250.7L44.45 254" stroke="#3cb43c" stroke-width="2.6" stroke-linecap="round"/>
<path d="M44.45 254L49.9 257.3" stroke="#3cb43c" stroke-width="2.6" stroke-linecap="round"/>
<path d="M49.9 257.3L53.55 256.35" stroke="#3cb43c" stroke-width="2.6" stroke-linecap="round"/>
<path d="M53.55 256.35L57.2 255.4" stroke="#e04040" stroke-width="2.6" stroke-linecap="round"/>
<path d="M49.9 257.3L49.2 263.3" stroke="#3cb43c" stroke-width="2.6" stroke-linecap="round"/>
<path d="M49.2 263.3L48.5 269.3" stroke="#2a40c8" stroke-width="2.6" stroke-linecap="round"/>
<path d="M40.5 246L40.85 247.5" stroke="#2a40c8" stroke-width="2.6" stroke-linecap="round"/>
<path d="M40.85 247.5L41.2 249" stroke="#2a40c8" stroke-width="2.6" stroke-linecap="round"/>
<path d="M120.5 282.4L122.85 280.4" stroke="#e04040" stroke-width="2.6" stroke-linecap="round"/>
<path d="M122.85 280.4L125.2 278.4" stroke="#3cb43c" stroke-width="2.6" stroke-linecap="round"/>
<path d="M125.2 278.4L129.95 281.15" stroke="#3cb43c" stroke-width="2.6" stroke-linecap="round"/>
<path d="M129.95 281.15L134.7 283.9" stroke="#3cb43c" stroke-width="2.6" stroke-linecap="round"/>
<path d="M134.7 283.9L135.45 288.65" stroke="#3cb43c" stroke-width="2.6" stroke-linecap="round"/>
<path d="M135.45 288.65L136.2 293.4" stroke="#2a40c8" stroke-width="2.6" stroke-linecap="round"/>
<path d="M136.9 289L142 285.7" stroke="#3cb43c" stroke-width="2.6" stroke-linecap="round"/>
<path d="M142 285.7L147.1 282.4" stroke="#3cb43c" stroke-width="2.6" stroke-linecap="round"/>
<path d="M147.1 282.4L148.3 282.7" stroke="#3cb43c" stroke-width="2.6" stroke-linecap="round"/>
<path d="M148.3 282.7L149.5 283" stroke="#444444" stroke-width="2.6" stroke-linecap="round"/>
<path d="M130.3 286L132.5 284.95" stroke="#1f6e1f" stroke-width="2.6" stroke-linecap="round"/>
<path d="M132.5 284.95L134.7 283.9" stroke="#1f6e1f" stroke-width="2.6" stroke-linecap="round"/>
<path d="M39.7 243L39.35 246.85" stroke="#7ed87e" stroke-width="0.78" stroke-linecap="round" opacity="0.7"/>
<path d="M39.35 246.85L39 250.7" stroke="#7ed87e" stroke-width="0.78" stroke-linecap="round" opacity="0.7"/>
<path d="M39 250.7L34.25 254.9" stroke="#7ed87e" stroke-width="0.78" stroke-linecap="round" opacity="0.7"/>
<path d="M34.25 254.9L29.5 259.1" stroke="#7ed87e" stroke-width="0.78" stroke-linecap="round" opacity="0.7"/>
<path d="M29.5 259.1L29.7 263.85" stroke="#7ed87e" stroke-width="0.78" stroke-linecap="round" opacity="0.7"/>
<path d="M29.7 263.85L29.9 268.6" stroke="#f08080" stroke-width="0.78" stroke-linecap="round" opacity="0.7"/>
<path d="M39 250.7L44.45 254" stroke="#7ed87e" stroke-width="0.78" stroke-linecap="round" opacity="0.7"/>
<path d="M44.45 254L49.9 257.3" stroke="#7ed87e" stroke-width="0.78" stroke-linecap="round" opacity="0.7"/>
<path d="M49.9 257.3L53.55 256.35" stroke="#7ed87e" stroke-width="0.78" stroke-linecap="round" opacity="0.7"/>
<path d="M53.55 256.35L57.2 255.4" stroke="#f08080" stroke-width="0.78" stroke-linecap="round" opacity="0.7"/>
<path d="M49.9 257.3L49.2 263.3" stroke="#7ed87e" stroke-width="0.78" stroke-linecap="round" opacity="0.7"/>
<path d="M49.2 263.3L48.5 269.3" stroke="#5a70e0" stroke-width="0.78" stroke-linecap="round" opacity="0.7"/>
<path d="M40.5 246L40.85 247.5" stroke="#5a70e0" stroke-width="0.78" stroke-linecap="round" opacity="0.7"/>
<path d="M40.85 247.5L41.2 249" stroke="#5a70e0" stroke-width="0.78" stroke-linecap="round" opacity="0.7"/>
<path d="M120.5 282.4L122.85 280.4" stroke="#f08080" stroke-width="0.78" stroke-linecap="round" opacity="0.7"/>
<path d="M122.85 280.4L125.2 278.4" stroke="#7ed87e" stroke-width="0.78" stroke-linecap="round" opacity="0.7"/>
<path d="M125.2 278.4L129.95 281.15" stroke="#7ed87e" stroke-width="0.78" stroke-linecap="round" opacity="0.7"/>
<path d="M129.95 281.15L134.7 283.9" stroke="#7ed87e" stroke-width="0.78" stroke-linecap="round" opacity="0.7"/>
<path d="M134.7 283.9L135.45 288.65" stroke="#7ed87e" stroke-width="0.78" stroke-linecap="round" opacity="0.7"/>
<path d="M135.45 288.65L136.2 293.4" stroke="#5a70e0" stroke-width="0.78" stroke-linecap="round" opacity="0.7"/>
<path d="M136.9 289L142 285.7" stroke="#7ed87e" stroke-width="0.78" stroke-linecap="round" opacity="0.7"/>
<path d="M142 285.7L147.1 282.4" stroke="#7ed87e" stroke-width="0.78" stroke-linecap="round" opacity="0.7"/>
<path d="M147.1 282.4L148.3 282.7" stroke="#7ed87e" stroke-width="0.78" stroke-linecap="round" opacity="0.7"/>
<path d="M148.3 282.7L149.5 283" stroke="#666666" stroke-width="0.78" stroke-linecap="round" opacity="0.7"/>
<path d="M130.3 286L132.5 284.95" stroke="#2f8a2f" stroke-width="0.78" stroke-linecap="round" opacity="0.7"/>
<path d="M132.5 284.95L134.7 283.9" stroke="#2f8a2f" stroke-width="0.78" stroke-linecap="round" opacity="0.7"/>
<path d="M54.5 272L65.5 287" stroke="#d0d020" stroke-width="1.2" stroke-dasharray="1.1 1.3" fill="none"/>
<path d="M132 300.5L127.5 309.5" stroke="#d0d020" stroke-width="1.2" stroke-dasharray="1.1 1.3" fill="none"/>
<path d="M73.98 316.96L82.33 309.9M73.98 316.96L63.96 314.89M63.96 314.89L62.56 305.67M62.56 305.67L71.1 298.75M71.1 298.75L80.84 300.91M80.84 300.91L82.33 309.9M93.51 320.99L85.34 328.21M85.34 328.21L75.45 326.24M75.45 326.24L73.98 316.96M82.33 309.9L91.96 311.96M93.51 320.99L91.96 311.96M103.03 322.96L110.75 315.98M103.03 322.96L93.51 320.99M91.96 311.96L99.86 305.13M99.86 305.13L109.14 307.18M109.14 307.18L110.75 315.98M121.6 326.8L114.05 333.91M114.05 333.91L104.64 332.04M104.64 332.04L103.03 322.96M110.75 315.98L119.92 317.95M119.92 317.95L121.6 326.8M62.56 305.67L53.55 301.6M53.55 301.6L56.76 292.17M56.76 292.17L67.53 290.54M67.53 290.54L71.1 298.75M119.92 317.95L128.35 312.61M128.35 312.61L135.17 317.99M135.17 317.99L131.13 326.73M131.13 326.73L121.6 326.8M99.86 305.13L98.55 295.77" stroke="#a09a10" stroke-width="3.5" stroke-linecap="round" stroke-linejoin="round" fill="none"/>
<path d="M73.98 316.96L78.15 313.43M82.33 309.9L78.15 313.43M73.98 316.96L68.97 315.93M63.96 314.89L68.97 315.93M63.96 314.89L63.26 310.28M62.56 305.67L63.26 310.28M62.56 305.67L66.83 302.21M71.1 298.75L66.83 302.21M71.1 298.75L75.97 299.83M80.84 300.91L75.97 299.83M80.84 300.91L81.58 305.4M82.33 309.9L81.58 305.4M93.51 320.99L89.42 324.6M85.34 328.21L89.42 324.6M85.34 328.21L80.39 327.22M75.45 326.24L80.39 327.22M75.45 326.24L74.71 321.6M73.98 316.96L74.71 321.6M82.33 309.9L87.14 310.93M91.96 311.96L87.14 310.93M93.51 320.99L92.73 316.48M91.96 311.96L92.73 316.48M103.03 322.96L106.89 319.47M110.75 315.98L106.89 319.47M103.03 322.96L98.27 321.98M93.51 320.99L98.27 321.98M91.96 311.96L95.91 308.54M109.14 307.18L104.5 306.15M109.14 307.18L109.94 311.58M110.75 315.98L109.94 311.58M121.6 326.8L117.82 330.36M114.05 333.91L117.82 330.36M114.05 333.91L109.34 332.98M104.64 332.04L109.34 332.98M104.64 332.04L103.83 327.5M103.03 322.96L103.83 327.5M110.75 315.98L115.34 316.97M119.92 317.95L115.34 316.97M119.92 317.95L120.76 322.37M121.6 326.8L120.76 322.37M62.56 305.67L58.06 303.63M56.76 292.17L55.16 296.88M56.76 292.17L62.15 291.36M71.1 298.75L69.31 294.65M119.92 317.95L124.14 315.28M135.17 317.99L131.76 315.3M135.17 317.99L133.15 322.36M121.6 326.8L126.36 326.77M98.55 295.77L99.21 300.45" stroke="#e6e020" stroke-width="2.6" stroke-linecap="round" fill="none"/>
<path d="M53.55 301.6L58.06 303.63M53.55 301.6L55.16 296.88M67.53 290.54L62.15 291.36M67.53 290.54L69.31 294.65M128.35 312.61L124.14 315.28M128.35 312.61L131.76 315.3M131.13 326.73L133.15 322.36M131.13 326.73L126.36 326.77" stroke="#d83838" stroke-width="2.6" stroke-linecap="round" fill="none"/>
<path d="M99.86 305.13L95.91 308.54M99.86 305.13L104.5 306.15M99.86 305.13L99.21 300.45" stroke="#2a44c8" stroke-width="2.6" stroke-linecap="round" fill="none"/>
<path d="M73.98 316.96L78.15 313.43M82.33 309.9L78.15 313.43M73.98 316.96L68.97 315.93M63.96 314.89L68.97 315.93M63.96 314.89L63.26 310.28M62.56 305.67L63.26 310.28M62.56 305.67L66.83 302.21M71.1 298.75L66.83 302.21M71.1 298.75L75.97 299.83M80.84 300.91L75.97 299.83M80.84 300.91L81.58 305.4M82.33 309.9L81.58 305.4M93.51 320.99L89.42 324.6M85.34 328.21L89.42 324.6M85.34 328.21L80.39 327.22M75.45 326.24L80.39 327.22M75.45 326.24L74.71 321.6M73.98 316.96L74.71 321.6M82.33 309.9L87.14 310.93M91.96 311.96L87.14 310.93M93.51 320.99L92.73 316.48M91.96 311.96L92.73 316.48M103.03 322.96L106.89 319.47M110.75 315.98L106.89 319.47M103.03 322.96L98.27 321.98M93.51 320.99L98.27 321.98M91.96 311.96L95.91 308.54M109.14 307.18L104.5 306.15M109.14 307.18L109.94 311.58M110.75 315.98L109.94 311.58M121.6 326.8L117.82 330.36M114.05 333.91L117.82 330.36M114.05 333.91L109.34 332.98M104.64 332.04L109.34 332.98M104.64 332.04L103.83 327.5M103.03 322.96L103.83 327.5M110.75 315.98L115.34 316.97M119.92 317.95L115.34 316.97M119.92 317.95L120.76 322.37M121.6 326.8L120.76 322.37M62.56 305.67L58.06 303.63M56.76 292.17L55.16 296.88M56.76 292.17L62.15 291.36M71.1 298.75L69.31 294.65M119.92 317.95L124.14 315.28M135.17 317.99L131.76 315.3M135.17 317.99L133.15 322.36M121.6 326.8L126.36 326.77M98.55 295.77L99.21 300.45" stroke="#f4f080" stroke-width="0.9099999999999999" stroke-linecap="round" fill="none" opacity="0.8"/>
<text x="29" y="279.3" text-anchor="start" font-family="'Liberation Sans', sans-serif" font-size="5.9" fill="#2a2a2a">GLN-307</text>
<text x="58.7" y="288.2" text-anchor="end" font-family="'Liberation Sans', sans-serif" font-size="5.9" fill="#2a2a2a">2.6</text>
<text x="134.6" y="303.9" text-anchor="start" font-family="'Liberation Sans', sans-serif" font-size="5.9" fill="#2a2a2a">LEU-237</text>
<text x="131.3" y="310.6" text-anchor="start" font-family="'Liberation Sans', sans-serif" font-size="5.9" fill="#2a2a2a">1.9</text>
</g>
<path d="M77.5 215.5L15.5 233.5M101.5 215.5L161.5 233.5" stroke="#222" stroke-width="0.9" fill="none"/>
<rect x="77.5" y="196.5" width="24" height="19" fill="none" stroke="#222" stroke-width="1"/>
<rect x="15.5" y="233.5" width="146" height="114" fill="none" stroke="#333" stroke-width="1"/>
<path d="M73.61 405.34q1.31 -0.23 3.14 2.1M88.73 396.22q1.99 -0.21 -2.53 2.4M91.04 409.87q0.33 0.88 -1.88 0.79M74.81 380.92q-0.68 -0.9 1.41 -1.65M66.95 399.93q-1.72 0.95 0.27 -0.42M97.95 397.29q-0.69 0 1.17 -1.69M79.77 395.17q-0.67 -1.65 -1.83 2.41M95.7 399.5q1.64 0.69 0.25 0.22M87.94 404.45q0.84 -0.11 1.09 -0.22M92.73 415.76q-1.09 1.39 -2.13 1.5M103.66 386.43q0.03 0.28 -3.1 -0.74M91.73 403.23q0.78 1.13 3.48 0.83M87.63 381.59q0.76 1.72 -1.28 -1.45M102.54 384.92q0.44 0.77 -0.17 0.95M66.49 395.98q-1.54 -0.12 0.91 1.97M88.46 396.62q1.01 1.59 -3.45 1.78M91.38 411.93q0.36 -1.25 -2.32 1.08M99.26 410.19q0.87 0.3 2.31 -2.47M69.01 404.27q-1.66 -1.77 0.73 2.02M85.5 417.14q0.3 1.88 -2.58 2.26M107.38 399.81q1 -0.22 -1.25 -0.23M102.07 384.54q-1.48 -1.5 -1.24 0.41M103.48 404.99q1.69 1.45 3.32 -1.05M77.14 396.08q-0.94 1.73 -3.32 1.01M89.25 415.42q-1.22 0.5 3.42 -0.44M96.64 406.86q0.11 1.71 1.84 -1.63M99.75 386.85q1 -0.3 3.07 -1.41M107.72 392.41q1.03 1.24 1.24 -1.19M76.76 411.58q0.64 -0.16 -2.51 2.37M71.48 384.94q-1.9 0.38 2.75 -0.47M95.13 389.96q0.4 1.35 -2.37 0.49M72.73 390.2q0.23 -1.26 0.32 -1.96M91.88 401.99q0.91 -1.82 -1.38 -2.15M75.83 392.24q-0.09 1.16 -2.64 -2.05M91.19 403.16q-0.68 1.95 2.02 -0.67M92.23 412.95q1.43 0.06 -3.48 2.06M72.83 410.82q-0.27 -1.7 2.82 -1.39M88.51 400.49q1.72 -1.17 2.9 2.08M107.56 396.89q-1.76 -1.04 1.84 -0.3M74.69 377.66q1.92 -1.7 -1.32 -0.71M92.62 411.51q0.94 1.88 -0.68 -2.2M86.84 398.6q0.59 -0.8 1.17 0.61M75.85 408.2q0.7 -0.36 -0.36 1.05M91.16 413.88q0.51 1.84 1.1 -0.72M98.35 405.11q-1.97 -0.41 -0.23 2.3M76.91 392.1q-1.3 -0.06 2.13 0.33M75.64 405.67q1.84 -0.8 0.39 0.06M82.73 375.78q-0.08 0.44 1.23 0.03M99.19 387.71q-1.18 1.6 -1.33 0.42M70.97 392.76q0.95 -0.7 2.41 -2.01M73.47 399.36q-1.48 0.86 -0.05 -1.94M101.4 410.32q-0.06 -1.79 2.56 -0.37M91.65 392.74q-0.23 1.57 3.16 1.65M95.59 403.67q-1.09 -1.25 -1.67 -0.46M91.99 411.81q-0.85 0.01 2.85 0.32M85.25 407.36q1.93 -0.19 0.69 -2.1M86.92 413.38q-1.18 -0.58 -0.08 -1.75M87.69 400.82q-1.74 -0.5 -0.62 0.87M96.48 407.17q0.8 -0.27 2.27 -0.29M86.15 416.68q1.89 1.27 -2 0.61M96.31 385.38q-0.18 0.62 0.95 -0.68M73.67 386.11q0.94 -0.85 -1.48 -1.52M101.23 395.7q-0.26 1.67 2.12 0.32M98.92 397.28q-0.86 0.62 -3.07 -1.09M88.92 385.97q-0.69 2 1.9 2.09M95.94 408.28q1.66 1.47 -2.65 -1.95M74.55 412.39q-1.73 -1.93 -1.08 -1.07M78.64 389.77q-1.7 -0.64 -1.98 -1.49M90.13 411.49q-0.25 0.06 2.82 -0.77M73.32 378.68q-1.8 -1.25 -0.08 -0.95M69.2 403.62q-0.93 -0.08 0.57 0.56M100.4 384.39q0.16 0.09 0.28 1.67M75.07 386.01q-1.74 1.51 0.29 0.16M104.88 398.02q1.07 -0.1 2.64 1.62M75.9 377.73q0.29 -1.24 0.26 1.42M104.46 403.66q1.56 0.86 1.64 -0.7M99.26 408.81q-0.74 -1.24 1.97 0.97M100.04 387.93q0.69 1.63 0.42 1.72M94.9 382q-0.51 -0.36 -0.92 1.69M90.11 399.09q-0.13 0.47 -2.18 1.94M72.67 403.12q0.85 1.9 -0.52 1.13M90.87 390.84q-1.9 0.13 -2.83 -2.14M73.98 391.67q1.08 -1.16 -0.14 1.35M96.08 388.24q-1.81 0.44 2.21 -1.47M103 390.16q1.82 -0.18 -2.45 2.07M107.51 402.06q0.99 0.65 3.35 1.85M79.32 409.98q1.84 0.34 -0.29 -1.56M99.47 390.48q-1.86 -1.84 0.62 -0.77M88.93 403.2q-0.42 0.75 2.82 -0.95M100.98 382.35q-1.39 -0.75 1.13 -0.72M75.08 402.36q0.66 0.75 -1.1 -0.78M89.89 383.56q1.18 -0.5 0.26 0.66M88.16 376.7q-1.2 0.63 1.81 -1.07M95.16 398.27q-1.46 1.4 -1.42 1.66M67.84 405.86q-1.82 -1.09 -1.36 -1.47M91.94 395.47q1.25 -0.42 -0.63 1.76M102.69 403.43q-1.67 -1.57 1.66 -0.3M79.2 414.57q-1.57 0.62 2.66 0.03M88.1 379.15q-1.28 1.55 1.97 -0.78M99.81 402.04q-0.11 -0.84 1.28 2.48M96.41 389.22q-0.98 1.95 3.29 0.03M86.15 392.63q-1.04 1.18 2.65 -1.95M74.85 379.04q-1.69 -0.09 -3.1 0.69M73.74 400.88q-0.41 -0.16 2.59 0.07M79.16 392.18q0.54 -1.96 -0.83 1.2M80.7 415.25q-1.87 0.46 2.82 0.17M93.98 398.24q1.07 -0.98 -0.22 0.07M101.76 397.68q1.98 -0.91 0.55 -0.37M85.25 408.14q-1.84 -1.36 1.37 -1.25M81.17 395.34q0.01 -0.14 2.21 0.48M99.65 412.47q-1.25 -1.49 0.63 -0.42M99.44 398.87q1.71 -1.93 -1.17 -0.81M74.1 391.75q0.77 0.97 2.78 2.4M67.84 388.97q1.63 0.52 2.91 -1.99M100.09 396.73q1.38 -1.44 -0.3 -1.18M80.98 401.95q1.37 -0.09 0.72 1.79M89.68 393.59q-0.73 -1.8 1.08 1.22M73.36 387.52q1.14 -0.97 2.36 -2.33M96.43 395.66q-1.28 -1.67 0.29 1.76M87.5 385.22q-1.04 0.66 -2.14 0.04M72.09 398.88q0.96 0.32 2.42 -2.42M82.89 393.68q0.83 1.15 -0.81 -1.39M100.89 392.41q1.18 1.51 -2.05 1.5M78.8 382.62q-0.84 -1.91 3.41 -2.21M73.5 391.82q-0.34 -1.2 -3.47 0.26M107.81 392.67q0.44 0.79 2.85 2.19M65.55 401.46q1.42 1.69 0.81 -2.39M89.23 394.07q1.84 1.4 -2.27 1.76M84.22 404.12q-0.64 -1.6 0.81 1.73M102.88 401.78q-1.81 1.32 -2.73 0.1M91.14 381.75q-0.34 -0.38 -1.97 -1.02M102.25 384.07q0.32 -0.99 0.99 -2.37M92.34 412.82q0 -0.85 0.57 -1.99M74.65 389.75q0.22 -0.61 1.69 1.94M84.67 388.85q0.05 -0.84 0.01 -1.98M88.78 393.09q0.02 -1.19 -0.49 -2.34M93.51 389.04q-0.44 -1.31 0.17 -1.81M83.35 409.22q-1.37 -0.94 0.35 1.31M91.43 396.76q-1.94 -0.57 -2.25 -1.16M87.92 375.23q-0.14 -1.83 1.51 0.41M83.55 406.2q-1.45 -1.39 -2.92 -1.6M84.92 405.94q1.17 -1.97 0.85 -1.43M79.44 396.31q1.6 -1.39 2.74 -1.57M98.7 382.07q1.68 -0.58 -1.65 -0.48M105.35 398.64q-1.71 1.9 1.31 -0.7M70.42 382.24q-1.18 -1.21 1.28 0.14M92.52 384.65q1.7 1.44 2.77 -0.54M88.99 411.02q-0.43 -1.33 3.4 1.32M81.86 394.11q-1.64 0.72 -1.54 -1.16M80.59 379.42q-1.28 -1.84 1.89 -1.81M78.83 380.57q-1.94 1.23 -0.47 -2.18M78.57 395.63q1.21 -1.24 0.39 1.12M98.25 397.97q0.87 -1.19 0.13 0.78M90.34 378.96q0.3 0.7 -0.91 2.31M104.69 396.38q0.84 -1.71 -0.63 -2.22M102.93 390.76q0.24 -1.79 3.06 1.12M81.12 407.41q0.14 1.7 1.62 -0.08M100.56 398.05q0.51 0.74 -0.56 0.26M95.17 407.77q-0.82 0.03 0.13 1.16M68.43 405.44q0.05 -1.11 -3.34 -1.92M75.19 403.46q-0.38 -1.62 1.86 1.74M86.87 399.5q-1.12 1.45 -2.28 -1.26M101.43 401.48q1.81 1.08 3.02 -2.27M75.28 383.67q-1.93 -0.51 -1.72 -0.23M84.91 398.91q0.73 1.59 2.2 1.37M84.05 397.64q1.69 1.59 3.01 1.24M78.46 413.26q-0.42 -1.15 -0.77 -2.13M79.9 376.2q-0.85 1.19 3 0.06M93.81 394.57q-0.92 1.02 -1.1 -1.21M91.22 385.96q1.64 0.93 0.59 0.54M81.15 387.29q0.81 -0.19 -3.41 0.86M93.23 389.64q-1.92 1.18 -2.42 2.29M73.5 399.37q-1.17 -0.91 -1.53 -0.54M77.35 404.95q-1.9 1.59 -2.58 1.36M95.6 407.99q-0.71 0.45 3.05 -2.24M94.89 401.26q-0.06 -1.92 2.9 0.52M94.79 383.94q-0.85 1.14 -3.35 0.51M90.84 394.26q0.62 -0.91 -2.87 1.44M87.94 392.5q1.74 -1.23 -0.35 -1.54M91.58 390.55q1.38 -0.83 -1.35 -2.36M78.12 378.58q0.79 -0.83 -0.01 -0.67M91.31 381.06q-0.64 1.75 0.15 -2.13M102.45 390.87q-1.38 1.9 -2.87 -0.18M74.24 410.04q0.65 0.59 0.85 -0.99M92.68 382.85q-1.77 1.03 -2.88 0.83M93.21 377.52q1.25 -0.35 -1.35 -1.82M73.26 404.13q1.9 -0.89 1.83 -1.57M88.63 385.86q0.5 -0.83 -0.71 -0.04M84.02 409.54q0.29 -1.27 -0.16 0.74M100.6 382.31q0.61 0.27 0.31 -1.31" stroke="#d9d9d9" stroke-width="0.5" fill="none"/>
<path d="M82.01 379.43a2.23 1.67 0 1 0 4.45 0a2.23 1.67 0 1 0 -4.45 0M70 408.76a1.42 1.07 0 1 0 2.84 0a1.42 1.07 0 1 0 -2.84 0M90.75 405.64a2.16 1.62 0 1 0 4.31 0a2.16 1.62 0 1 0 -4.31 0M94.14 411.93a1.87 1.4 0 1 0 3.74 0a1.87 1.4 0 1 0 -3.74 0M86.39 397.04a1.14 0.85 0 1 0 2.28 0a1.14 0.85 0 1 0 -2.28 0M66 393.72a2.12 1.59 0 1 0 4.23 0a2.12 1.59 0 1 0 -4.23 0M92.66 405.56a1.74 1.3 0 1 0 3.47 0a1.74 1.3 0 1 0 -3.47 0M102.54 393.2a1.57 1.17 0 1 0 3.13 0a1.57 1.17 0 1 0 -3.13 0M81.14 407.99a1.83 1.37 0 1 0 3.66 0a1.83 1.37 0 1 0 -3.66 0M67.36 405.89a2.39 1.79 0 1 0 4.77 0a2.39 1.79 0 1 0 -4.77 0M72.51 381.2a2.15 1.61 0 1 0 4.3 0a2.15 1.61 0 1 0 -4.3 0M93.92 410.36a2.27 1.7 0 1 0 4.54 0a2.27 1.7 0 1 0 -4.54 0M74.8 387.98a2.36 1.77 0 1 0 4.72 0a2.36 1.77 0 1 0 -4.72 0M68.77 399.54a1.11 0.83 0 1 0 2.22 0a1.11 0.83 0 1 0 -2.22 0M88.99 386.06a1.92 1.44 0 1 0 3.85 0a1.92 1.44 0 1 0 -3.85 0M90.46 379.73a2.17 1.63 0 1 0 4.34 0a2.17 1.63 0 1 0 -4.34 0M81.9 390.77a2.35 1.76 0 1 0 4.7 0a2.35 1.76 0 1 0 -4.7 0M89.91 394.03a2.11 1.59 0 1 0 4.23 0a2.11 1.59 0 1 0 -4.23 0M100.31 384.28a2.15 1.61 0 1 0 4.29 0a2.15 1.61 0 1 0 -4.29 0M102.67 399.22a1.22 0.92 0 1 0 2.44 0a1.22 0.92 0 1 0 -2.44 0M84.63 403.09a1.21 0.91 0 1 0 2.42 0a1.21 0.91 0 1 0 -2.42 0M92.19 386.94a1.04 0.78 0 1 0 2.07 0a1.04 0.78 0 1 0 -2.07 0M86.96 376.8a1.07 0.8 0 1 0 2.13 0a1.07 0.8 0 1 0 -2.13 0M95.46 397.94a2.39 1.79 0 1 0 4.77 0a2.39 1.79 0 1 0 -4.77 0M74.58 389.26a1.36 1.02 0 1 0 2.71 0a1.36 1.02 0 1 0 -2.71 0M83.06 407.7a2.36 1.77 0 1 0 4.71 0a2.36 1.77 0 1 0 -4.71 0M69.78 385.81a1.31 0.99 0 1 0 2.63 0a1.31 0.99 0 1 0 -2.63 0M83.94 402.1a1.52 1.14 0 1 0 3.04 0a1.52 1.14 0 1 0 -3.04 0M97.06 409.32a1.21 0.9 0 1 0 2.41 0a1.21 0.9 0 1 0 -2.41 0M82.84 380.73a2.28 1.71 0 1 0 4.57 0a2.28 1.71 0 1 0 -4.57 0M80.21 397.56a1.53 1.15 0 1 0 3.07 0a1.53 1.15 0 1 0 -3.07 0M88.69 403.69a1.1 0.82 0 1 0 2.19 0a1.1 0.82 0 1 0 -2.19 0M98.53 407.57a1.16 0.87 0 1 0 2.32 0a1.16 0.87 0 1 0 -2.32 0M84.99 389.32a2.34 1.76 0 1 0 4.68 0a2.34 1.76 0 1 0 -4.68 0M73.84 403.69a1.78 1.33 0 1 0 3.56 0a1.78 1.33 0 1 0 -3.56 0M77.88 389.68a2.17 1.63 0 1 0 4.35 0a2.17 1.63 0 1 0 -4.35 0M76.36 405.21a1.91 1.43 0 1 0 3.82 0a1.91 1.43 0 1 0 -3.82 0M92.46 379.58a1.63 1.22 0 1 0 3.26 0a1.63 1.22 0 1 0 -3.26 0M96.54 386.69a1.02 0.77 0 1 0 2.05 0a1.02 0.77 0 1 0 -2.05 0M79.77 386.36a2.36 1.77 0 1 0 4.72 0a2.36 1.77 0 1 0 -4.72 0" stroke="#d4d4d4" stroke-width="0.5" fill="none"/>
<defs><clipPath id="sclip2"><rect x="75.5" y="382.5" width="22" height="19"/></clipPath></defs>
<g clip-path="url(#sclip2)"><g transform="translate(86.4,391.3) scale(0.1450) translate(-89.56,-464.98)">
<path d="M32.6 474.2L37 477.2" stroke="#6a6a6a" stroke-width="1.49" stroke-linecap="round"/>
<path d="M32.6 474.2L37 477.2" stroke="#f0f0f0" stroke-width="0.72" stroke-linecap="round"/>
<path d="M36.2 483.4L38.4 481.9" stroke="#6a6a6a" stroke-width="1.49" stroke-linecap="round"/>
<path d="M36.2 483.4L38.4 481.9" stroke="#f0f0f0" stroke-width="0.72" stroke-linecap="round"/>
<path d="M43.5 487.7L47.2 490" stroke="#6a6a6a" stroke-width="1.49" stroke-linecap="round"/>
<path d="M43.5 487.7L47.2 490" stroke="#f0f0f0" stroke-width="0.72" stroke-linecap="round"/>
<path d="M39.9 472.4L40.6 474.6" stroke="#6a6a6a" stroke-width="1.49" stroke-linecap="round"/>
<path d="M39.9 472.4L40.6 474.6" stroke="#f0f0f0" stroke-width="0.72" stroke-linecap="round"/>
<path d="M131.3 489.8L136.8 488.4" stroke="#6a6a6a" stroke-width="1.49" stroke-linecap="round"/>
<path d="M131.3 489.8L136.8 488.4" stroke="#f0f0f0" stroke-width="0.72" stroke-linecap="round"/>
<path d="M148.5 486.9L152.5 485.8" stroke="#6a6a6a" stroke-width="1.49" stroke-linecap="round"/>
<path d="M148.5 486.9L152.5 485.8" stroke="#f0f0f0" stroke-width="0.72" stroke-linecap="round"/>
<path d="M137.5 481L137.9 486.2" stroke="#6a6a6a" stroke-width="1.49" stroke-linecap="round"/>
<path d="M137.5 481L137.9 486.2" stroke="#f0f0f0" stroke-width="0.72" stroke-linecap="round"/>
<path d="M142.7 500L143.4 503" stroke="#6a6a6a" stroke-width="1.49" stroke-linecap="round"/>
<path d="M142.7 500L143.4 503" stroke="#f0f0f0" stroke-width="0.72" stroke-linecap="round"/>
<path d="M47.6 465.1L48.7 472.8" stroke="#902020" stroke-width="3.1" stroke-linecap="round"/>
<path d="M48.7 472.8L56 475.7" stroke="#237a23" stroke-width="3.1" stroke-linecap="round"/>
<path d="M48.7 472.8L37.7 478.2" stroke="#237a23" stroke-width="3.1" stroke-linecap="round"/>
<path d="M37.7 478.2L39.9 486.3" stroke="#164d16" stroke-width="3.1" stroke-linecap="round"/>
<path d="M39.9 486.3L30.8 492.1" stroke="#237a23" stroke-width="3.1" stroke-linecap="round"/>
<path d="M30.8 492.1L31.1 500.9" stroke="#237a23" stroke-width="3.1" stroke-linecap="round"/>
<path d="M141.9 479.6L145.6 486.2" stroke="#1a2a80" stroke-width="3.1" stroke-linecap="round"/>
<path d="M145.6 486.2L146.3 496.4" stroke="#237a23" stroke-width="3.1" stroke-linecap="round"/>
<path d="M138.3 486.9L139.7 495.7" stroke="#237a23" stroke-width="3.1" stroke-linecap="round"/>
<path d="M138.3 486.9L145.6 486.2" stroke="#237a23" stroke-width="3.1" stroke-linecap="round"/>
<path d="M139.7 495.7L146.3 496.4" stroke="#237a23" stroke-width="3.1" stroke-linecap="round"/>
<path d="M139.7 495.7L128.1 496.8" stroke="#237a23" stroke-width="3.1" stroke-linecap="round"/>
<path d="M128.1 496.8L123.7 496.4" stroke="#237a23" stroke-width="3.1" stroke-linecap="round"/>
<path d="M128.1 496.8L133.2 501.5" stroke="#237a23" stroke-width="3.1" stroke-linecap="round"/>
<path d="M47.6 465.1L48.15 468.95" stroke="#e04040" stroke-width="2.4" stroke-linecap="round"/>
<path d="M48.15 468.95L48.7 472.8" stroke="#3cb43c" stroke-width="2.4" stroke-linecap="round"/>
<path d="M48.7 472.8L52.35 474.25" stroke="#3cb43c" stroke-width="2.4" stroke-linecap="round"/>
<path d="M52.35 474.25L56 475.7" stroke="#e04040" stroke-width="2.4" stroke-linecap="round"/>
<path d="M48.7 472.8L43.2 475.5" stroke="#3cb43c" stroke-width="2.4" stroke-linecap="round"/>
<path d="M43.2 475.5L37.7 478.2" stroke="#3cb43c" stroke-width="2.4" stroke-linecap="round"/>
<path d="M37.7 478.2L38.8 482.25" stroke="#1f6e1f" stroke-width="2.4" stroke-linecap="round"/>
<path d="M38.8 482.25L39.9 486.3" stroke="#1f6e1f" stroke-width="2.4" stroke-linecap="round"/>
<path d="M39.9 486.3L35.35 489.2" stroke="#3cb43c" stroke-width="2.4" stroke-linecap="round"/>
<path d="M35.35 489.2L30.8 492.1" stroke="#3cb43c" stroke-width="2.4" stroke-linecap="round"/>
<path d="M30.8 492.1L30.95 496.5" stroke="#3cb43c" stroke-width="2.4" stroke-linecap="round"/>
<path d="M30.95 496.5L31.1 500.9" stroke="#e04040" stroke-width="2.4" stroke-linecap="round"/>
<path d="M141.9 479.6L143.75 482.9" stroke="#2a40c8" stroke-width="2.4" stroke-linecap="round"/>
<path d="M143.75 482.9L145.6 486.2" stroke="#3cb43c" stroke-width="2.4" stroke-linecap="round"/>
<path d="M145.6 486.2L145.95 491.3" stroke="#3cb43c" stroke-width="2.4" stroke-linecap="round"/>
<path d="M145.95 491.3L146.3 496.4" stroke="#3cb43c" stroke-width="2.4" stroke-linecap="round"/>
<path d="M138.3 486.9L139 491.3" stroke="#3cb43c" stroke-width="2.4" stroke-linecap="round"/>
<path d="M139 491.3L139.7 495.7" stroke="#3cb43c" stroke-width="2.4" stroke-linecap="round"/>
<path d="M138.3 486.9L141.95 486.55" stroke="#3cb43c" stroke-width="2.4" stroke-linecap="round"/>
<path d="M141.95 486.55L145.6 486.2" stroke="#3cb43c" stroke-width="2.4" stroke-linecap="round"/>
<path d="M139.7 495.7L143 496.05" stroke="#3cb43c" stroke-width="2.4" stroke-linecap="round"/>
<path d="M143 496.05L146.3 496.4" stroke="#3cb43c" stroke-width="2.4" stroke-linecap="round"/>
<path d="M139.7 495.7L133.9 496.25" stroke="#3cb43c" stroke-width="2.4" stroke-linecap="round"/>
<path d="M133.9 496.25L128.1 496.8" stroke="#3cb43c" stroke-width="2.4" stroke-linecap="round"/>
<path d="M128.1 496.8L125.9 496.6" stroke="#3cb43c" stroke-width="2.4" stroke-linecap="round"/>
<path d="M125.9 496.6L123.7 496.4" stroke="#e04040" stroke-width="2.4" stroke-linecap="round"/>
<path d="M128.1 496.8L130.65 499.15" stroke="#3cb43c" stroke-width="2.4" stroke-linecap="round"/>
<path d="M130.65 499.15L133.2 501.5" stroke="#e04040" stroke-width="2.4" stroke-linecap="round"/>
<path d="M47.6 465.1L48.15 468.95" stroke="#f08080" stroke-width="0.72" stroke-linecap="round" opacity="0.7"/>
<path d="M48.15 468.95L48.7 472.8" stroke="#7ed87e" stroke-width="0.72" stroke-linecap="round" opacity="0.7"/>
<path d="M48.7 472.8L52.35 474.25" stroke="#7ed87e" stroke-width="0.72" stroke-linecap="round" opacity="0.7"/>
<path d="M52.35 474.25L56 475.7" stroke="#f08080" stroke-width="0.72" stroke-linecap="round" opacity="0.7"/>
<path d="M48.7 472.8L43.2 475.5" stroke="#7ed87e" stroke-width="0.72" stroke-linecap="round" opacity="0.7"/>
<path d="M43.2 475.5L37.7 478.2" stroke="#7ed87e" stroke-width="0.72" stroke-linecap="round" opacity="0.7"/>
<path d="M37.7 478.2L38.8 482.25" stroke="#2f8a2f" stroke-width="0.72" stroke-linecap="round" opacity="0.7"/>
<path d="M38.8 482.25L39.9 486.3" stroke="#2f8a2f" stroke-width="0.72" stroke-linecap="round" opacity="0.7"/>
<path d="M39.9 486.3L35.35 489.2" stroke="#7ed87e" stroke-width="0.72" stroke-linecap="round" opacity="0.7"/>
<path d="M35.35 489.2L30.8 492.1" stroke="#7ed87e" stroke-width="0.72" stroke-linecap="round" opacity="0.7"/>
<path d="M30.8 492.1L30.95 496.5" stroke="#7ed87e" stroke-width="0.72" stroke-linecap="round" opacity="0.7"/>
<path d="M30.95 496.5L31.1 500.9" stroke="#f08080" stroke-width="0.72" stroke-linecap="round" opacity="0.7"/>
<path d="M141.9 479.6L143.75 482.9" stroke="#5a70e0" stroke-width="0.72" stroke-linecap="round" opacity="0.7"/>
<path d="M143.75 482.9L145.6 486.2" stroke="#7ed87e" stroke-width="0.72" stroke-linecap="round" opacity="0.7"/>
<path d="M145.6 486.2L145.95 491.3" stroke="#7ed87e" stroke-width="0.72" stroke-linecap="round" opacity="0.7"/>
<path d="M145.95 491.3L146.3 496.4" stroke="#7ed87e" stroke-width="0.72" stroke-linecap="round" opacity="0.7"/>
<path d="M138.3 486.9L139 491.3" stroke="#7ed87e" stroke-width="0.72" stroke-linecap="round" opacity="0.7"/>
<path d="M139 491.3L139.7 495.7" stroke="#7ed87e" stroke-width="0.72" stroke-linecap="round" opacity="0.7"/>
<path d="M138.3 486.9L141.95 486.55" stroke="#7ed87e" stroke-width="0.72" stroke-linecap="round" opacity="0.7"/>
<path d="M141.95 486.55L145.6 486.2" stroke="#7ed87e" stroke-width="0.72" stroke-linecap="round" opacity="0.7"/>
<path d="M139.7 495.7L143 496.05" stroke="#7ed87e" stroke-width="0.72" stroke-linecap="round" opacity="0.7"/>
<path d="M143 496.05L146.3 496.4" stroke="#7ed87e" stroke-width="0.72" stroke-linecap="round" opacity="0.7"/>
<path d="M139.7 495.7L133.9 496.25" stroke="#7ed87e" stroke-width="0.72" stroke-linecap="round" opacity="0.7"/>
<path d="M133.9 496.25L128.1 496.8" stroke="#7ed87e" stroke-width="0.72" stroke-linecap="round" opacity="0.7"/>
<path d="M128.1 496.8L125.9 496.6" stroke="#7ed87e" stroke-width="0.72" stroke-linecap="round" opacity="0.7"/>
<path d="M125.9 496.6L123.7 496.4" stroke="#f08080" stroke-width="0.72" stroke-linecap="round" opacity="0.7"/>
<path d="M128.1 496.8L130.65 499.15" stroke="#7ed87e" stroke-width="0.72" stroke-linecap="round" opacity="0.7"/>
<path d="M130.65 499.15L133.2 501.5" stroke="#f08080" stroke-width="0.72" stroke-linecap="round" opacity="0.7"/>
<path d="M72.27 469.06L74.95 465M77.64 460.93L74.95 465M72.27 469.06L67.25 469.08M62.23 469.1L67.25 469.08M62.23 469.1L59.77 465M57.31 460.9L59.77 465M57.31 460.9L60 456.71M62.68 452.52L60 456.71M62.68 452.52L67.82 452.56M72.96 452.6L67.82 452.56M72.96 452.6L75.3 456.76M77.64 460.93L75.3 456.76M91.95 468.98L89.27 472.93M86.59 476.88L89.27 472.93M86.59 476.88L81.72 476.92M76.86 476.97L81.72 476.92M76.86 476.97L74.56 473.02M72.27 469.06L74.56 473.02M77.64 460.93L82.61 460.94M87.59 460.95L82.61 460.94M91.95 468.98L89.77 464.97M87.59 460.95L89.77 464.97M101.59 468.95L104.33 464.96M107.07 460.98L104.33 464.96M101.59 468.95L96.77 468.96M91.95 468.98L96.77 468.96M87.59 460.95L90.33 456.85M102.93 452.82L98.01 452.78M102.93 452.82L105 456.9M107.07 460.98L105 456.9M120.48 468.87L117.74 472.74M115 476.6L117.74 472.74M115 476.6L110.33 476.65M105.66 476.69L110.33 476.65M105.66 476.69L103.62 472.82M101.59 468.95L103.62 472.82M107.07 460.98L111.85 460.99M116.62 461L111.85 460.99M116.62 461L118.55 464.93M120.48 468.87L118.55 464.93M57.31 460.9L52.24 459.89M46.12 449.04L46.65 453.96M46.12 449.04L50.98 447.06M62.68 452.52L59.26 448.79M116.62 461L120.17 457.56M131.85 457.94L127.78 456.03M131.85 457.94L130.81 462.46M120.48 468.87L125.12 467.92M88.67 443.6L90.88 448.17" stroke="#ec8a22" stroke-width="2.88" stroke-linecap="round" fill="none"/>
<path d="M47.17 458.87L52.24 459.89M47.17 458.87L46.65 453.96M55.85 445.07L50.98 447.06M55.85 445.07L59.26 448.79M123.71 454.12L120.17 457.56M123.71 454.12L127.78 456.03M129.76 466.98L130.81 462.46M129.76 466.98L125.12 467.92" stroke="#d83838" stroke-width="2.88" stroke-linecap="round" fill="none"/>
<path d="M93.08 452.74L90.33 456.85M93.08 452.74L98.01 452.78M93.08 452.74L90.88 448.17" stroke="#2a44c8" stroke-width="2.88" stroke-linecap="round" fill="none"/>
</g></g>
<defs><clipPath id="clip2"><rect x="17.5" y="425.5" width="145" height="92"/></clipPath></defs>
<g clip-path="url(#clip2)">
<rect x="17.5" y="425.5" width="145" height="92" fill="#f6f6f6"/>
<path d="M17 450C20 453.33 32.83 458.83 35 470C37.17 481.17 30.83 509.17 30 517" stroke="#dedede" stroke-width="10.3" fill="none" stroke-linecap="round"/>
<path d="M17 450C20 453.33 32.83 458.83 35 470C37.17 481.17 30.83 509.17 30 517" stroke="#f7f7f7" stroke-width="9" fill="none" stroke-linecap="round"/>
<path d="M17 450C20 453.33 32.83 458.83 35 470C37.17 481.17 30.83 509.17 30 517" stroke="#fdfdfd" stroke-width="3.6" fill="none" stroke-linecap="round"/>
<path d="M100 425C103.33 428.33 111.67 444.17 120 445C128.33 445.83 145 432.5 150 430" stroke="#dedede" stroke-width="6.3" fill="none" stroke-linecap="round"/>
<path d="M100 425C103.33 428.33 111.67 444.17 120 445C128.33 445.83 145 432.5 150 430" stroke="#f7f7f7" stroke-width="5" fill="none" stroke-linecap="round"/>
<path d="M100 425C103.33 428.33 111.67 444.17 120 445C128.33 445.83 145 432.5 150 430" stroke="#fdfdfd" stroke-width="2" fill="none" stroke-linecap="round"/>
<path d="M40 512C48.33 510.83 76.67 504.17 90 505C103.33 505.83 115 515 120 517" stroke="#dedede" stroke-width="9.3" fill="none" stroke-linecap="round"/>
<path d="M40 512C48.33 510.83 76.67 504.17 90 505C103.33 505.83 115 515 120 517" stroke="#f7f7f7" stroke-width="8" fill="none" stroke-linecap="round"/>
<path d="M40 512C48.33 510.83 76.67 504.17 90 505C103.33 505.83 115 515 120 517" stroke="#fdfdfd" stroke-width="3.2" fill="none" stroke-linecap="round"/>
<ellipse cx="64.75" cy="433" rx="7.08" ry="17" transform="rotate(61.19 64.75 433)" fill="none" stroke="#dcdcdc" stroke-width="4.6"/>
<ellipse cx="70.25" cy="443" rx="7.08" ry="17" transform="rotate(61.19 70.25 443)" fill="none" stroke="#dcdcdc" stroke-width="4.6"/>
<ellipse cx="75.75" cy="453" rx="7.08" ry="17" transform="rotate(61.19 75.75 453)" fill="none" stroke="#dcdcdc" stroke-width="4.6"/>
<ellipse cx="81.25" cy="463" rx="7.08" ry="17" transform="rotate(61.19 81.25 463)" fill="none" stroke="#dcdcdc" stroke-width="4.6"/>
<ellipse cx="86.75" cy="473" rx="7.08" ry="17" transform="rotate(61.19 86.75 473)" fill="none" stroke="#dcdcdc" stroke-width="4.6"/>
<ellipse cx="92.25" cy="483" rx="7.08" ry="17" transform="rotate(61.19 92.25 483)" fill="none" stroke="#dcdcdc" stroke-width="4.6"/>
<ellipse cx="97.75" cy="493" rx="7.08" ry="17" transform="rotate(61.19 97.75 493)" fill="none" stroke="#dcdcdc" stroke-width="4.6"/>
<ellipse cx="103.25" cy="503" rx="7.08" ry="17" transform="rotate(61.19 103.25 503)" fill="none" stroke="#dcdcdc" stroke-width="4.6"/>
<ellipse cx="64.75" cy="433" rx="7.08" ry="17" transform="rotate(61.19 64.75 433)" fill="none" stroke="#fbfbfb" stroke-width="3.4"/>
<ellipse cx="70.25" cy="443" rx="7.08" ry="17" transform="rotate(61.19 70.25 443)" fill="none" stroke="#fbfbfb" stroke-width="3.4"/>
<ellipse cx="75.75" cy="453" rx="7.08" ry="17" transform="rotate(61.19 75.75 453)" fill="none" stroke="#fbfbfb" stroke-width="3.4"/>
<ellipse cx="81.25" cy="463" rx="7.08" ry="17" transform="rotate(61.19 81.25 463)" fill="none" stroke="#fbfbfb" stroke-width="3.4"/>
<ellipse cx="86.75" cy="473" rx="7.08" ry="17" transform="rotate(61.19 86.75 473)" fill="none" stroke="#fbfbfb" stroke-width="3.4"/>
<ellipse cx="92.25" cy="483" rx="7.08" ry="17" transform="rotate(61.19 92.25 483)" fill="none" stroke="#fbfbfb" stroke-width="3.4"/>
<ellipse cx="97.75" cy="493" rx="7.08" ry="17" transform="rotate(61.19 97.75 493)" fill="none" stroke="#fbfbfb" stroke-width="3.4"/>
<ellipse cx="103.25" cy="503" rx="7.08" ry="17" transform="rotate(61.19 103.25 503)" fill="none" stroke="#fbfbfb" stroke-width="3.4"/>
<ellipse cx="141.38" cy="442.38" rx="5.69" ry="11" transform="rotate(72.55 141.38 442.38)" fill="none" stroke="#dcdcdc" stroke-width="4.6"/>
<ellipse cx="144.12" cy="451.12" rx="5.69" ry="11" transform="rotate(72.55 144.12 451.12)" fill="none" stroke="#dcdcdc" stroke-width="4.6"/>
<ellipse cx="146.88" cy="459.88" rx="5.69" ry="11" transform="rotate(72.55 146.88 459.88)" fill="none" stroke="#dcdcdc" stroke-width="4.6"/>
<ellipse cx="149.62" cy="468.62" rx="5.69" ry="11" transform="rotate(72.55 149.62 468.62)" fill="none" stroke="#dcdcdc" stroke-width="4.6"/>
<ellipse cx="152.38" cy="477.38" rx="5.69" ry="11" transform="rotate(72.55 152.38 477.38)" fill="none" stroke="#dcdcdc" stroke-width="4.6"/>
<ellipse cx="155.12" cy="486.12" rx="5.69" ry="11" transform="rotate(72.55 155.12 486.12)" fill="none" stroke="#dcdcdc" stroke-width="4.6"/>
<ellipse cx="157.88" cy="494.88" rx="5.69" ry="11" transform="rotate(72.55 157.88 494.88)" fill="none" stroke="#dcdcdc" stroke-width="4.6"/>
<ellipse cx="160.62" cy="503.62" rx="5.69" ry="11" transform="rotate(72.55 160.62 503.62)" fill="none" stroke="#dcdcdc" stroke-width="4.6"/>
<ellipse cx="141.38" cy="442.38" rx="5.69" ry="11" transform="rotate(72.55 141.38 442.38)" fill="none" stroke="#fbfbfb" stroke-width="3.4"/>
<ellipse cx="144.12" cy="451.12" rx="5.69" ry="11" transform="rotate(72.55 144.12 451.12)" fill="none" stroke="#fbfbfb" stroke-width="3.4"/>
<ellipse cx="146.88" cy="459.88" rx="5.69" ry="11" transform="rotate(72.55 146.88 459.88)" fill="none" stroke="#fbfbfb" stroke-width="3.4"/>
<ellipse cx="149.62" cy="468.62" rx="5.69" ry="11" transform="rotate(72.55 149.62 468.62)" fill="none" stroke="#fbfbfb" stroke-width="3.4"/>
<ellipse cx="152.38" cy="477.38" rx="5.69" ry="11" transform="rotate(72.55 152.38 477.38)" fill="none" stroke="#fbfbfb" stroke-width="3.4"/>
<ellipse cx="155.12" cy="486.12" rx="5.69" ry="11" transform="rotate(72.55 155.12 486.12)" fill="none" stroke="#fbfbfb" stroke-width="3.4"/>
<ellipse cx="157.88" cy="494.88" rx="5.69" ry="11" transform="rotate(72.55 157.88 494.88)" fill="none" stroke="#fbfbfb" stroke-width="3.4"/>
<ellipse cx="160.62" cy="503.62" rx="5.69" ry="11" transform="rotate(72.55 160.62 503.62)" fill="none" stroke="#fbfbfb" stroke-width="3.4"/>
</g>
<g clip-path="url(#clip2)">
<path d="M32.6 474.2L37 477.2" stroke="#6a6a6a" stroke-width="1.49" stroke-linecap="round"/>
<path d="M32.6 474.2L37 477.2" stroke="#f0f0f0" stroke-width="0.72" stroke-linecap="round"/>
<path d="M36.2 483.4L38.4 481.9" stroke="#6a6a6a" stroke-width="1.49" stroke-linecap="round"/>
<path d="M36.2 483.4L38.4 481.9" stroke="#f0f0f0" stroke-width="0.72" stroke-linecap="round"/>
<path d="M43.5 487.7L47.2 490" stroke="#6a6a6a" stroke-width="1.49" stroke-linecap="round"/>
<path d="M43.5 487.7L47.2 490" stroke="#f0f0f0" stroke-width="0.72" stroke-linecap="round"/>
<path d="M39.9 472.4L40.6 474.6" stroke="#6a6a6a" stroke-width="1.49" stroke-linecap="round"/>
<path d="M39.9 472.4L40.6 474.6" stroke="#f0f0f0" stroke-width="0.72" stroke-linecap="round"/>
<path d="M131.3 489.8L136.8 488.4" stroke="#6a6a6a" stroke-width="1.49" stroke-linecap="round"/>
<path d="M131.3 489.8L136.8 488.4" stroke="#f0f0f0" stroke-width="0.72" stroke-linecap="round"/>
<path d="M148.5 486.9L152.5 485.8" stroke="#6a6a6a" stroke-width="1.49" stroke-linecap="round"/>
<path d="M148.5 486.9L152.5 485.8" stroke="#f0f0f0" stroke-width="0.72" stroke-linecap="round"/>
<path d="M137.5 481L137.9 486.2" stroke="#6a6a6a" stroke-width="1.49" stroke-linecap="round"/>
<path d="M137.5 481L137.9 486.2" stroke="#f0f0f0" stroke-width="0.72" stroke-linecap="round"/>
<path d="M142.7 500L143.4 503" stroke="#6a6a6a" stroke-width="1.49" stroke-linecap="round"/>
<path d="M142.7 500L143.4 503" stroke="#f0f0f0" stroke-width="0.72" stroke-linecap="round"/>
<path d="M47.6 465.1L48.7 472.8" stroke="#902020" stroke-width="3.1" stroke-linecap="round"/>
<path d="M48.7 472.8L56 475.7" stroke="#237a23" stroke-width="3.1" stroke-linecap="round"/>
<path d="M48.7 472.8L37.7 478.2" stroke="#237a23" stroke-width="3.1" stroke-linecap="round"/>
<path d="M37.7 478.2L39.9 486.3" stroke="#164d16" stroke-width="3.1" stroke-linecap="round"/>
<path d="M39.9 486.3L30.8 492.1" stroke="#237a23" stroke-width="3.1" stroke-linecap="round"/>
<path d="M30.8 492.1L31.1 500.9" stroke="#237a23" stroke-width="3.1" stroke-linecap="round"/>
<path d="M141.9 479.6L145.6 486.2" stroke="#1a2a80" stroke-width="3.1" stroke-linecap="round"/>
<path d="M145.6 486.2L146.3 496.4" stroke="#237a23" stroke-width="3.1" stroke-linecap="round"/>
<path d="M138.3 486.9L139.7 495.7" stroke="#237a23" stroke-width="3.1" stroke-linecap="round"/>
<path d="M138.3 486.9L145.6 486.2" stroke="#237a23" stroke-width="3.1" stroke-linecap="round"/>
<path d="M139.7 495.7L146.3 496.4" stroke="#237a23" stroke-width="3.1" stroke-linecap="round"/>
<path d="M139.7 495.7L128.1 496.8" stroke="#237a23" stroke-width="3.1" stroke-linecap="round"/>
<path d="M128.1 496.8L123.7 496.4" stroke="#237a23" stroke-width="3.1" stroke-linecap="round"/>
<path d="M128.1 496.8L133.2 501.5" stroke="#237a23" stroke-width="3.1" stroke-linecap="round"/>
<path d="M47.6 465.1L48.15 468.95" stroke="#e04040" stroke-width="2.4" stroke-linecap="round"/>
<path d="M48.15 468.95L48.7 472.8" stroke="#3cb43c" stroke-width="2.4" stroke-linecap="round"/>
<path d="M48.7 472.8L52.35 474.25" stroke="#3cb43c" stroke-width="2.4" stroke-linecap="round"/>
<path d="M52.35 474.25L56 475.7" stroke="#e04040" stroke-width="2.4" stroke-linecap="round"/>
<path d="M48.7 472.8L43.2 475.5" stroke="#3cb43c" stroke-width="2.4" stroke-linecap="round"/>
<path d="M43.2 475.5L37.7 478.2" stroke="#3cb43c" stroke-width="2.4" stroke-linecap="round"/>
<path d="M37.7 478.2L38.8 482.25" stroke="#1f6e1f" stroke-width="2.4" stroke-linecap="round"/>
<path d="M38.8 482.25L39.9 486.3" stroke="#1f6e1f" stroke-width="2.4" stroke-linecap="round"/>
<path d="M39.9 486.3L35.35 489.2" stroke="#3cb43c" stroke-width="2.4" stroke-linecap="round"/>
<path d="M35.35 489.2L30.8 492.1" stroke="#3cb43c" stroke-width="2.4" stroke-linecap="round"/>
<path d="M30.8 492.1L30.95 496.5" stroke="#3cb43c" stroke-width="2.4" stroke-linecap="round"/>
<path d="M30.95 496.5L31.1 500.9" stroke="#e04040" stroke-width="2.4" stroke-linecap="round"/>
<path d="M141.9 479.6L143.75 482.9" stroke="#2a40c8" stroke-width="2.4" stroke-linecap="round"/>
<path d="M143.75 482.9L145.6 486.2" stroke="#3cb43c" stroke-width="2.4" stroke-linecap="round"/>
<path d="M145.6 486.2L145.95 491.3" stroke="#3cb43c" stroke-width="2.4" stroke-linecap="round"/>
<path d="M145.95 491.3L146.3 496.4" stroke="#3cb43c" stroke-width="2.4" stroke-linecap="round"/>
<path d="M138.3 486.9L139 491.3" stroke="#3cb43c" stroke-width="2.4" stroke-linecap="round"/>
<path d="M139 491.3L139.7 495.7" stroke="#3cb43c" stroke-width="2.4" stroke-linecap="round"/>
<path d="M138.3 486.9L141.95 486.55" stroke="#3cb43c" stroke-width="2.4" stroke-linecap="round"/>
<path d="M141.95 486.55L145.6 486.2" stroke="#3cb43c" stroke-width="2.4" stroke-linecap="round"/>
<path d="M139.7 495.7L143 496.05" stroke="#3cb43c" stroke-width="2.4" stroke-linecap="round"/>
<path d="M143 496.05L146.3 496.4" stroke="#3cb43c" stroke-width="2.4" stroke-linecap="round"/>
<path d="M139.7 495.7L133.9 496.25" stroke="#3cb43c" stroke-width="2.4" stroke-linecap="round"/>
<path d="M133.9 496.25L128.1 496.8" stroke="#3cb43c" stroke-width="2.4" stroke-linecap="round"/>
<path d="M128.1 496.8L125.9 496.6" stroke="#3cb43c" stroke-width="2.4" stroke-linecap="round"/>
<path d="M125.9 496.6L123.7 496.4" stroke="#e04040" stroke-width="2.4" stroke-linecap="round"/>
<path d="M128.1 496.8L130.65 499.15" stroke="#3cb43c" stroke-width="2.4" stroke-linecap="round"/>
<path d="M130.65 499.15L133.2 501.5" stroke="#e04040" stroke-width="2.4" stroke-linecap="round"/>
<path d="M47.6 465.1L48.15 468.95" stroke="#f08080" stroke-width="0.72" stroke-linecap="round" opacity="0.7"/>
<path d="M48.15 468.95L48.7 472.8" stroke="#7ed87e" stroke-width="0.72" stroke-linecap="round" opacity="0.7"/>
<path d="M48.7 472.8L52.35 474.25" stroke="#7ed87e" stroke-width="0.72" stroke-linecap="round" opacity="0.7"/>
<path d="M52.35 474.25L56 475.7" stroke="#f08080" stroke-width="0.72" stroke-linecap="round" opacity="0.7"/>
<path d="M48.7 472.8L43.2 475.5" stroke="#7ed87e" stroke-width="0.72" stroke-linecap="round" opacity="0.7"/>
<path d="M43.2 475.5L37.7 478.2" stroke="#7ed87e" stroke-width="0.72" stroke-linecap="round" opacity="0.7"/>
<path d="M37.7 478.2L38.8 482.25" stroke="#2f8a2f" stroke-width="0.72" stroke-linecap="round" opacity="0.7"/>
<path d="M38.8 482.25L39.9 486.3" stroke="#2f8a2f" stroke-width="0.72" stroke-linecap="round" opacity="0.7"/>
<path d="M39.9 486.3L35.35 489.2" stroke="#7ed87e" stroke-width="0.72" stroke-linecap="round" opacity="0.7"/>
<path d="M35.35 489.2L30.8 492.1" stroke="#7ed87e" stroke-width="0.72" stroke-linecap="round" opacity="0.7"/>
<path d="M30.8 492.1L30.95 496.5" stroke="#7ed87e" stroke-width="0.72" stroke-linecap="round" opacity="0.7"/>
<path d="M30.95 496.5L31.1 500.9" stroke="#f08080" stroke-width="0.72" stroke-linecap="round" opacity="0.7"/>
<path d="M141.9 479.6L143.75 482.9" stroke="#5a70e0" stroke-width="0.72" stroke-linecap="round" opacity="0.7"/>
<path d="M143.75 482.9L145.6 486.2" stroke="#7ed87e" stroke-width="0.72" stroke-linecap="round" opacity="0.7"/>
<path d="M145.6 486.2L145.95 491.3" stroke="#7ed87e" stroke-width="0.72" stroke-linecap="round" opacity="0.7"/>
<path d="M145.95 491.3L146.3 496.4" stroke="#7ed87e" stroke-width="0.72" stroke-linecap="round" opacity="0.7"/>
<path d="M138.3 486.9L139 491.3" stroke="#7ed87e" stroke-width="0.72" stroke-linecap="round" opacity="0.7"/>
<path d="M139 491.3L139.7 495.7" stroke="#7ed87e" stroke-width="0.72" stroke-linecap="round" opacity="0.7"/>
<path d="M138.3 486.9L141.95 486.55" stroke="#7ed87e" stroke-width="0.72" stroke-linecap="round" opacity="0.7"/>
<path d="M141.95 486.55L145.6 486.2" stroke="#7ed87e" stroke-width="0.72" stroke-linecap="round" opacity="0.7"/>
<path d="M139.7 495.7L143 496.05" stroke="#7ed87e" stroke-width="0.72" stroke-linecap="round" opacity="0.7"/>
<path d="M143 496.05L146.3 496.4" stroke="#7ed87e" stroke-width="0.72" stroke-linecap="round" opacity="0.7"/>
<path d="M139.7 495.7L133.9 496.25" stroke="#7ed87e" stroke-width="0.72" stroke-linecap="round" opacity="0.7"/>
<path d="M133.9 496.25L128.1 496.8" stroke="#7ed87e" stroke-width="0.72" stroke-linecap="round" opacity="0.7"/>
<path d="M128.1 496.8L125.9 496.6" stroke="#7ed87e" stroke-width="0.72" stroke-linecap="round" opacity="0.7"/>
<path d="M125.9 496.6L123.7 496.4" stroke="#f08080" stroke-width="0.72" stroke-linecap="round" opacity="0.7"/>
<path d="M128.1 496.8L130.65 499.15" stroke="#7ed87e" stroke-width="0.72" stroke-linecap="round" opacity="0.7"/>
<path d="M130.65 499.15L133.2 501.5" stroke="#f08080" stroke-width="0.72" stroke-linecap="round" opacity="0.7"/>
<path d="M43.5 464.5L46 462" stroke="#d0d020" stroke-width="1.2" stroke-dasharray="1.1 1.3" fill="none"/>
<path d="M131.5 469.5L134.5 474.5" stroke="#d0d020" stroke-width="1.2" stroke-dasharray="1.1 1.3" fill="none"/>
<path d="M72.27 469.06L77.64 460.93M72.27 469.06L62.23 469.1M62.23 469.1L57.31 460.9M57.31 460.9L62.68 452.52M62.68 452.52L72.96 452.6M72.96 452.6L77.64 460.93M91.95 468.98L86.59 476.88M86.59 476.88L76.86 476.97M76.86 476.97L72.27 469.06M77.64 460.93L87.59 460.95M91.95 468.98L87.59 460.95M101.59 468.95L107.07 460.98M101.59 468.95L91.95 468.98M87.59 460.95L93.08 452.74M93.08 452.74L102.93 452.82M102.93 452.82L107.07 460.98M120.48 468.87L115 476.6M115 476.6L105.66 476.69M105.66 476.69L101.59 468.95M107.07 460.98L116.62 461M116.62 461L120.48 468.87M57.31 460.9L47.17 458.87M47.17 458.87L46.12 449.04M46.12 449.04L55.85 445.07M55.85 445.07L62.68 452.52M116.62 461L123.71 454.12M123.71 454.12L131.85 457.94M131.85 457.94L129.76 466.98M129.76 466.98L120.48 468.87M93.08 452.74L88.67 443.6" stroke="#b05a10" stroke-width="3.3" stroke-linecap="round" stroke-linejoin="round" fill="none"/>
<path d="M72.27 469.06L74.95 465M77.64 460.93L74.95 465M72.27 469.06L67.25 469.08M62.23 469.1L67.25 469.08M62.23 469.1L59.77 465M57.31 460.9L59.77 465M57.31 460.9L60 456.71M62.68 452.52L60 456.71M62.68 452.52L67.82 452.56M72.96 452.6L67.82 452.56M72.96 452.6L75.3 456.76M77.64 460.93L75.3 456.76M91.95 468.98L89.27 472.93M86.59 476.88L89.27 472.93M86.59 476.88L81.72 476.92M76.86 476.97L81.72 476.92M76.86 476.97L74.56 473.02M72.27 469.06L74.56 473.02M77.64 460.93L82.61 460.94M87.59 460.95L82.61 460.94M91.95 468.98L89.77 464.97M87.59 460.95L89.77 464.97M101.59 468.95L104.33 464.96M107.07 460.98L104.33 464.96M101.59 468.95L96.77 468.96M91.95 468.98L96.77 468.96M87.59 460.95L90.33 456.85M102.93 452.82L98.01 452.78M102.93 452.82L105 456.9M107.07 460.98L105 456.9M120.48 468.87L117.74 472.74M115 476.6L117.74 472.74M115 476.6L110.33 476.65M105.66 476.69L110.33 476.65M105.66 476.69L103.62 472.82M101.59 468.95L103.62 472.82M107.07 460.98L111.85 460.99M116.62 461L111.85 460.99M116.62 461L118.55 464.93M120.48 468.87L118.55 464.93M57.31 460.9L52.24 459.89M46.12 449.04L46.65 453.96M46.12 449.04L50.98 447.06M62.68 452.52L59.26 448.79M116.62 461L120.17 457.56M131.85 457.94L127.78 456.03M131.85 457.94L130.81 462.46M120.48 468.87L125.12 467.92M88.67 443.6L90.88 448.17" stroke="#ec8a22" stroke-width="2.4" stroke-linecap="round" fill="none"/>
<path d="M47.17 458.87L52.24 459.89M47.17 458.87L46.65 453.96M55.85 445.07L50.98 447.06M55.85 445.07L59.26 448.79M123.71 454.12L120.17 457.56M123.71 454.12L127.78 456.03M129.76 466.98L130.81 462.46M129.76 466.98L125.12 467.92" stroke="#d83838" stroke-width="2.4" stroke-linecap="round" fill="none"/>
<path d="M93.08 452.74L90.33 456.85M93.08 452.74L98.01 452.78M93.08 452.74L90.88 448.17" stroke="#2a44c8" stroke-width="2.4" stroke-linecap="round" fill="none"/>
<path d="M72.27 469.06L74.95 465M77.64 460.93L74.95 465M72.27 469.06L67.25 469.08M62.23 469.1L67.25 469.08M62.23 469.1L59.77 465M57.31 460.9L59.77 465M57.31 460.9L60 456.71M62.68 452.52L60 456.71M62.68 452.52L67.82 452.56M72.96 452.6L67.82 452.56M72.96 452.6L75.3 456.76M77.64 460.93L75.3 456.76M91.95 468.98L89.27 472.93M86.59 476.88L89.27 472.93M86.59 476.88L81.72 476.92M76.86 476.97L81.72 476.92M76.86 476.97L74.56 473.02M72.27 469.06L74.56 473.02M77.64 460.93L82.61 460.94M87.59 460.95L82.61 460.94M91.95 468.98L89.77 464.97M87.59 460.95L89.77 464.97M101.59 468.95L104.33 464.96M107.07 460.98L104.33 464.96M101.59 468.95L96.77 468.96M91.95 468.98L96.77 468.96M87.59 460.95L90.33 456.85M102.93 452.82L98.01 452.78M102.93 452.82L105 456.9M107.07 460.98L105 456.9M120.48 468.87L117.74 472.74M115 476.6L117.74 472.74M115 476.6L110.33 476.65M105.66 476.69L110.33 476.65M105.66 476.69L103.62 472.82M101.59 468.95L103.62 472.82M107.07 460.98L111.85 460.99M116.62 461L111.85 460.99M116.62 461L118.55 464.93M120.48 468.87L118.55 464.93M57.31 460.9L52.24 459.89M46.12 449.04L46.65 453.96M46.12 449.04L50.98 447.06M62.68 452.52L59.26 448.79M116.62 461L120.17 457.56M131.85 457.94L127.78 456.03M131.85 457.94L130.81 462.46M120.48 468.87L125.12 467.92M88.67 443.6L90.88 448.17" stroke="#f6a850" stroke-width="0.84" stroke-linecap="round" fill="none" opacity="0.8"/>
<text x="43.6" y="465" text-anchor="end" font-family="'Liberation Sans', sans-serif" font-size="5.9" fill="#2a2a2a">2.1</text>
<text x="39.9" y="471.7" text-anchor="end" font-family="'Liberation Sans', sans-serif" font-size="5.9" fill="#2a2a2a">ASP-173</text>
<text x="132.8" y="470.8" text-anchor="start" font-family="'Liberation Sans', sans-serif" font-size="5.9" fill="#2a2a2a">1.9</text>
<text x="136.8" y="477" text-anchor="start" font-family="'Liberation Sans', sans-serif" font-size="5.9" fill="#2a2a2a">GLU-160</text>
</g>
<path d="M75.5 401.5L17.5 425.5M97.5 401.5L162.5 425.5" stroke="#222" stroke-width="0.9" fill="none"/>
<rect x="75.5" y="382.5" width="22" height="19" fill="none" stroke="#222" stroke-width="1"/>
<rect x="17.5" y="425.5" width="145" height="92" fill="none" stroke="#333" stroke-width="1"/>
<path d="M86.75 587.05q-1.07 0.2 -1.89 2.2M60.28 590.97q1.53 1.06 2.95 0.61M62.15 598.69q-0.63 0.57 -3.35 -1.72M106.34 596.73q1.69 -1.3 -2.84 0.39M85.6 578.91q-0.15 1.79 -1.24 0.08M92.4 593.44q-0.35 1.11 1.34 1.53M60.34 579.18q1.85 2 2.54 1.06M75.03 590.72q-1.59 -0.65 -2.84 -0.76M87.54 577.04q1.78 -0.7 1.01 -1.32M95.95 596.36q-0.13 0.33 2.35 1.82M87.02 590.33q1.58 -0.58 2.41 -1.08M115.97 605.62q1.63 -1.07 1.29 -0.19M71.04 601.5q0.43 -1.12 -1.32 -0.93M81.76 619.26q0.92 1.85 -2.19 1.84M111.54 599.14q-0.83 0.66 -2.07 0.49M108.82 587.22q-0.26 0.6 -2.14 0.46M96.83 589.41q1.37 -0.12 1.78 -1.88M104.79 576.08q-0.16 -0.31 -2.74 1.66M99.86 577.23q-1.14 0.9 2.18 -0.92M64.39 572.51q1.52 0.64 -1.57 -0.7M67.32 608.95q1.91 0.33 -2.14 -0.85M107.2 569.69q0.02 -0.99 3.02 -2.47M96.39 573.93q1.22 1.66 2.94 -0.95M111.02 582.69q1.01 -0.46 -0.78 -1.24M93.23 588.53q-0.33 0.2 1.53 -0.45M105.16 587q-0.35 0.2 -2.86 -2.39M77.89 617.12q1.31 0.77 0.84 0.45M89.55 590.29q0.49 -2 -2.76 -1.64M82.7 586.92q-0.17 0.29 -3.49 1.84M87.45 590.34q0.87 0.59 -3.04 0.43M84.5 589.47q-0.54 -1.54 -2.45 1M102.98 599.59q0.86 -0.91 -0.41 0.31M89.13 581.39q1.63 0.43 2.76 0.12M98.46 596.55q-1.84 1.42 -2.52 1.48M103.09 606.39q0.25 -1.3 -2.87 -1.17M82.09 600.01q1.62 1.77 -1.89 1.85M103.66 575.5q-0.68 -1.26 1.17 2.04M118.46 582.05q0.51 1.85 2.32 2.24M113.23 578.17q-1.68 1.9 -3.21 -1.69M94.08 591.47q1.94 0.04 2.43 1.43M118.42 580.11q0.32 1.12 -0.52 0.18M82.24 606.19q-1.94 1.61 3.13 -2.12M88.56 602.54q0.92 -1.91 2.54 -1.07M113.79 573.16q0.15 -0.95 2.33 -0.91M81.31 598.7q-1.69 0 -1.61 -2.12M120.37 589.76q-0.87 -0.69 2.28 1.11M102.59 602.87q-0.03 0.01 -3.23 1.3M60.65 597.65q1.34 -0.21 -0.77 -1.62M81.12 593.1q-1.85 -0.52 2.11 1.81M103.81 609.84q1.1 -0.4 2.79 0.02M110.49 595.21q-1.73 0.97 -0.14 -0.41M89.22 592.79q-0.09 -0.8 2.73 1.89M88.7 575.18q1.1 -1.95 2.67 -2.39M67.99 576.14q-1.28 -1.94 -2.53 1.38M86.36 589.5q0.9 -0.01 -2 1.34M67.01 585.98q-0.87 1.24 -1.64 -0.29M80.96 612.21q-1.86 -1.59 0.8 -0.69M100.69 606.49q-1.93 0.41 1.5 0.19M114.93 574q1.63 -1.95 2.74 1.46M82.55 603.19q0.14 -1.42 -3 -1.24M114.04 572.42q-1.74 -1.15 1.13 0.84M68.41 582.54q-1.36 -1.69 2.04 -0.71M89.3 570.21q1.42 -0.61 -1.2 -0.13M86.93 605.33q-1.65 1.65 3.17 -1.37M67.19 610.21q-0.44 1.39 0.07 0.16M101.05 588.85q-0.61 0.78 -0.49 0.89M66.64 586.04q-0.55 0.91 1.91 -0.32M88 600.13q1.42 1.41 -1.29 0.98M107.84 580.68q-1.94 0.13 0.45 -0.38M118.31 581.25q1.28 -1.89 3.25 -2.22M87.24 564q-0.08 -0.82 1.55 1.5M88.81 598.8q1.03 -0.91 2.66 1.44M98.32 577.24q-1.54 -0.64 2.75 -0.87M78.57 564.81q-0.19 0.25 0.08 1.2M86.57 613.8q-0.16 0.81 0.39 -0.34M78.22 563.33q-0.57 1.46 1.52 -2.2M111.91 588.49q-1.94 1.33 -1.15 -1.4M88.94 612.52q-1.86 0.15 -0.82 1.09M71.25 608.14q-0.15 1.71 1.97 0.22M101.5 613.31q-1.16 1.84 -0.36 -0.07M110.79 587.05q1.25 -0.69 0.81 -2.19M82.5 610.68q-1.16 -0.61 -2.43 1.65M84.44 618.8q0.19 1.89 3.33 -0.23M101.46 607.95q1.21 -1.77 1.48 2.26M119.11 584.07q1.77 0.33 0.96 0.11M100.2 562.36q1.17 -1.97 -1.03 1.59M65.91 573.94q-1.61 0.17 -1.11 -1.92M93.7 613.42q-0.56 -1.06 0.06 -2.14M91.73 592.49q-0.09 -0.7 1.99 -1.83M100.91 569.23q-0.66 -1.81 -3.46 -0.96M94.52 588.55q-1.32 -1.38 1.15 -1.46M78.35 594q0.27 -1.18 3.1 0.42M97.76 569.5q-0.1 -1.82 0.54 -0.39M93.71 581.39q0.4 0.52 -0.08 -1.26M67.09 604.8q-1.91 1.74 1.58 1.59M108.88 580.91q0.04 -0.23 2.73 -0.95M84.36 601.29q-0.53 -1.77 1.42 -2.21M57.79 589.35q0.33 -0.39 -1.41 -0.84M108.69 574.84q0.34 0.24 -2.25 -1.88M102.41 602.7q-1.84 -1.07 -0.52 -0.71M82.05 593.83q0.41 -0.64 -1.73 -0.6M85.74 584.82q0.48 1.04 0.66 -0.04M88.84 604.89q0.19 0.21 -1.85 -1.8M84.43 607.59q1.53 -1.45 -1.3 -0.64M88.24 586.95q0.79 -0.82 2.73 -2.19M89.36 578.74q-0.78 -1.51 -2.15 -1.78M99.48 578.28q-0.73 -1.76 3.37 2.14M83.27 585.17q0.54 1.38 3.37 -1.86M98.69 561.9q0.22 -1.27 0.08 -0.88M92.16 587.25q-0.7 0.51 -3.21 0.1M77.95 587.9q-0.48 -1.46 1.1 0.7M89.28 605.1q0.61 -1.01 3.06 1.93M76.83 612.5q-1.68 1.71 1.45 -0.97M96.27 563.92q0.54 -0.04 0.34 0.7M108.88 590.65q1.55 0.01 1.53 -2.36M79.51 603.53q-1.58 1.09 2.26 0.95M76.09 600.14q1.54 1.13 2.06 -2.26M97.26 585.27q-0.46 0.58 -2 2.23M83.6 602.73q1.41 0.8 -1.34 1.7M98.75 562.1q-1.58 1.64 3.28 1.12M71.5 587.93q-1.29 -0.78 1.16 2.3M107.81 588.29q-1.85 0.63 3.3 -0.05M63.08 588.28q0.56 0.88 2.12 1.17M111.65 603q1.72 -0.34 -2.67 2.47M106.44 568.45q0.49 -0.65 1.92 -2.13M64.86 593.27q0.68 1.7 3.42 -0.32M72.12 596.41q0.06 -1.81 -2.76 -1.5M80.8 595.22q0.14 -1.72 0.02 0.65M70.58 601.54q-1.99 -0.18 -2.87 0.37M88.36 585.2q-0.6 1.95 -1.53 0.72M64.65 579.15q1.22 -1.87 0.93 0.92M77.36 587.89q1.92 -0.51 -2.49 -1.16M73.41 570.53q-1.62 -1.68 1.75 1.77M80.38 601.35q-0.36 -1.4 3.5 0.49M103.53 573.09q1.67 0.73 2.98 0.57M83.25 606.01q-1.74 1.3 -2.3 1.32M115.2 603.26q1.72 -0.12 -0.72 1.52M61.44 586.45q0.24 0.87 -3.04 -0.74M74.92 592.06q1.5 1.36 -3.22 -1.34M73.42 565.47q-1.64 0.74 3.31 1.48M95.02 617.99q-1.91 -0.75 -2.1 -2.16M111.95 609.57q-1.3 -0.11 -0.23 -1.29M80.13 586.16q-1.29 -1.68 -2.65 0.19M104.56 571.9q0.21 0.21 0.84 -0.67M79.33 602.58q0.9 -0.43 2.58 -2.01M114.07 593.23q-1.18 -1.55 0.62 0.1M64.07 607.68q-0.6 1.33 -1.72 0.49M65.58 603.99q1.47 -0.13 1.06 0.76M65.85 572.72q-1.59 0.33 -1.76 -0.24M88.56 620.46q-1.03 1.68 3.47 -0.14M76.88 602.86q0.52 1.69 -2.36 0.23M118.78 581.88q0.91 -0.94 -1.72 -0.41M82.28 588.04q1.62 -0.12 -2.34 -1.87M119.43 593.72q-1.71 -1.87 -3.09 -1.34M119.23 593.47q0.41 1.71 -0.02 -0.87M117.11 590.58q0.89 -0.33 2 2.24M110.3 599.36q0.97 0.06 0.07 -1.07M77.42 571.46q0.03 1.37 0.48 1.09M87.35 602.7q0.09 -0.24 0.9 0.62M97.47 588.72q-0.59 1.63 0.91 0.87M107.5 585.66q0.99 0.62 0.34 1.15M111.16 580.16q0.17 -0.71 2.59 1.83M103.99 610.18q1.92 -1.36 -0.18 -1.51M84.48 582.14q-1.95 1.92 -3.29 1.98M98.86 583.66q1.96 -0.1 -1.97 2.13M69.42 592.35q-1.01 1.77 0.07 0.15M99.56 578.42q-0.17 1.57 0.47 1.04M94.95 562.78q-1.6 -0.44 -1.34 -0.37M103.32 597.13q1.26 -0.75 -0.84 -1.43M99.83 602.4q-1.52 1.79 -3.14 1.91M99.07 593.06q1.23 0.67 2.14 -1.52M89.82 594.28q-0.93 -0.43 -1.44 0.86M88.13 576.18q-1.13 1.95 -2.58 -2.03M80.77 594.28q-0.69 -1.56 -2.69 -2.45M118.99 588.8q-1.29 0.18 2.6 -2.01M77.12 597.3q-1.94 -1.56 -0.85 -1.8M67.52 587.28q1.23 -0.72 -0.17 0.47M92.7 597.33q-1.91 -0.57 0.2 -0.47M81.77 589.43q1.29 -0.17 1.74 1.51M75.24 573.03q-0.96 -0.04 0.44 1.15M107.98 584.4q-0.57 0.94 -0.69 -1.08M98.84 587.77q-1.8 -1.63 0.01 1.02M97.5 584.97q-0.11 -0.66 1.06 -1.41M80.54 595.34q1.12 0.4 2.09 0.28M91.37 593.06q0.87 -1.37 0.29 1.05M101.26 611.85q-1.81 -0.69 0.46 1.3M105.39 570.89q1.7 -1.49 -3.21 -0.28M94.85 596.03q-0.03 -0.62 -1.33 1.26M63.31 574.67q-0.35 -0.14 0.7 1.52M64.33 579.95q-1.97 -1.77 1.63 -2.03" stroke="#d9d9d9" stroke-width="0.5" fill="none"/>
<path d="M102.3 569.49a1.05 0.78 0 1 0 2.09 0a1.05 0.78 0 1 0 -2.09 0M84.42 564.6a1.6 1.2 0 1 0 3.21 0a1.6 1.2 0 1 0 -3.21 0M94.9 612.51a2.24 1.68 0 1 0 4.47 0a2.24 1.68 0 1 0 -4.47 0M61.84 595.12a1.29 0.97 0 1 0 2.57 0a1.29 0.97 0 1 0 -2.57 0M88.29 598.95a1.91 1.43 0 1 0 3.82 0a1.91 1.43 0 1 0 -3.82 0M62.67 591.75a2.39 1.79 0 1 0 4.77 0a2.39 1.79 0 1 0 -4.77 0M86.68 585.47a1.67 1.25 0 1 0 3.33 0a1.67 1.25 0 1 0 -3.33 0M104.97 598.6a1.92 1.44 0 1 0 3.85 0a1.92 1.44 0 1 0 -3.85 0M101.33 574.02a1.2 0.9 0 1 0 2.39 0a1.2 0.9 0 1 0 -2.39 0M65.37 596.7a2.14 1.61 0 1 0 4.29 0a2.14 1.61 0 1 0 -4.29 0M67.33 594.12a1.24 0.93 0 1 0 2.49 0a1.24 0.93 0 1 0 -2.49 0M88.39 584.15a1.57 1.17 0 1 0 3.13 0a1.57 1.17 0 1 0 -3.13 0M105.28 582.95a1.59 1.2 0 1 0 3.19 0a1.59 1.2 0 1 0 -3.19 0M102.19 595.81a1.88 1.41 0 1 0 3.76 0a1.88 1.41 0 1 0 -3.76 0M103.55 604.62a1.35 1.01 0 1 0 2.69 0a1.35 1.01 0 1 0 -2.69 0M98.04 598a1.77 1.32 0 1 0 3.53 0a1.77 1.32 0 1 0 -3.53 0M65.16 584.94a1.3 0.97 0 1 0 2.59 0a1.3 0.97 0 1 0 -2.59 0M84.06 568.26a2.32 1.74 0 1 0 4.64 0a2.32 1.74 0 1 0 -4.64 0M85.15 586.37a1.15 0.87 0 1 0 2.31 0a1.15 0.87 0 1 0 -2.31 0M111.08 576.58a2.38 1.79 0 1 0 4.77 0a2.38 1.79 0 1 0 -4.77 0M94.28 582.37a1.65 1.24 0 1 0 3.3 0a1.65 1.24 0 1 0 -3.3 0M99.55 573.75a1.56 1.17 0 1 0 3.12 0a1.56 1.17 0 1 0 -3.12 0M91.58 583.73a1.71 1.28 0 1 0 3.42 0a1.71 1.28 0 1 0 -3.42 0M75.89 600.57a1.51 1.13 0 1 0 3.02 0a1.51 1.13 0 1 0 -3.02 0M109.79 594.38a1.33 1 0 1 0 2.66 0a1.33 1 0 1 0 -2.66 0M79.19 613.38a2.34 1.75 0 1 0 4.67 0a2.34 1.75 0 1 0 -4.67 0M97.03 580.67a2.12 1.59 0 1 0 4.24 0a2.12 1.59 0 1 0 -4.24 0M87.05 603.6a2.02 1.51 0 1 0 4.04 0a2.02 1.51 0 1 0 -4.04 0M100.94 600.85a1.79 1.34 0 1 0 3.58 0a1.79 1.34 0 1 0 -3.58 0M108.49 574.11a1.62 1.22 0 1 0 3.25 0a1.62 1.22 0 1 0 -3.25 0M98.42 600.68a2.08 1.56 0 1 0 4.15 0a2.08 1.56 0 1 0 -4.15 0M99.69 601.21a2.35 1.76 0 1 0 4.7 0a2.35 1.76 0 1 0 -4.7 0M110.79 579.57a2.01 1.5 0 1 0 4.01 0a2.01 1.5 0 1 0 -4.01 0M99.04 570.59a1.7 1.28 0 1 0 3.41 0a1.7 1.28 0 1 0 -3.41 0M77.51 577.93a2.29 1.72 0 1 0 4.59 0a2.29 1.72 0 1 0 -4.59 0M100.96 591.27a2.02 1.51 0 1 0 4.04 0a2.02 1.51 0 1 0 -4.04 0M108.45 571.89a1.54 1.16 0 1 0 3.09 0a1.54 1.16 0 1 0 -3.09 0M86.71 592.8a1.48 1.11 0 1 0 2.97 0a1.48 1.11 0 1 0 -2.97 0M76.74 575.69a1.52 1.14 0 1 0 3.04 0a1.52 1.14 0 1 0 -3.04 0M91.29 597.37a2.18 1.64 0 1 0 4.36 0a2.18 1.64 0 1 0 -4.36 0" stroke="#d4d4d4" stroke-width="0.5" fill="none"/>
<defs><clipPath id="sclip3"><rect x="76.5" y="575.5" width="26" height="18"/></clipPath></defs>
<g clip-path="url(#sclip3)"><g transform="translate(88.5,586) scale(0.1650) translate(-102.16,-700.62)">
<path d="M99.4 635.8L100.9 639.7" stroke="#6a6a6a" stroke-width="2.05" stroke-linecap="round"/>
<path d="M99.4 635.8L100.9 639.7" stroke="#f0f0f0" stroke-width="0.99" stroke-linecap="round"/>
<path d="M93.6 639.1L96.5 640.9" stroke="#6a6a6a" stroke-width="2.05" stroke-linecap="round"/>
<path d="M93.6 639.1L96.5 640.9" stroke="#f0f0f0" stroke-width="0.99" stroke-linecap="round"/>
<path d="M83.4 653.4L85.5 651.9" stroke="#6a6a6a" stroke-width="2.05" stroke-linecap="round"/>
<path d="M83.4 653.4L85.5 651.9" stroke="#f0f0f0" stroke-width="0.99" stroke-linecap="round"/>
<path d="M96.5 655.5L99.8 660.7" stroke="#6a6a6a" stroke-width="2.05" stroke-linecap="round"/>
<path d="M96.5 655.5L99.8 660.7" stroke="#f0f0f0" stroke-width="0.99" stroke-linecap="round"/>
<path d="M103.1 649.7L105.3 651.2" stroke="#6a6a6a" stroke-width="2.05" stroke-linecap="round"/>
<path d="M103.1 649.7L105.3 651.2" stroke="#f0f0f0" stroke-width="0.99" stroke-linecap="round"/>
<path d="M80.4 637.7L84.8 642.4" stroke="#902020" stroke-width="4" stroke-linecap="round"/>
<path d="M80.4 637.7L75.8 640.5" stroke="#902020" stroke-width="4" stroke-linecap="round"/>
<path d="M81.9 641L97.2 655.5" stroke="#237a23" stroke-width="4" stroke-linecap="round"/>
<path d="M83.4 657L100.9 641.7" stroke="#237a23" stroke-width="4" stroke-linecap="round"/>
<path d="M100.9 641.7L103.1 643.9" stroke="#237a23" stroke-width="4" stroke-linecap="round"/>
<path d="M83.4 657L79.7 665" stroke="#237a23" stroke-width="4" stroke-linecap="round"/>
<path d="M80.4 637.7L82.6 640.05" stroke="#e04040" stroke-width="3.3" stroke-linecap="round"/>
<path d="M82.6 640.05L84.8 642.4" stroke="#3cb43c" stroke-width="3.3" stroke-linecap="round"/>
<path d="M80.4 637.7L78.1 639.1" stroke="#e04040" stroke-width="3.3" stroke-linecap="round"/>
<path d="M78.1 639.1L75.8 640.5" stroke="#444444" stroke-width="3.3" stroke-linecap="round"/>
<path d="M81.9 641L89.55 648.25" stroke="#3cb43c" stroke-width="3.3" stroke-linecap="round"/>
<path d="M89.55 648.25L97.2 655.5" stroke="#3cb43c" stroke-width="3.3" stroke-linecap="round"/>
<path d="M83.4 657L92.15 649.35" stroke="#3cb43c" stroke-width="3.3" stroke-linecap="round"/>
<path d="M92.15 649.35L100.9 641.7" stroke="#3cb43c" stroke-width="3.3" stroke-linecap="round"/>
<path d="M100.9 641.7L102 642.8" stroke="#3cb43c" stroke-width="3.3" stroke-linecap="round"/>
<path d="M102 642.8L103.1 643.9" stroke="#2a40c8" stroke-width="3.3" stroke-linecap="round"/>
<path d="M83.4 657L81.55 661" stroke="#3cb43c" stroke-width="3.3" stroke-linecap="round"/>
<path d="M81.55 661L79.7 665" stroke="#e04040" stroke-width="3.3" stroke-linecap="round"/>
<path d="M80.4 637.7L82.6 640.05" stroke="#f08080" stroke-width="0.99" stroke-linecap="round" opacity="0.7"/>
<path d="M82.6 640.05L84.8 642.4" stroke="#7ed87e" stroke-width="0.99" stroke-linecap="round" opacity="0.7"/>
<path d="M80.4 637.7L78.1 639.1" stroke="#f08080" stroke-width="0.99" stroke-linecap="round" opacity="0.7"/>
<path d="M78.1 639.1L75.8 640.5" stroke="#666666" stroke-width="0.99" stroke-linecap="round" opacity="0.7"/>
<path d="M81.9 641L89.55 648.25" stroke="#7ed87e" stroke-width="0.99" stroke-linecap="round" opacity="0.7"/>
<path d="M89.55 648.25L97.2 655.5" stroke="#7ed87e" stroke-width="0.99" stroke-linecap="round" opacity="0.7"/>
<path d="M83.4 657L92.15 649.35" stroke="#7ed87e" stroke-width="0.99" stroke-linecap="round" opacity="0.7"/>
<path d="M92.15 649.35L100.9 641.7" stroke="#7ed87e" stroke-width="0.99" stroke-linecap="round" opacity="0.7"/>
<path d="M100.9 641.7L102 642.8" stroke="#7ed87e" stroke-width="0.99" stroke-linecap="round" opacity="0.7"/>
<path d="M102 642.8L103.1 643.9" stroke="#5a70e0" stroke-width="0.99" stroke-linecap="round" opacity="0.7"/>
<path d="M83.4 657L81.55 661" stroke="#7ed87e" stroke-width="0.99" stroke-linecap="round" opacity="0.7"/>
<path d="M81.55 661L79.7 665" stroke="#f08080" stroke-width="0.99" stroke-linecap="round" opacity="0.7"/>
<path d="M125.31 702.55L119.95 697.63M114.6 692.71L119.95 697.63M125.31 702.55L131.42 701.47M137.53 700.39L131.42 701.47M137.53 700.39L137.83 694.42M138.13 688.44L137.83 694.42M138.13 688.44L132.69 683.91M127.25 679.38L132.69 683.91M127.25 679.38L121.58 680.44M115.91 681.49L121.58 680.44M115.91 681.49L115.25 687.1M114.6 692.71L115.25 687.1M101.2 706.81L106.45 712.16M111.7 717.51L106.45 712.16M111.7 717.51L117.96 716.44M124.23 715.36L117.96 716.44M124.23 715.36L124.77 708.95M125.31 702.55L124.77 708.95M114.6 692.71L108.79 693.76M102.99 694.81L108.79 693.76M101.2 706.81L102.1 700.81M102.99 694.81L102.1 700.81M89.32 708.91L84.7 703.94M80.08 698.96L84.7 703.94M89.32 708.91L95.26 707.86M101.2 706.81L95.26 707.86M102.99 694.81L98.25 690.23M82.46 687.69L87.99 686.67M82.46 687.69L81.27 693.33M80.08 698.96L81.27 693.33M65.88 713.05L70.36 718.45M74.83 723.85L70.36 718.45M74.83 723.85L80.92 722.8M87.01 721.76L80.92 722.8M87.01 721.76L88.16 715.33M89.32 708.91L88.16 715.33M80.08 698.96L74.43 699.99M68.78 701.01L74.43 699.99M68.78 701.01L67.33 707.03M65.88 713.05L67.33 707.03M138.13 688.44L143.28 686.14M143.32 672.28L145.87 678.06M143.32 672.28L137 671.05M127.25 679.38L128.96 674.6M68.78 701.01L63.97 697.25M50.26 700.13L54.71 696.81M50.26 700.13L52.13 706.23M65.88 713.05L59.94 712.69M95.14 674.36L94.33 680" stroke="#e6e020" stroke-width="3.48" stroke-linecap="round" fill="none"/>
<path d="M148.42 683.84L143.28 686.14M148.42 683.84L145.87 678.06M130.67 669.82L137 671.05M130.67 669.82L128.96 674.6M59.15 693.49L63.97 697.25M59.15 693.49L54.71 696.81M54 712.33L52.13 706.23M54 712.33L59.94 712.69" stroke="#d83838" stroke-width="3.48" stroke-linecap="round" fill="none"/>
<path d="M93.51 685.64L98.25 690.23M93.51 685.64L87.99 686.67M93.51 685.64L94.33 680" stroke="#2a44c8" stroke-width="3.48" stroke-linecap="round" fill="none"/>
</g></g>
<defs><clipPath id="clip3"><rect x="16.5" y="627.5" width="146" height="101"/></clipPath></defs>
<g clip-path="url(#clip3)">
<rect x="16.5" y="627.5" width="146" height="101" fill="#f6f6f6"/>
<path d="M16 660C20 658.33 31.83 653.67 40 650C48.17 646.33 60.83 640 65 638" stroke="#dedede" stroke-width="11.3" fill="none" stroke-linecap="round"/>
<path d="M16 660C20 658.33 31.83 653.67 40 650C48.17 646.33 60.83 640 65 638" stroke="#f7f7f7" stroke-width="10" fill="none" stroke-linecap="round"/>
<path d="M16 660C20 658.33 31.83 653.67 40 650C48.17 646.33 60.83 640 65 638" stroke="#fdfdfd" stroke-width="4" fill="none" stroke-linecap="round"/>
<path d="M120 628C123.33 633.33 133 653 140 660C147 667 158.33 668.33 162 670" stroke="#dedede" stroke-width="11.3" fill="none" stroke-linecap="round"/>
<path d="M120 628C123.33 633.33 133 653 140 660C147 667 158.33 668.33 162 670" stroke="#f7f7f7" stroke-width="10" fill="none" stroke-linecap="round"/>
<path d="M120 628C123.33 633.33 133 653 140 660C147 667 158.33 668.33 162 670" stroke="#fdfdfd" stroke-width="4" fill="none" stroke-linecap="round"/>
<path d="M16 715C20 715.83 32.67 717.83 40 720C47.33 722.17 56.67 726.67 60 728" stroke="#dedede" stroke-width="13.3" fill="none" stroke-linecap="round"/>
<path d="M16 715C20 715.83 32.67 717.83 40 720C47.33 722.17 56.67 726.67 60 728" stroke="#f7f7f7" stroke-width="12" fill="none" stroke-linecap="round"/>
<path d="M16 715C20 715.83 32.67 717.83 40 720C47.33 722.17 56.67 726.67 60 728" stroke="#fdfdfd" stroke-width="4.8" fill="none" stroke-linecap="round"/>
<path d="M110 703C115 705.17 131.33 716.5 140 716C148.67 715.5 158.33 702.67 162 700" stroke="#dedede" stroke-width="13.3" fill="none" stroke-linecap="round"/>
<path d="M110 703C115 705.17 131.33 716.5 140 716C148.67 715.5 158.33 702.67 162 700" stroke="#f7f7f7" stroke-width="12" fill="none" stroke-linecap="round"/>
<path d="M110 703C115 705.17 131.33 716.5 140 716C148.67 715.5 158.33 702.67 162 700" stroke="#fdfdfd" stroke-width="4.8" fill="none" stroke-linecap="round"/>
<path d="M20 690C24.17 691.67 39.17 700.83 45 700C50.83 699.17 53.33 687.5 55 685" stroke="#dedede" stroke-width="7.3" fill="none" stroke-linecap="round"/>
<path d="M20 690C24.17 691.67 39.17 700.83 45 700C50.83 699.17 53.33 687.5 55 685" stroke="#f7f7f7" stroke-width="6" fill="none" stroke-linecap="round"/>
<path d="M20 690C24.17 691.67 39.17 700.83 45 700C50.83 699.17 53.33 687.5 55 685" stroke="#fdfdfd" stroke-width="2.4" fill="none" stroke-linecap="round"/>
<ellipse cx="98" cy="668" rx="8" ry="8.4" fill="none" stroke="#d8d8d8" stroke-width="4.2"/>
<ellipse cx="98" cy="668" rx="8" ry="8.4" fill="none" stroke="#f8f8f8" stroke-width="3"/>
<ellipse cx="98" cy="668" rx="13" ry="13.65" fill="none" stroke="#d8d8d8" stroke-width="4.2"/>
<ellipse cx="98" cy="668" rx="13" ry="13.65" fill="none" stroke="#f8f8f8" stroke-width="3"/>
<ellipse cx="98" cy="668" rx="18" ry="18.9" fill="none" stroke="#d8d8d8" stroke-width="4.2"/>
<ellipse cx="98" cy="668" rx="18" ry="18.9" fill="none" stroke="#f8f8f8" stroke-width="3"/>
</g>
<g clip-path="url(#clip3)">
<path d="M99.4 635.8L100.9 639.7" stroke="#6a6a6a" stroke-width="2.05" stroke-linecap="round"/>
<path d="M99.4 635.8L100.9 639.7" stroke="#f0f0f0" stroke-width="0.99" stroke-linecap="round"/>
<path d="M93.6 639.1L96.5 640.9" stroke="#6a6a6a" stroke-width="2.05" stroke-linecap="round"/>
<path d="M93.6 639.1L96.5 640.9" stroke="#f0f0f0" stroke-width="0.99" stroke-linecap="round"/>
<path d="M83.4 653.4L85.5 651.9" stroke="#6a6a6a" stroke-width="2.05" stroke-linecap="round"/>
<path d="M83.4 653.4L85.5 651.9" stroke="#f0f0f0" stroke-width="0.99" stroke-linecap="round"/>
<path d="M96.5 655.5L99.8 660.7" stroke="#6a6a6a" stroke-width="2.05" stroke-linecap="round"/>
<path d="M96.5 655.5L99.8 660.7" stroke="#f0f0f0" stroke-width="0.99" stroke-linecap="round"/>
<path d="M103.1 649.7L105.3 651.2" stroke="#6a6a6a" stroke-width="2.05" stroke-linecap="round"/>
<path d="M103.1 649.7L105.3 651.2" stroke="#f0f0f0" stroke-width="0.99" stroke-linecap="round"/>
<path d="M80.4 637.7L84.8 642.4" stroke="#902020" stroke-width="4" stroke-linecap="round"/>
<path d="M80.4 637.7L75.8 640.5" stroke="#902020" stroke-width="4" stroke-linecap="round"/>
<path d="M81.9 641L97.2 655.5" stroke="#237a23" stroke-width="4" stroke-linecap="round"/>
<path d="M83.4 657L100.9 641.7" stroke="#237a23" stroke-width="4" stroke-linecap="round"/>
<path d="M100.9 641.7L103.1 643.9" stroke="#237a23" stroke-width="4" stroke-linecap="round"/>
<path d="M83.4 657L79.7 665" stroke="#237a23" stroke-width="4" stroke-linecap="round"/>
<path d="M80.4 637.7L82.6 640.05" stroke="#e04040" stroke-width="3.3" stroke-linecap="round"/>
<path d="M82.6 640.05L84.8 642.4" stroke="#3cb43c" stroke-width="3.3" stroke-linecap="round"/>
<path d="M80.4 637.7L78.1 639.1" stroke="#e04040" stroke-width="3.3" stroke-linecap="round"/>
<path d="M78.1 639.1L75.8 640.5" stroke="#444444" stroke-width="3.3" stroke-linecap="round"/>
<path d="M81.9 641L89.55 648.25" stroke="#3cb43c" stroke-width="3.3" stroke-linecap="round"/>
<path d="M89.55 648.25L97.2 655.5" stroke="#3cb43c" stroke-width="3.3" stroke-linecap="round"/>
<path d="M83.4 657L92.15 649.35" stroke="#3cb43c" stroke-width="3.3" stroke-linecap="round"/>
<path d="M92.15 649.35L100.9 641.7" stroke="#3cb43c" stroke-width="3.3" stroke-linecap="round"/>
<path d="M100.9 641.7L102 642.8" stroke="#3cb43c" stroke-width="3.3" stroke-linecap="round"/>
<path d="M102 642.8L103.1 643.9" stroke="#2a40c8" stroke-width="3.3" stroke-linecap="round"/>
<path d="M83.4 657L81.55 661" stroke="#3cb43c" stroke-width="3.3" stroke-linecap="round"/>
<path d="M81.55 661L79.7 665" stroke="#e04040" stroke-width="3.3" stroke-linecap="round"/>
<path d="M80.4 637.7L82.6 640.05" stroke="#f08080" stroke-width="0.99" stroke-linecap="round" opacity="0.7"/>
<path d="M82.6 640.05L84.8 642.4" stroke="#7ed87e" stroke-width="0.99" stroke-linecap="round" opacity="0.7"/>
<path d="M80.4 637.7L78.1 639.1" stroke="#f08080" stroke-width="0.99" stroke-linecap="round" opacity="0.7"/>
<path d="M78.1 639.1L75.8 640.5" stroke="#666666" stroke-width="0.99" stroke-linecap="round" opacity="0.7"/>
<path d="M81.9 641L89.55 648.25" stroke="#7ed87e" stroke-width="0.99" stroke-linecap="round" opacity="0.7"/>
<path d="M89.55 648.25L97.2 655.5" stroke="#7ed87e" stroke-width="0.99" stroke-linecap="round" opacity="0.7"/>
<path d="M83.4 657L92.15 649.35" stroke="#7ed87e" stroke-width="0.99" stroke-linecap="round" opacity="0.7"/>
<path d="M92.15 649.35L100.9 641.7" stroke="#7ed87e" stroke-width="0.99" stroke-linecap="round" opacity="0.7"/>
<path d="M100.9 641.7L102 642.8" stroke="#7ed87e" stroke-width="0.99" stroke-linecap="round" opacity="0.7"/>
<path d="M102 642.8L103.1 643.9" stroke="#5a70e0" stroke-width="0.99" stroke-linecap="round" opacity="0.7"/>
<path d="M83.4 657L81.55 661" stroke="#7ed87e" stroke-width="0.99" stroke-linecap="round" opacity="0.7"/>
<path d="M81.55 661L79.7 665" stroke="#f08080" stroke-width="0.99" stroke-linecap="round" opacity="0.7"/>
<path d="M81.5 667.5L92.5 680" stroke="#d0d020" stroke-width="1.2" stroke-dasharray="1.1 1.3" fill="none"/>
<path d="M125.31 702.55L114.6 692.71M125.31 702.55L137.53 700.39M137.53 700.39L138.13 688.44M138.13 688.44L127.25 679.38M127.25 679.38L115.91 681.49M115.91 681.49L114.6 692.71M101.2 706.81L111.7 717.51M111.7 717.51L124.23 715.36M124.23 715.36L125.31 702.55M114.6 692.71L102.99 694.81M101.2 706.81L102.99 694.81M89.32 708.91L80.08 698.96M89.32 708.91L101.2 706.81M102.99 694.81L93.51 685.64M93.51 685.64L82.46 687.69M82.46 687.69L80.08 698.96M65.88 713.05L74.83 723.85M74.83 723.85L87.01 721.76M87.01 721.76L89.32 708.91M80.08 698.96L68.78 701.01M68.78 701.01L65.88 713.05M138.13 688.44L148.42 683.84M148.42 683.84L143.32 672.28M143.32 672.28L130.67 669.82M130.67 669.82L127.25 679.38M68.78 701.01L59.15 693.49M59.15 693.49L50.26 700.13M50.26 700.13L54 712.33M54 712.33L65.88 713.05M93.51 685.64L95.14 674.36" stroke="#a09a10" stroke-width="3.8" stroke-linecap="round" stroke-linejoin="round" fill="none"/>
<path d="M125.31 702.55L119.95 697.63M114.6 692.71L119.95 697.63M125.31 702.55L131.42 701.47M137.53 700.39L131.42 701.47M137.53 700.39L137.83 694.42M138.13 688.44L137.83 694.42M138.13 688.44L132.69 683.91M127.25 679.38L132.69 683.91M127.25 679.38L121.58 680.44M115.91 681.49L121.58 680.44M115.91 681.49L115.25 687.1M114.6 692.71L115.25 687.1M101.2 706.81L106.45 712.16M111.7 717.51L106.45 712.16M111.7 717.51L117.96 716.44M124.23 715.36L117.96 716.44M124.23 715.36L124.77 708.95M125.31 702.55L124.77 708.95M114.6 692.71L108.79 693.76M102.99 694.81L108.79 693.76M101.2 706.81L102.1 700.81M102.99 694.81L102.1 700.81M89.32 708.91L84.7 703.94M80.08 698.96L84.7 703.94M89.32 708.91L95.26 707.86M101.2 706.81L95.26 707.86M102.99 694.81L98.25 690.23M82.46 687.69L87.99 686.67M82.46 687.69L81.27 693.33M80.08 698.96L81.27 693.33M65.88 713.05L70.36 718.45M74.83 723.85L70.36 718.45M74.83 723.85L80.92 722.8M87.01 721.76L80.92 722.8M87.01 721.76L88.16 715.33M89.32 708.91L88.16 715.33M80.08 698.96L74.43 699.99M68.78 701.01L74.43 699.99M68.78 701.01L67.33 707.03M65.88 713.05L67.33 707.03M138.13 688.44L143.28 686.14M143.32 672.28L145.87 678.06M143.32 672.28L137 671.05M127.25 679.38L128.96 674.6M68.78 701.01L63.97 697.25M50.26 700.13L54.71 696.81M50.26 700.13L52.13 706.23M65.88 713.05L59.94 712.69M95.14 674.36L94.33 680" stroke="#e6e020" stroke-width="2.9" stroke-linecap="round" fill="none"/>
<path d="M148.42 683.84L143.28 686.14M148.42 683.84L145.87 678.06M130.67 669.82L137 671.05M130.67 669.82L128.96 674.6M59.15 693.49L63.97 697.25M59.15 693.49L54.71 696.81M54 712.33L52.13 706.23M54 712.33L59.94 712.69" stroke="#d83838" stroke-width="2.9" stroke-linecap="round" fill="none"/>
<path d="M93.51 685.64L98.25 690.23M93.51 685.64L87.99 686.67M93.51 685.64L94.33 680" stroke="#2a44c8" stroke-width="2.9" stroke-linecap="round" fill="none"/>
<path d="M125.31 702.55L119.95 697.63M114.6 692.71L119.95 697.63M125.31 702.55L131.42 701.47M137.53 700.39L131.42 701.47M137.53 700.39L137.83 694.42M138.13 688.44L137.83 694.42M138.13 688.44L132.69 683.91M127.25 679.38L132.69 683.91M127.25 679.38L121.58 680.44M115.91 681.49L121.58 680.44M115.91 681.49L115.25 687.1M114.6 692.71L115.25 687.1M101.2 706.81L106.45 712.16M111.7 717.51L106.45 712.16M111.7 717.51L117.96 716.44M124.23 715.36L117.96 716.44M124.23 715.36L124.77 708.95M125.31 702.55L124.77 708.95M114.6 692.71L108.79 693.76M102.99 694.81L108.79 693.76M101.2 706.81L102.1 700.81M102.99 694.81L102.1 700.81M89.32 708.91L84.7 703.94M80.08 698.96L84.7 703.94M89.32 708.91L95.26 707.86M101.2 706.81L95.26 707.86M102.99 694.81L98.25 690.23M82.46 687.69L87.99 686.67M82.46 687.69L81.27 693.33M80.08 698.96L81.27 693.33M65.88 713.05L70.36 718.45M74.83 723.85L70.36 718.45M74.83 723.85L80.92 722.8M87.01 721.76L80.92 722.8M87.01 721.76L88.16 715.33M89.32 708.91L88.16 715.33M80.08 698.96L74.43 699.99M68.78 701.01L74.43 699.99M68.78 701.01L67.33 707.03M65.88 713.05L67.33 707.03M138.13 688.44L143.28 686.14M143.32 672.28L145.87 678.06M143.32 672.28L137 671.05M127.25 679.38L128.96 674.6M68.78 701.01L63.97 697.25M50.26 700.13L54.71 696.81M50.26 700.13L52.13 706.23M65.88 713.05L59.94 712.69M95.14 674.36L94.33 680" stroke="#f4f080" stroke-width="1.015" stroke-linecap="round" fill="none" opacity="0.8"/>
<text x="78.8" y="662.5" text-anchor="end" font-family="'Liberation Sans', sans-serif" font-size="4.3" fill="#2a2a2a">THR-176</text>
<text x="84.2" y="675" text-anchor="end" font-family="'Liberation Sans', sans-serif" font-size="4.6" fill="#2a2a2a">3.4</text>
</g>
<path d="M76.5 593.5L16.5 627.5M102.5 593.5L162.5 627.5" stroke="#222" stroke-width="0.9" fill="none"/>
<rect x="76.5" y="575.5" width="26" height="18" fill="none" stroke="#222" stroke-width="1"/>
<rect x="16.5" y="627.5" width="146" height="101" fill="none" stroke="#333" stroke-width="1"/>
<text transform="translate(0.6,9.7) scale(1,1.12)" font-family="'Liberation Serif', serif" font-size="13.4" fill="#111">A</text>
<text transform="translate(2.6,192.7) scale(1,1.12)" font-family="'Liberation Serif', serif" font-size="13.4" fill="#111">B</text>
<text transform="translate(1.6,370.6) scale(1,1.12)" font-family="'Liberation Serif', serif" font-size="13.4" fill="#111">C</text>
<text transform="translate(1,558.9) scale(1,1.12)" font-family="'Liberation Serif', serif" font-size="13.4" fill="#111">D</text>
<text transform="translate(180,10) scale(1,1.07)" font-family="'Liberation Serif', serif" font-size="13.2" fill="#111">E</text>
<text transform="translate(483,9.7) scale(1,1.12)" font-family="'Liberation Serif', serif" font-size="13.4" fill="#111">F</text>
<text transform="translate(178.2,389.8) scale(1,1.12)" font-family="'Liberation Serif', serif" font-size="13.4" fill="#111">G</text>
<text transform="translate(480.2,406.9) scale(1,1.12)" font-family="'Liberation Serif', serif" font-size="13.4" fill="#111">H</text>
<path d="M215.5 10.2V114.2H320.6" fill="none" stroke="#606060" stroke-width="1"/>
<path d="M211.7 114.2H215.5" stroke="#606060" stroke-width="1"/>
<text x="210.3" y="116.7" text-anchor="end" font-family="'Liberation Serif', serif" font-size="7.2" fill="#333">0.0</text>
<path d="M211.7 88.2H215.5" stroke="#606060" stroke-width="1"/>
<text x="210.3" y="90.7" text-anchor="end" font-family="'Liberation Serif', serif" font-size="7.2" fill="#333">0.6</text>
<path d="M211.7 62.2H215.5" stroke="#606060" stroke-width="1"/>
<text x="210.3" y="64.7" text-anchor="end" font-family="'Liberation Serif', serif" font-size="7.2" fill="#333">1.2</text>
<path d="M211.7 36.2H215.5" stroke="#606060" stroke-width="1"/>
<text x="210.3" y="38.7" text-anchor="end" font-family="'Liberation Serif', serif" font-size="7.2" fill="#333">1.8</text>
<path d="M211.7 10.2H215.5" stroke="#606060" stroke-width="1"/>
<text x="210.3" y="12.7" text-anchor="end" font-family="'Liberation Serif', serif" font-size="7.2" fill="#333">2.4</text>
<path d="M236.4 114.2V118.6" stroke="#606060" stroke-width="1"/>
<text x="236.4" y="127" text-anchor="middle" font-family="'Liberation Serif', serif" font-size="7.3" fill="#333">CON</text>
<path d="M267.7 114.2V118.6" stroke="#606060" stroke-width="1"/>
<text x="267.7" y="127" text-anchor="middle" font-family="'Liberation Serif', serif" font-size="7.3" fill="#333">SAN</text>
<path d="M299.2 114.2V118.6" stroke="#606060" stroke-width="1"/>
<text x="299.2" y="127" text-anchor="middle" font-family="'Liberation Serif', serif" font-size="7.3" fill="#333">DHSA</text>
<text transform="translate(196.1,62.2) rotate(-90)" text-anchor="middle" font-family="'Liberation Serif', serif" font-size="7.2" fill="#222">mRNA expression</text>
<text x="260.5" y="20" text-anchor="middle" font-family="'Liberation Serif', serif" font-style="italic" font-size="9.1" fill="#222">CYP1A1</text>
<circle cx="228.1" cy="66.97" r="2.2" fill="none" stroke="#9a9a9a" stroke-width="1.0"/>
<circle cx="236.4" cy="66.1" r="2.2" fill="none" stroke="#9a9a9a" stroke-width="1.0"/>
<circle cx="245" cy="70" r="2.2" fill="none" stroke="#9a9a9a" stroke-width="1.0"/>
<circle cx="236.4" cy="79.53" r="2.2" fill="none" stroke="#9a9a9a" stroke-width="1.0"/>
<circle cx="236.4" cy="70.87" r="2.2" fill="none" stroke="#9a9a9a" stroke-width="1.0"/>
<path d="M225.9 69.57H246.9M231.4 66.53H241.4M231.4 72.6H241.4M236.4 66.53V72.6" stroke="#9a9a9a" stroke-width="1.1" fill="none"/>
<circle cx="263.5" cy="66.53" r="2.2" fill="none" stroke="#8ccfbd" stroke-width="1.0"/>
<circle cx="272" cy="66.97" r="2.2" fill="none" stroke="#8ccfbd" stroke-width="1.0"/>
<circle cx="267.7" cy="78.23" r="2.2" fill="none" stroke="#8ccfbd" stroke-width="1.0"/>
<circle cx="263.7" cy="71.73" r="2.2" fill="none" stroke="#8ccfbd" stroke-width="1.0"/>
<circle cx="271.7" cy="71.73" r="2.2" fill="none" stroke="#8ccfbd" stroke-width="1.0"/>
<path d="M257.2 70.87H278.2M262.7 68.27H272.7M262.7 73.47H272.7M267.7 68.27V73.47" stroke="#8ccfbd" stroke-width="1.1" fill="none"/>
<circle cx="299" cy="56.57" r="2.2" fill="none" stroke="#3b7db6" stroke-width="1.0"/>
<circle cx="295.1" cy="66.1" r="2.2" fill="none" stroke="#3b7db6" stroke-width="1.0"/>
<circle cx="303" cy="66.1" r="2.2" fill="none" stroke="#3b7db6" stroke-width="1.0"/>
<circle cx="294.8" cy="72.17" r="2.2" fill="none" stroke="#3b7db6" stroke-width="1.0"/>
<circle cx="303.6" cy="72.17" r="2.2" fill="none" stroke="#3b7db6" stroke-width="1.0"/>
<path d="M288.7 66.53H309.7M294.2 63.5H304.2M294.2 69.57H304.2M299.2 63.5V69.57" stroke="#3b7db6" stroke-width="1.1" fill="none"/>
<path d="M363.4 10.2V114H468.5" fill="none" stroke="#606060" stroke-width="1"/>
<path d="M359.6 114H363.4" stroke="#606060" stroke-width="1"/>
<text x="358.2" y="116.5" text-anchor="end" font-family="'Liberation Serif', serif" font-size="7.2" fill="#333">0.0</text>
<path d="M359.6 88.05H363.4" stroke="#606060" stroke-width="1"/>
<text x="358.2" y="90.55" text-anchor="end" font-family="'Liberation Serif', serif" font-size="7.2" fill="#333">1.1</text>
<path d="M359.6 62.1H363.4" stroke="#606060" stroke-width="1"/>
<text x="358.2" y="64.6" text-anchor="end" font-family="'Liberation Serif', serif" font-size="7.2" fill="#333">2.2</text>
<path d="M359.6 36.15H363.4" stroke="#606060" stroke-width="1"/>
<text x="358.2" y="38.65" text-anchor="end" font-family="'Liberation Serif', serif" font-size="7.2" fill="#333">3.3</text>
<path d="M359.6 10.2H363.4" stroke="#606060" stroke-width="1"/>
<text x="358.2" y="12.7" text-anchor="end" font-family="'Liberation Serif', serif" font-size="7.2" fill="#333">4.4</text>
<path d="M384.4 114V118.4" stroke="#606060" stroke-width="1"/>
<text x="384.4" y="126.8" text-anchor="middle" font-family="'Liberation Serif', serif" font-size="7.3" fill="#333">CON</text>
<path d="M415.4 114V118.4" stroke="#606060" stroke-width="1"/>
<text x="415.4" y="126.8" text-anchor="middle" font-family="'Liberation Serif', serif" font-size="7.3" fill="#333">SAN</text>
<path d="M447.3 114V118.4" stroke="#606060" stroke-width="1"/>
<text x="447.3" y="126.8" text-anchor="middle" font-family="'Liberation Serif', serif" font-size="7.3" fill="#333">DHSA</text>
<text transform="translate(343.4,62.1) rotate(-90)" text-anchor="middle" font-family="'Liberation Serif', serif" font-size="7.2" fill="#222">mRNA expression</text>
<text x="412.7" y="19.4" text-anchor="middle" font-family="'Liberation Serif', serif" font-style="italic" font-size="9.1" fill="#222">CYP1A2</text>
<circle cx="375.8" cy="88.29" r="2.2" fill="none" stroke="#9a9a9a" stroke-width="1.0"/>
<circle cx="375.8" cy="92.77" r="2.2" fill="none" stroke="#9a9a9a" stroke-width="1.0"/>
<circle cx="381.4" cy="88.29" r="2.2" fill="none" stroke="#9a9a9a" stroke-width="1.0"/>
<circle cx="387.2" cy="92.77" r="2.2" fill="none" stroke="#9a9a9a" stroke-width="1.0"/>
<circle cx="392.6" cy="90.88" r="2.2" fill="none" stroke="#9a9a9a" stroke-width="1.0"/>
<path d="M373.9 90.41H394.9M379.4 89.47H389.4M379.4 91.35H389.4M384.4 89.47V91.35" stroke="#9a9a9a" stroke-width="1.1" fill="none"/>
<circle cx="415.5" cy="81.92" r="2.2" fill="none" stroke="#8ccfbd" stroke-width="1.0"/>
<circle cx="407.2" cy="92.3" r="2.2" fill="none" stroke="#8ccfbd" stroke-width="1.0"/>
<circle cx="412.3" cy="88.76" r="2.2" fill="none" stroke="#8ccfbd" stroke-width="1.0"/>
<circle cx="418.2" cy="90.88" r="2.2" fill="none" stroke="#8ccfbd" stroke-width="1.0"/>
<circle cx="424" cy="89.47" r="2.2" fill="none" stroke="#8ccfbd" stroke-width="1.0"/>
<path d="M404.9 88.76H425.9M410.4 87.11H420.4M410.4 90.41H420.4M415.4 87.11V90.41" stroke="#8ccfbd" stroke-width="1.1" fill="none"/>
<circle cx="447.3" cy="71.3" r="2.2" fill="none" stroke="#3b7db6" stroke-width="1.0"/>
<circle cx="438.5" cy="80.74" r="2.2" fill="none" stroke="#3b7db6" stroke-width="1.0"/>
<circle cx="455.8" cy="81.21" r="2.2" fill="none" stroke="#3b7db6" stroke-width="1.0"/>
<circle cx="447.3" cy="87.11" r="2.2" fill="none" stroke="#3b7db6" stroke-width="1.0"/>
<circle cx="447.3" cy="80.03" r="2.2" fill="none" stroke="#3b7db6" stroke-width="1.0"/>
<path d="M436.8 80.97H457.8M442.3 78.61H452.3M442.3 83.33H452.3M447.3 78.61V83.33" stroke="#3b7db6" stroke-width="1.1" fill="none"/>
<path d="M384.4 83.6V62.8H447.3V68.2" fill="none" stroke="#606060" stroke-width="1"/>
<path d="M414.35 56.1L414.35 58.1M413.48 56.6L415.22 57.6M413.48 57.6L415.22 56.6M417.35 56.1L417.35 58.1M416.48 56.6L418.22 57.6M416.48 57.6L418.22 56.6" stroke="#555" stroke-width="0.9" stroke-linecap="round" fill="none"/>
<path d="M215.4 133.4V237.4H320.5" fill="none" stroke="#606060" stroke-width="1"/>
<path d="M211.6 237.4H215.4" stroke="#606060" stroke-width="1"/>
<text x="210.2" y="239.9" text-anchor="end" font-family="'Liberation Serif', serif" font-size="7.2" fill="#333">0</text>
<path d="M211.6 211.4H215.4" stroke="#606060" stroke-width="1"/>
<text x="210.2" y="213.9" text-anchor="end" font-family="'Liberation Serif', serif" font-size="7.2" fill="#333">1</text>
<path d="M211.6 185.4H215.4" stroke="#606060" stroke-width="1"/>
<text x="210.2" y="187.9" text-anchor="end" font-family="'Liberation Serif', serif" font-size="7.2" fill="#333">2</text>
<path d="M211.6 159.4H215.4" stroke="#606060" stroke-width="1"/>
<text x="210.2" y="161.9" text-anchor="end" font-family="'Liberation Serif', serif" font-size="7.2" fill="#333">3</text>
<path d="M211.6 133.4H215.4" stroke="#606060" stroke-width="1"/>
<text x="210.2" y="135.9" text-anchor="end" font-family="'Liberation Serif', serif" font-size="7.2" fill="#333">4</text>
<path d="M236.4 237.4V241.8" stroke="#606060" stroke-width="1"/>
<text x="236.4" y="250.2" text-anchor="middle" font-family="'Liberation Serif', serif" font-size="7.3" fill="#333">CON</text>
<path d="M267.7 237.4V241.8" stroke="#606060" stroke-width="1"/>
<text x="267.7" y="250.2" text-anchor="middle" font-family="'Liberation Serif', serif" font-size="7.3" fill="#333">SAN</text>
<path d="M299.2 237.4V241.8" stroke="#606060" stroke-width="1"/>
<text x="299.2" y="250.2" text-anchor="middle" font-family="'Liberation Serif', serif" font-size="7.3" fill="#333">DHSA</text>
<text transform="translate(201.9,185.4) rotate(-90)" text-anchor="middle" font-family="'Liberation Serif', serif" font-size="7.2" fill="#222">mRNA expression</text>
<text x="262.8" y="139.4" text-anchor="middle" font-family="'Liberation Serif', serif" font-style="italic" font-size="9.1" fill="#222">CYP1B1</text>
<circle cx="227.9" cy="208.8" r="2.2" fill="none" stroke="#9a9a9a" stroke-width="1.0"/>
<circle cx="233.3" cy="209.84" r="2.2" fill="none" stroke="#9a9a9a" stroke-width="1.0"/>
<circle cx="244.5" cy="210.62" r="2.2" fill="none" stroke="#9a9a9a" stroke-width="1.0"/>
<circle cx="227.9" cy="213.74" r="2.2" fill="none" stroke="#9a9a9a" stroke-width="1.0"/>
<circle cx="239" cy="213.74" r="2.2" fill="none" stroke="#9a9a9a" stroke-width="1.0"/>
<path d="M225.9 211.4H246.9M231.4 210.36H241.4M231.4 212.44H241.4M236.4 210.36V212.44" stroke="#9a9a9a" stroke-width="1.1" fill="none"/>
<circle cx="258.8" cy="206.72" r="2.2" fill="none" stroke="#8ccfbd" stroke-width="1.0"/>
<circle cx="263.4" cy="204.12" r="2.2" fill="none" stroke="#8ccfbd" stroke-width="1.0"/>
<circle cx="267.3" cy="207.5" r="2.2" fill="none" stroke="#8ccfbd" stroke-width="1.0"/>
<circle cx="271.7" cy="205.16" r="2.2" fill="none" stroke="#8ccfbd" stroke-width="1.0"/>
<circle cx="275.6" cy="208.28" r="2.2" fill="none" stroke="#8ccfbd" stroke-width="1.0"/>
<path d="M257.2 206.72H278.2M262.7 205.94H272.7M262.7 207.5H272.7M267.7 205.94V207.5" stroke="#8ccfbd" stroke-width="1.1" fill="none"/>
<circle cx="290.3" cy="202.3" r="2.2" fill="none" stroke="#3b7db6" stroke-width="1.0"/>
<circle cx="298.9" cy="201" r="2.2" fill="none" stroke="#3b7db6" stroke-width="1.0"/>
<circle cx="307.4" cy="204.38" r="2.2" fill="none" stroke="#3b7db6" stroke-width="1.0"/>
<circle cx="294.3" cy="210.36" r="2.2" fill="none" stroke="#3b7db6" stroke-width="1.0"/>
<circle cx="302.8" cy="210.36" r="2.2" fill="none" stroke="#3b7db6" stroke-width="1.0"/>
<path d="M288.7 205.68H309.7M294.2 203.86H304.2M294.2 207.5H304.2M299.2 203.86V207.5" stroke="#3b7db6" stroke-width="1.1" fill="none"/>
<path d="M236.4 205.1V192.9H267.7V200.5" fill="none" stroke="#606060" stroke-width="1"/>
<path d="M252.05 186.2L252.05 188.2M251.18 186.7L252.92 187.7M251.18 187.7L252.92 186.7" stroke="#555" stroke-width="0.9" stroke-linecap="round" fill="none"/>
<path d="M236.4 189V176.8H299.2V197.6" fill="none" stroke="#606060" stroke-width="1"/>
<path d="M266.3 170.1L266.3 172.1M265.43 170.6L267.17 171.6M265.43 171.6L267.17 170.6M269.3 170.1L269.3 172.1M268.43 170.6L270.17 171.6M268.43 171.6L270.17 170.6" stroke="#555" stroke-width="0.9" stroke-linecap="round" fill="none"/>
<path d="M363.2 131.9V237.1H468.3" fill="none" stroke="#606060" stroke-width="1"/>
<path d="M359.4 237.1H363.2" stroke="#606060" stroke-width="1"/>
<text x="358" y="239.6" text-anchor="end" font-family="'Liberation Serif', serif" font-size="7.2" fill="#333">0.0</text>
<path d="M359.4 210.8H363.2" stroke="#606060" stroke-width="1"/>
<text x="358" y="213.3" text-anchor="end" font-family="'Liberation Serif', serif" font-size="7.2" fill="#333">1.2</text>
<path d="M359.4 184.5H363.2" stroke="#606060" stroke-width="1"/>
<text x="358" y="187" text-anchor="end" font-family="'Liberation Serif', serif" font-size="7.2" fill="#333">2.4</text>
<path d="M359.4 158.2H363.2" stroke="#606060" stroke-width="1"/>
<text x="358" y="160.7" text-anchor="end" font-family="'Liberation Serif', serif" font-size="7.2" fill="#333">3.6</text>
<path d="M359.4 131.9H363.2" stroke="#606060" stroke-width="1"/>
<text x="358" y="134.4" text-anchor="end" font-family="'Liberation Serif', serif" font-size="7.2" fill="#333">4.8</text>
<path d="M384.4 237.1V241.5" stroke="#606060" stroke-width="1"/>
<text x="384.4" y="249.9" text-anchor="middle" font-family="'Liberation Serif', serif" font-size="7.3" fill="#333">CON</text>
<path d="M415.4 237.1V241.5" stroke="#606060" stroke-width="1"/>
<text x="415.4" y="249.9" text-anchor="middle" font-family="'Liberation Serif', serif" font-size="7.3" fill="#333">SAN</text>
<path d="M447.3 237.1V241.5" stroke="#606060" stroke-width="1"/>
<text x="447.3" y="249.9" text-anchor="middle" font-family="'Liberation Serif', serif" font-size="7.3" fill="#333">DHSA</text>
<text transform="translate(343.4,184.5) rotate(-90)" text-anchor="middle" font-family="'Liberation Serif', serif" font-size="7.2" fill="#222">mRNA expression</text>
<text x="409.7" y="137.6" text-anchor="middle" font-family="'Liberation Serif', serif" font-style="italic" font-size="9.1" fill="#222">IDO2</text>
<circle cx="375.8" cy="212.55" r="2.2" fill="none" stroke="#9a9a9a" stroke-width="1.0"/>
<circle cx="375.8" cy="218.69" r="2.2" fill="none" stroke="#9a9a9a" stroke-width="1.0"/>
<circle cx="384.4" cy="214.31" r="2.2" fill="none" stroke="#9a9a9a" stroke-width="1.0"/>
<circle cx="392.5" cy="212.99" r="2.2" fill="none" stroke="#9a9a9a" stroke-width="1.0"/>
<circle cx="392.5" cy="218.03" r="2.2" fill="none" stroke="#9a9a9a" stroke-width="1.0"/>
<path d="M373.9 215.18H394.9M379.4 214.09H389.4M379.4 216.28H389.4M384.4 214.09V216.28" stroke="#9a9a9a" stroke-width="1.1" fill="none"/>
<circle cx="406.9" cy="189.54" r="2.2" fill="none" stroke="#8ccfbd" stroke-width="1.0"/>
<circle cx="406.9" cy="194.36" r="2.2" fill="none" stroke="#8ccfbd" stroke-width="1.0"/>
<circle cx="413.1" cy="189.54" r="2.2" fill="none" stroke="#8ccfbd" stroke-width="1.0"/>
<circle cx="418.1" cy="191.29" r="2.2" fill="none" stroke="#8ccfbd" stroke-width="1.0"/>
<circle cx="423" cy="191.51" r="2.2" fill="none" stroke="#8ccfbd" stroke-width="1.0"/>
<path d="M404.9 191.07H425.9M410.4 190.2H420.4M410.4 191.95H420.4M415.4 190.2V191.95" stroke="#8ccfbd" stroke-width="1.1" fill="none"/>
<circle cx="437.9" cy="207.29" r="2.2" fill="none" stroke="#3b7db6" stroke-width="1.0"/>
<circle cx="437.9" cy="212.55" r="2.2" fill="none" stroke="#3b7db6" stroke-width="1.0"/>
<circle cx="444.1" cy="209.27" r="2.2" fill="none" stroke="#3b7db6" stroke-width="1.0"/>
<circle cx="449.6" cy="211.02" r="2.2" fill="none" stroke="#3b7db6" stroke-width="1.0"/>
<circle cx="455.3" cy="209.7" r="2.2" fill="none" stroke="#3b7db6" stroke-width="1.0"/>
<path d="M436.8 209.7H457.8M442.3 208.83H452.3M442.3 210.58H452.3M447.3 208.83V210.58" stroke="#3b7db6" stroke-width="1.1" fill="none"/>
<path d="M384.4 204V179H415.4V185" fill="none" stroke="#606060" stroke-width="1"/>
<path d="M398.4 172.3L398.4 174.3M397.53 172.8L399.27 173.8M397.53 173.8L399.27 172.8M401.4 172.3L401.4 174.3M400.53 172.8L402.27 173.8M400.53 173.8L402.27 172.8" stroke="#555" stroke-width="0.9" stroke-linecap="round" fill="none"/>
<path d="M384.4 177V165.2H447.3V204.4" fill="none" stroke="#606060" stroke-width="1"/>
<path d="M414.35 158.5L414.35 160.5M413.48 159L415.22 160M413.48 160L415.22 159M417.35 158.5L417.35 160.5M416.48 159L418.22 160M416.48 160L418.22 159" stroke="#555" stroke-width="0.9" stroke-linecap="round" fill="none"/>
<path d="M216 257.3V360.5H321" fill="none" stroke="#606060" stroke-width="1"/>
<path d="M212.2 360.5H216" stroke="#606060" stroke-width="1"/>
<text x="210.8" y="363" text-anchor="end" font-family="'Liberation Serif', serif" font-size="7.2" fill="#333">0.0</text>
<path d="M212.2 334.7H216" stroke="#606060" stroke-width="1"/>
<text x="210.8" y="337.2" text-anchor="end" font-family="'Liberation Serif', serif" font-size="7.2" fill="#333">0.6</text>
<path d="M212.2 308.9H216" stroke="#606060" stroke-width="1"/>
<text x="210.8" y="311.4" text-anchor="end" font-family="'Liberation Serif', serif" font-size="7.2" fill="#333">1.2</text>
<path d="M212.2 283.1H216" stroke="#606060" stroke-width="1"/>
<text x="210.8" y="285.6" text-anchor="end" font-family="'Liberation Serif', serif" font-size="7.2" fill="#333">1.8</text>
<path d="M212.2 257.3H216" stroke="#606060" stroke-width="1"/>
<text x="210.8" y="259.8" text-anchor="end" font-family="'Liberation Serif', serif" font-size="7.2" fill="#333">2.4</text>
<path d="M236.4 360.5V364.9" stroke="#606060" stroke-width="1"/>
<text x="236.4" y="373.3" text-anchor="middle" font-family="'Liberation Serif', serif" font-size="7.3" fill="#333">CON</text>
<path d="M267.7 360.5V364.9" stroke="#606060" stroke-width="1"/>
<text x="267.7" y="373.3" text-anchor="middle" font-family="'Liberation Serif', serif" font-size="7.3" fill="#333">SAN</text>
<path d="M299.2 360.5V364.9" stroke="#606060" stroke-width="1"/>
<text x="299.2" y="373.3" text-anchor="middle" font-family="'Liberation Serif', serif" font-size="7.3" fill="#333">DHSA</text>
<text transform="translate(196.1,308.9) rotate(-90)" text-anchor="middle" font-family="'Liberation Serif', serif" font-size="7.2" fill="#222">mRNA expression</text>
<text x="261.5" y="262" text-anchor="middle" font-family="'Liberation Serif', serif" font-style="italic" font-size="9.1" fill="#222">TPH1</text>
<circle cx="228.8" cy="311.05" r="2.2" fill="none" stroke="#9a9a9a" stroke-width="1.0"/>
<circle cx="228.8" cy="319" r="2.2" fill="none" stroke="#9a9a9a" stroke-width="1.0"/>
<circle cx="228.8" cy="326.96" r="2.2" fill="none" stroke="#9a9a9a" stroke-width="1.0"/>
<circle cx="244.6" cy="305.89" r="2.2" fill="none" stroke="#9a9a9a" stroke-width="1.0"/>
<circle cx="244.6" cy="321.8" r="2.2" fill="none" stroke="#9a9a9a" stroke-width="1.0"/>
<path d="M225.9 316.64H246.9M231.4 308.04H241.4M231.4 325.24H241.4M236.4 308.04V325.24" stroke="#9a9a9a" stroke-width="1.1" fill="none"/>
<circle cx="263.8" cy="300.9" r="2.2" fill="none" stroke="#8ccfbd" stroke-width="1.0"/>
<circle cx="263.8" cy="307.18" r="2.2" fill="none" stroke="#8ccfbd" stroke-width="1.0"/>
<circle cx="272.6" cy="304.6" r="2.2" fill="none" stroke="#8ccfbd" stroke-width="1.0"/>
<circle cx="272.6" cy="312.77" r="2.2" fill="none" stroke="#8ccfbd" stroke-width="1.0"/>
<circle cx="263.8" cy="317.5" r="2.2" fill="none" stroke="#8ccfbd" stroke-width="1.0"/>
<path d="M257.2 308.9H278.2M262.7 302.88H272.7M262.7 314.92H272.7M267.7 302.88V314.92" stroke="#8ccfbd" stroke-width="1.1" fill="none"/>
<circle cx="290.3" cy="314.06" r="2.2" fill="none" stroke="#3b7db6" stroke-width="1.0"/>
<circle cx="290.3" cy="319.22" r="2.2" fill="none" stroke="#3b7db6" stroke-width="1.0"/>
<circle cx="296.2" cy="315.35" r="2.2" fill="none" stroke="#3b7db6" stroke-width="1.0"/>
<circle cx="301.5" cy="318.36" r="2.2" fill="none" stroke="#3b7db6" stroke-width="1.0"/>
<circle cx="307.4" cy="317.5" r="2.2" fill="none" stroke="#3b7db6" stroke-width="1.0"/>
<path d="M288.7 316.64H309.7M294.2 315.78H304.2M294.2 317.5H304.2M299.2 315.78V317.5" stroke="#3b7db6" stroke-width="1.1" fill="none"/>
<path d="M363.2 256.2V360.4H468.3" fill="none" stroke="#606060" stroke-width="1"/>
<path d="M359.4 360.4H363.2" stroke="#606060" stroke-width="1"/>
<text x="358" y="362.9" text-anchor="end" font-family="'Liberation Serif', serif" font-size="7.2" fill="#333">0.0</text>
<path d="M359.4 334.35H363.2" stroke="#606060" stroke-width="1"/>
<text x="358" y="336.85" text-anchor="end" font-family="'Liberation Serif', serif" font-size="7.2" fill="#333">0.6</text>
<path d="M359.4 308.3H363.2" stroke="#606060" stroke-width="1"/>
<text x="358" y="310.8" text-anchor="end" font-family="'Liberation Serif', serif" font-size="7.2" fill="#333">1.2</text>
<path d="M359.4 282.25H363.2" stroke="#606060" stroke-width="1"/>
<text x="358" y="284.75" text-anchor="end" font-family="'Liberation Serif', serif" font-size="7.2" fill="#333">1.8</text>
<path d="M359.4 256.2H363.2" stroke="#606060" stroke-width="1"/>
<text x="358" y="258.7" text-anchor="end" font-family="'Liberation Serif', serif" font-size="7.2" fill="#333">2.4</text>
<path d="M384.4 360.4V364.8" stroke="#606060" stroke-width="1"/>
<text x="384.4" y="373.2" text-anchor="middle" font-family="'Liberation Serif', serif" font-size="7.3" fill="#333">CON</text>
<path d="M415.4 360.4V364.8" stroke="#606060" stroke-width="1"/>
<text x="415.4" y="373.2" text-anchor="middle" font-family="'Liberation Serif', serif" font-size="7.3" fill="#333">SAN</text>
<path d="M447.3 360.4V364.8" stroke="#606060" stroke-width="1"/>
<text x="447.3" y="373.2" text-anchor="middle" font-family="'Liberation Serif', serif" font-size="7.3" fill="#333">DHSA</text>
<text transform="translate(343.4,308.3) rotate(-90)" text-anchor="middle" font-family="'Liberation Serif', serif" font-size="7.2" fill="#222">mRNA expression</text>
<text x="410.6" y="263.4" text-anchor="middle" font-family="'Liberation Serif', serif" font-style="italic" font-size="9.1" fill="#222">SLC3A1</text>
<circle cx="383.8" cy="305.26" r="2.2" fill="none" stroke="#9a9a9a" stroke-width="1.0"/>
<circle cx="383.8" cy="309.6" r="2.2" fill="none" stroke="#9a9a9a" stroke-width="1.0"/>
<circle cx="379.6" cy="317.85" r="2.2" fill="none" stroke="#9a9a9a" stroke-width="1.0"/>
<circle cx="388.3" cy="317.85" r="2.2" fill="none" stroke="#9a9a9a" stroke-width="1.0"/>
<circle cx="383.8" cy="329.14" r="2.2" fill="none" stroke="#9a9a9a" stroke-width="1.0"/>
<path d="M373.9 316.55H394.9M379.4 312.21H389.4M379.4 320.89H389.4M384.4 312.21V320.89" stroke="#9a9a9a" stroke-width="1.1" fill="none"/>
<circle cx="406.9" cy="320.46" r="2.2" fill="none" stroke="#8ccfbd" stroke-width="1.0"/>
<circle cx="406.9" cy="325.67" r="2.2" fill="none" stroke="#8ccfbd" stroke-width="1.0"/>
<circle cx="412.4" cy="321.32" r="2.2" fill="none" stroke="#8ccfbd" stroke-width="1.0"/>
<circle cx="418.1" cy="324.8" r="2.2" fill="none" stroke="#8ccfbd" stroke-width="1.0"/>
<circle cx="423.5" cy="321.32" r="2.2" fill="none" stroke="#8ccfbd" stroke-width="1.0"/>
<path d="M404.9 322.63H425.9M410.4 321.32H420.4M410.4 323.93H420.4M415.4 321.32V323.93" stroke="#8ccfbd" stroke-width="1.1" fill="none"/>
<circle cx="438" cy="308.73" r="2.2" fill="none" stroke="#3b7db6" stroke-width="1.0"/>
<circle cx="446.1" cy="308.73" r="2.2" fill="none" stroke="#3b7db6" stroke-width="1.0"/>
<circle cx="454.6" cy="311.34" r="2.2" fill="none" stroke="#3b7db6" stroke-width="1.0"/>
<circle cx="446.1" cy="314.81" r="2.2" fill="none" stroke="#3b7db6" stroke-width="1.0"/>
<circle cx="446.1" cy="319.15" r="2.2" fill="none" stroke="#3b7db6" stroke-width="1.0"/>
<path d="M436.8 312.21H457.8M442.3 310.04H452.3M442.3 314.38H452.3M447.3 310.04V314.38" stroke="#3b7db6" stroke-width="1.1" fill="none"/>
<path d="M216.4 393.4V497.8H321.5" fill="none" stroke="#606060" stroke-width="1"/>
<path d="M212.6 497.8H216.4" stroke="#606060" stroke-width="1"/>
<text x="211.2" y="500.3" text-anchor="end" font-family="'Liberation Serif', serif" font-size="7.2" fill="#333">0</text>
<path d="M212.6 471.7H216.4" stroke="#606060" stroke-width="1"/>
<text x="211.2" y="474.2" text-anchor="end" font-family="'Liberation Serif', serif" font-size="7.2" fill="#333">1</text>
<path d="M212.6 445.6H216.4" stroke="#606060" stroke-width="1"/>
<text x="211.2" y="448.1" text-anchor="end" font-family="'Liberation Serif', serif" font-size="7.2" fill="#333">2</text>
<path d="M212.6 419.5H216.4" stroke="#606060" stroke-width="1"/>
<text x="211.2" y="422" text-anchor="end" font-family="'Liberation Serif', serif" font-size="7.2" fill="#333">3</text>
<path d="M212.6 393.4H216.4" stroke="#606060" stroke-width="1"/>
<text x="211.2" y="395.9" text-anchor="end" font-family="'Liberation Serif', serif" font-size="7.2" fill="#333">4</text>
<path d="M237.2 497.8V502.2" stroke="#606060" stroke-width="1"/>
<text x="237.2" y="510.6" text-anchor="middle" font-family="'Liberation Serif', serif" font-size="7.3" fill="#333">CON</text>
<path d="M268.5 497.8V502.2" stroke="#606060" stroke-width="1"/>
<text x="268.5" y="510.6" text-anchor="middle" font-family="'Liberation Serif', serif" font-size="7.3" fill="#333">SAN</text>
<path d="M300 497.8V502.2" stroke="#606060" stroke-width="1"/>
<text x="300" y="510.6" text-anchor="middle" font-family="'Liberation Serif', serif" font-size="7.3" fill="#333">DHSA</text>
<text transform="translate(202.1,445.6) rotate(-90)" text-anchor="middle" font-family="'Liberation Serif', serif" font-size="7.2" fill="#222">mRNA expression</text>
<text x="260.1" y="400.1" text-anchor="middle" font-family="'Liberation Serif', serif" font-style="italic" font-size="9.1" fill="#222">CYP1A1</text>
<circle cx="229.1" cy="469.35" r="2.2" fill="none" stroke="#9a9a9a" stroke-width="1.0"/>
<circle cx="229.1" cy="474.31" r="2.2" fill="none" stroke="#9a9a9a" stroke-width="1.0"/>
<circle cx="234.6" cy="470.39" r="2.2" fill="none" stroke="#9a9a9a" stroke-width="1.0"/>
<circle cx="240" cy="472.22" r="2.2" fill="none" stroke="#9a9a9a" stroke-width="1.0"/>
<circle cx="245.7" cy="470.39" r="2.2" fill="none" stroke="#9a9a9a" stroke-width="1.0"/>
<path d="M226.7 471.7H247.7M232.2 470.66H242.2M232.2 472.74H242.2M237.2 470.66V472.74" stroke="#9a9a9a" stroke-width="1.1" fill="none"/>
<circle cx="260.6" cy="462.3" r="2.2" fill="none" stroke="#8ccfbd" stroke-width="1.0"/>
<circle cx="260.6" cy="466.22" r="2.2" fill="none" stroke="#8ccfbd" stroke-width="1.0"/>
<circle cx="266.3" cy="463.87" r="2.2" fill="none" stroke="#8ccfbd" stroke-width="1.0"/>
<circle cx="271.8" cy="464.91" r="2.2" fill="none" stroke="#8ccfbd" stroke-width="1.0"/>
<circle cx="277.2" cy="464.91" r="2.2" fill="none" stroke="#8ccfbd" stroke-width="1.0"/>
<path d="M258 464.65H279M263.5 463.87H273.5M263.5 465.44H273.5M268.5 463.87V465.44" stroke="#8ccfbd" stroke-width="1.1" fill="none"/>
<circle cx="291.6" cy="439.6" r="2.2" fill="none" stroke="#3b7db6" stroke-width="1.0"/>
<circle cx="300.3" cy="439.07" r="2.2" fill="none" stroke="#3b7db6" stroke-width="1.0"/>
<circle cx="308.5" cy="442.47" r="2.2" fill="none" stroke="#3b7db6" stroke-width="1.0"/>
<circle cx="296.1" cy="451.86" r="2.2" fill="none" stroke="#3b7db6" stroke-width="1.0"/>
<circle cx="304" cy="451.86" r="2.2" fill="none" stroke="#3b7db6" stroke-width="1.0"/>
<path d="M289.5 444.82H310.5M295 441.69H305M295 447.95H305M300 441.69V447.95" stroke="#3b7db6" stroke-width="1.1" fill="none"/>
<path d="M237.2 464.3V452.4H268.5V457.3" fill="none" stroke="#606060" stroke-width="1"/>
<path d="M252.85 445.7L252.85 447.7M251.98 446.2L253.72 447.2M251.98 447.2L253.72 446.2" stroke="#555" stroke-width="0.9" stroke-linecap="round" fill="none"/>
<path d="M237.2 450.6V429H300V433.3" fill="none" stroke="#606060" stroke-width="1"/>
<path d="M267.1 422.3L267.1 424.3M266.23 422.8L267.97 423.8M266.23 423.8L267.97 422.8M270.1 422.3L270.1 424.3M269.23 422.8L270.97 423.8M269.23 423.8L270.97 422.8" stroke="#555" stroke-width="0.9" stroke-linecap="round" fill="none"/>
<path d="M362.8 394.2V497.6H466.7" fill="none" stroke="#606060" stroke-width="1"/>
<path d="M359 497.6H362.8" stroke="#606060" stroke-width="1"/>
<text x="357.6" y="500.1" text-anchor="end" font-family="'Liberation Serif', serif" font-size="7.2" fill="#333">0.0</text>
<path d="M359 471.75H362.8" stroke="#606060" stroke-width="1"/>
<text x="357.6" y="474.25" text-anchor="end" font-family="'Liberation Serif', serif" font-size="7.2" fill="#333">0.6</text>
<path d="M359 445.9H362.8" stroke="#606060" stroke-width="1"/>
<text x="357.6" y="448.4" text-anchor="end" font-family="'Liberation Serif', serif" font-size="7.2" fill="#333">1.2</text>
<path d="M359 420.05H362.8" stroke="#606060" stroke-width="1"/>
<text x="357.6" y="422.55" text-anchor="end" font-family="'Liberation Serif', serif" font-size="7.2" fill="#333">1.8</text>
<path d="M359 394.2H362.8" stroke="#606060" stroke-width="1"/>
<text x="357.6" y="396.7" text-anchor="end" font-family="'Liberation Serif', serif" font-size="7.2" fill="#333">2.4</text>
<path d="M383.5 497.6V502" stroke="#606060" stroke-width="1"/>
<text x="383.5" y="510.4" text-anchor="middle" font-family="'Liberation Serif', serif" font-size="7.3" fill="#333">CON</text>
<path d="M414.6 497.6V502" stroke="#606060" stroke-width="1"/>
<text x="414.6" y="510.4" text-anchor="middle" font-family="'Liberation Serif', serif" font-size="7.3" fill="#333">SAN</text>
<path d="M445.7 497.6V502" stroke="#606060" stroke-width="1"/>
<text x="445.7" y="510.4" text-anchor="middle" font-family="'Liberation Serif', serif" font-size="7.3" fill="#333">DHSA</text>
<text transform="translate(343.4,445.9) rotate(-90)" text-anchor="middle" font-family="'Liberation Serif', serif" font-size="7.2" fill="#222">mRNA expression</text>
<text x="407.2" y="399.8" text-anchor="middle" font-family="'Liberation Serif', serif" font-style="italic" font-size="9.1" fill="#222">CYP1A2</text>
<circle cx="375.4" cy="451.07" r="2.2" fill="none" stroke="#9a9a9a" stroke-width="1.0"/>
<circle cx="392" cy="451.93" r="2.2" fill="none" stroke="#9a9a9a" stroke-width="1.0"/>
<circle cx="380.9" cy="454.52" r="2.2" fill="none" stroke="#9a9a9a" stroke-width="1.0"/>
<circle cx="386.6" cy="454.52" r="2.2" fill="none" stroke="#9a9a9a" stroke-width="1.0"/>
<circle cx="383.3" cy="460.12" r="2.2" fill="none" stroke="#9a9a9a" stroke-width="1.0"/>
<path d="M373 454.52H394M378.5 452.79H388.5M378.5 456.24H388.5M383.5 452.79V456.24" stroke="#9a9a9a" stroke-width="1.1" fill="none"/>
<circle cx="406.4" cy="449.78" r="2.2" fill="none" stroke="#8ccfbd" stroke-width="1.0"/>
<circle cx="414.4" cy="453.22" r="2.2" fill="none" stroke="#8ccfbd" stroke-width="1.0"/>
<circle cx="423" cy="453.22" r="2.2" fill="none" stroke="#8ccfbd" stroke-width="1.0"/>
<circle cx="414.4" cy="458.82" r="2.2" fill="none" stroke="#8ccfbd" stroke-width="1.0"/>
<circle cx="414.4" cy="465.72" r="2.2" fill="none" stroke="#8ccfbd" stroke-width="1.0"/>
<path d="M404.1 456.24H425.1M409.6 452.79H419.6M409.6 459.69H419.6M414.6 452.79V459.69" stroke="#8ccfbd" stroke-width="1.1" fill="none"/>
<circle cx="437.4" cy="449.35" r="2.2" fill="none" stroke="#3b7db6" stroke-width="1.0"/>
<circle cx="445.9" cy="445.9" r="2.2" fill="none" stroke="#3b7db6" stroke-width="1.0"/>
<circle cx="454.1" cy="451.5" r="2.2" fill="none" stroke="#3b7db6" stroke-width="1.0"/>
<circle cx="445.9" cy="451.93" r="2.2" fill="none" stroke="#3b7db6" stroke-width="1.0"/>
<circle cx="445.9" cy="464.86" r="2.2" fill="none" stroke="#3b7db6" stroke-width="1.0"/>
<path d="M435.2 452.79H456.2M440.7 449.35H450.7M440.7 456.24H450.7M445.7 449.35V456.24" stroke="#3b7db6" stroke-width="1.1" fill="none"/>
<path d="M209.7 517.5V621.1H313" fill="none" stroke="#606060" stroke-width="1"/>
<path d="M205.9 621.1H209.7" stroke="#606060" stroke-width="1"/>
<text x="204.5" y="623.6" text-anchor="end" font-family="'Liberation Serif', serif" font-size="7.2" fill="#333">0</text>
<path d="M205.9 595.2H209.7" stroke="#606060" stroke-width="1"/>
<text x="204.5" y="597.7" text-anchor="end" font-family="'Liberation Serif', serif" font-size="7.2" fill="#333">2</text>
<path d="M205.9 569.3H209.7" stroke="#606060" stroke-width="1"/>
<text x="204.5" y="571.8" text-anchor="end" font-family="'Liberation Serif', serif" font-size="7.2" fill="#333">4</text>
<path d="M205.9 543.4H209.7" stroke="#606060" stroke-width="1"/>
<text x="204.5" y="545.9" text-anchor="end" font-family="'Liberation Serif', serif" font-size="7.2" fill="#333">6</text>
<path d="M205.9 517.5H209.7" stroke="#606060" stroke-width="1"/>
<text x="204.5" y="520" text-anchor="end" font-family="'Liberation Serif', serif" font-size="7.2" fill="#333">8</text>
<path d="M230.8 621.1V625.5" stroke="#606060" stroke-width="1"/>
<text x="230.8" y="633.9" text-anchor="middle" font-family="'Liberation Serif', serif" font-size="7.3" fill="#333">CON</text>
<path d="M261.8 621.1V625.5" stroke="#606060" stroke-width="1"/>
<text x="261.8" y="633.9" text-anchor="middle" font-family="'Liberation Serif', serif" font-size="7.3" fill="#333">SAN</text>
<path d="M292.9 621.1V625.5" stroke="#606060" stroke-width="1"/>
<text x="292.9" y="633.9" text-anchor="middle" font-family="'Liberation Serif', serif" font-size="7.3" fill="#333">DHSA</text>
<text transform="translate(196.8,569.3) rotate(-90)" text-anchor="middle" font-family="'Liberation Serif', serif" font-size="7.2" fill="#222">mRNA expression</text>
<text x="256.8" y="522.9" text-anchor="middle" font-family="'Liberation Serif', serif" font-style="italic" font-size="9.1" fill="#222">CYP1B1</text>
<circle cx="222.1" cy="605.56" r="2.2" fill="none" stroke="#9a9a9a" stroke-width="1.0"/>
<circle cx="222.1" cy="611.65" r="2.2" fill="none" stroke="#9a9a9a" stroke-width="1.0"/>
<circle cx="230.8" cy="601.16" r="2.2" fill="none" stroke="#9a9a9a" stroke-width="1.0"/>
<circle cx="230.8" cy="609.19" r="2.2" fill="none" stroke="#9a9a9a" stroke-width="1.0"/>
<circle cx="239" cy="609.19" r="2.2" fill="none" stroke="#9a9a9a" stroke-width="1.0"/>
<path d="M220.3 607.24H241.3M225.8 605.3H235.8M225.8 609.19H235.8M230.8 605.3V609.19" stroke="#9a9a9a" stroke-width="1.1" fill="none"/>
<circle cx="261.4" cy="583.16" r="2.2" fill="none" stroke="#8ccfbd" stroke-width="1.0"/>
<circle cx="253.9" cy="601.68" r="2.2" fill="none" stroke="#8ccfbd" stroke-width="1.0"/>
<circle cx="258.9" cy="598.05" r="2.2" fill="none" stroke="#8ccfbd" stroke-width="1.0"/>
<circle cx="264.8" cy="600.51" r="2.2" fill="none" stroke="#8ccfbd" stroke-width="1.0"/>
<circle cx="270" cy="598.57" r="2.2" fill="none" stroke="#8ccfbd" stroke-width="1.0"/>
<path d="M251.3 596.37H272.3M256.8 593.13H266.8M256.8 599.6H266.8M261.8 593.13V599.6" stroke="#8ccfbd" stroke-width="1.1" fill="none"/>
<circle cx="288.4" cy="561.53" r="2.2" fill="none" stroke="#3b7db6" stroke-width="1.0"/>
<circle cx="296.6" cy="564.51" r="2.2" fill="none" stroke="#3b7db6" stroke-width="1.0"/>
<circle cx="292.4" cy="574.48" r="2.2" fill="none" stroke="#3b7db6" stroke-width="1.0"/>
<circle cx="292.4" cy="581.86" r="2.2" fill="none" stroke="#3b7db6" stroke-width="1.0"/>
<circle cx="292.4" cy="588.08" r="2.2" fill="none" stroke="#3b7db6" stroke-width="1.0"/>
<path d="M282.4 574.48H303.4M287.9 569.56H297.9M287.9 579.4H297.9M292.9 569.56V579.4" stroke="#3b7db6" stroke-width="1.1" fill="none"/>
<path d="M230.8 596.3V550.4H292.9V556.6" fill="none" stroke="#606060" stroke-width="1"/>
<path d="M260.35 543.7L260.35 545.7M259.48 544.2L261.22 545.2M259.48 545.2L261.22 544.2M263.35 543.7L263.35 545.7M262.48 544.2L264.22 545.2M262.48 545.2L264.22 544.2" stroke="#555" stroke-width="0.9" stroke-linecap="round" fill="none"/>
<path d="M363.5 517.4V621.1H467.5" fill="none" stroke="#606060" stroke-width="1"/>
<path d="M359.7 621.1H363.5" stroke="#606060" stroke-width="1"/>
<text x="358.3" y="623.6" text-anchor="end" font-family="'Liberation Serif', serif" font-size="7.2" fill="#333">0.0</text>
<path d="M359.7 595.17H363.5" stroke="#606060" stroke-width="1"/>
<text x="358.3" y="597.67" text-anchor="end" font-family="'Liberation Serif', serif" font-size="7.2" fill="#333">0.6</text>
<path d="M359.7 569.25H363.5" stroke="#606060" stroke-width="1"/>
<text x="358.3" y="571.75" text-anchor="end" font-family="'Liberation Serif', serif" font-size="7.2" fill="#333">1.2</text>
<path d="M359.7 543.33H363.5" stroke="#606060" stroke-width="1"/>
<text x="358.3" y="545.83" text-anchor="end" font-family="'Liberation Serif', serif" font-size="7.2" fill="#333">1.8</text>
<path d="M359.7 517.4H363.5" stroke="#606060" stroke-width="1"/>
<text x="358.3" y="519.9" text-anchor="end" font-family="'Liberation Serif', serif" font-size="7.2" fill="#333">2.4</text>
<path d="M384.1 621.1V625.5" stroke="#606060" stroke-width="1"/>
<text x="384.1" y="633.9" text-anchor="middle" font-family="'Liberation Serif', serif" font-size="7.3" fill="#333">CON</text>
<path d="M415.4 621.1V625.5" stroke="#606060" stroke-width="1"/>
<text x="415.4" y="633.9" text-anchor="middle" font-family="'Liberation Serif', serif" font-size="7.3" fill="#333">SAN</text>
<path d="M447.1 621.1V625.5" stroke="#606060" stroke-width="1"/>
<text x="447.1" y="633.9" text-anchor="middle" font-family="'Liberation Serif', serif" font-size="7.3" fill="#333">DHSA</text>
<text transform="translate(343.4,569.25) rotate(-90)" text-anchor="middle" font-family="'Liberation Serif', serif" font-size="7.2" fill="#222">mRNA expression</text>
<text x="406.9" y="527.5" text-anchor="middle" font-family="'Liberation Serif', serif" font-style="italic" font-size="9.1" fill="#222">IDO2</text>
<circle cx="375.9" cy="574.87" r="2.2" fill="none" stroke="#9a9a9a" stroke-width="1.0"/>
<circle cx="384.1" cy="574" r="2.2" fill="none" stroke="#9a9a9a" stroke-width="1.0"/>
<circle cx="392.5" cy="574.87" r="2.2" fill="none" stroke="#9a9a9a" stroke-width="1.0"/>
<circle cx="380.9" cy="581.78" r="2.2" fill="none" stroke="#9a9a9a" stroke-width="1.0"/>
<circle cx="388.3" cy="581.78" r="2.2" fill="none" stroke="#9a9a9a" stroke-width="1.0"/>
<path d="M373.6 577.03H394.6M379.1 575.73H389.1M379.1 578.32H389.1M384.1 575.73V578.32" stroke="#9a9a9a" stroke-width="1.1" fill="none"/>
<circle cx="411.1" cy="567.09" r="2.2" fill="none" stroke="#8ccfbd" stroke-width="1.0"/>
<circle cx="419.8" cy="569.68" r="2.2" fill="none" stroke="#8ccfbd" stroke-width="1.0"/>
<circle cx="411.1" cy="574.43" r="2.2" fill="none" stroke="#8ccfbd" stroke-width="1.0"/>
<circle cx="419.8" cy="577.03" r="2.2" fill="none" stroke="#8ccfbd" stroke-width="1.0"/>
<circle cx="415.4" cy="572.71" r="2.2" fill="none" stroke="#8ccfbd" stroke-width="1.0"/>
<path d="M404.9 572.71H425.9M410.4 570.55H420.4M410.4 574.87H420.4M415.4 570.55V574.87" stroke="#8ccfbd" stroke-width="1.1" fill="none"/>
<circle cx="438.4" cy="576.6" r="2.2" fill="none" stroke="#3b7db6" stroke-width="1.0"/>
<circle cx="447.1" cy="575.3" r="2.2" fill="none" stroke="#3b7db6" stroke-width="1.0"/>
<circle cx="455.3" cy="578.32" r="2.2" fill="none" stroke="#3b7db6" stroke-width="1.0"/>
<circle cx="447.1" cy="581.78" r="2.2" fill="none" stroke="#3b7db6" stroke-width="1.0"/>
<circle cx="447.1" cy="587.4" r="2.2" fill="none" stroke="#3b7db6" stroke-width="1.0"/>
<path d="M436.6 579.19H457.6M442.1 577.03H452.1M442.1 581.35H452.1M447.1 577.03V581.35" stroke="#3b7db6" stroke-width="1.1" fill="none"/>
<path d="M214.4 641.2V744.2H317.7" fill="none" stroke="#606060" stroke-width="1"/>
<path d="M210.6 744.2H214.4" stroke="#606060" stroke-width="1"/>
<text x="209.2" y="746.7" text-anchor="end" font-family="'Liberation Serif', serif" font-size="7.2" fill="#333">0</text>
<path d="M210.6 718.45H214.4" stroke="#606060" stroke-width="1"/>
<text x="209.2" y="720.95" text-anchor="end" font-family="'Liberation Serif', serif" font-size="7.2" fill="#333">4</text>
<path d="M210.6 692.7H214.4" stroke="#606060" stroke-width="1"/>
<text x="209.2" y="695.2" text-anchor="end" font-family="'Liberation Serif', serif" font-size="7.2" fill="#333">8</text>
<path d="M210.6 666.95H214.4" stroke="#606060" stroke-width="1"/>
<text x="209.2" y="669.45" text-anchor="end" font-family="'Liberation Serif', serif" font-size="7.2" fill="#333">12</text>
<path d="M210.6 641.2H214.4" stroke="#606060" stroke-width="1"/>
<text x="209.2" y="643.7" text-anchor="end" font-family="'Liberation Serif', serif" font-size="7.2" fill="#333">16</text>
<path d="M234.6 744.2V748.6" stroke="#606060" stroke-width="1"/>
<text x="234.6" y="757" text-anchor="middle" font-family="'Liberation Serif', serif" font-size="7.3" fill="#333">CON</text>
<path d="M265.6 744.2V748.6" stroke="#606060" stroke-width="1"/>
<text x="265.6" y="757" text-anchor="middle" font-family="'Liberation Serif', serif" font-size="7.3" fill="#333">SAN</text>
<path d="M296.7 744.2V748.6" stroke="#606060" stroke-width="1"/>
<text x="296.7" y="757" text-anchor="middle" font-family="'Liberation Serif', serif" font-size="7.3" fill="#333">DHSA</text>
<text transform="translate(198.2,692.7) rotate(-90)" text-anchor="middle" font-family="'Liberation Serif', serif" font-size="7.2" fill="#222">mRNA expression</text>
<text x="261.5" y="650.8" text-anchor="middle" font-family="'Liberation Serif', serif" font-style="italic" font-size="9.1" fill="#222">TPH1</text>
<circle cx="225.9" cy="737.76" r="2.2" fill="none" stroke="#9a9a9a" stroke-width="1.0"/>
<circle cx="230.4" cy="737.76" r="2.2" fill="none" stroke="#9a9a9a" stroke-width="1.0"/>
<circle cx="234.9" cy="737.76" r="2.2" fill="none" stroke="#9a9a9a" stroke-width="1.0"/>
<circle cx="239.4" cy="737.76" r="2.2" fill="none" stroke="#9a9a9a" stroke-width="1.0"/>
<circle cx="243" cy="738.73" r="2.2" fill="none" stroke="#9a9a9a" stroke-width="1.0"/>
<path d="M224.1 737.89H245.1M229.6 737.7H239.6M229.6 738.08H239.6M234.6 737.7V738.08" stroke="#9a9a9a" stroke-width="1.1" fill="none"/>
<circle cx="266.3" cy="698.24" r="2.2" fill="none" stroke="#8ccfbd" stroke-width="1.0"/>
<circle cx="260.6" cy="705.64" r="2.2" fill="none" stroke="#8ccfbd" stroke-width="1.0"/>
<circle cx="270" cy="703.19" r="2.2" fill="none" stroke="#8ccfbd" stroke-width="1.0"/>
<circle cx="266.3" cy="718.13" r="2.2" fill="none" stroke="#8ccfbd" stroke-width="1.0"/>
<circle cx="260.6" cy="708.15" r="2.2" fill="none" stroke="#8ccfbd" stroke-width="1.0"/>
<path d="M255.1 706.93H276.1M260.6 703.71H270.6M260.6 710.15H270.6M265.6 703.71V710.15" stroke="#8ccfbd" stroke-width="1.1" fill="none"/>
<circle cx="288.6" cy="724.31" r="2.2" fill="none" stroke="#3b7db6" stroke-width="1.0"/>
<circle cx="293.6" cy="725.53" r="2.2" fill="none" stroke="#3b7db6" stroke-width="1.0"/>
<circle cx="288.6" cy="729.2" r="2.2" fill="none" stroke="#3b7db6" stroke-width="1.0"/>
<circle cx="299.6" cy="728.69" r="2.2" fill="none" stroke="#3b7db6" stroke-width="1.0"/>
<circle cx="305.3" cy="725.53" r="2.2" fill="none" stroke="#3b7db6" stroke-width="1.0"/>
<path d="M286.2 726.69H307.2M291.7 725.72H301.7M291.7 727.66H301.7M296.7 725.72V727.66" stroke="#3b7db6" stroke-width="1.1" fill="none"/>
<path d="M234.6 732.9V688.3H265.6V692.5" fill="none" stroke="#606060" stroke-width="1"/>
<path d="M248.6 681.6L248.6 683.6M247.73 682.1L249.47 683.1M247.73 683.1L249.47 682.1M251.6 681.6L251.6 683.6M250.73 682.1L252.47 683.1M250.73 683.1L252.47 682.1" stroke="#555" stroke-width="0.9" stroke-linecap="round" fill="none"/>
<path d="M234.6 685.8V677.1H296.7V718" fill="none" stroke="#606060" stroke-width="1"/>
<path d="M264.15 670.4L264.15 672.4M263.28 670.9L265.02 671.9M263.28 671.9L265.02 670.9M267.15 670.4L267.15 672.4M266.28 670.9L268.02 671.9M266.28 671.9L268.02 670.9" stroke="#555" stroke-width="0.9" stroke-linecap="round" fill="none"/>
<path d="M363 640.4V744.4H467" fill="none" stroke="#606060" stroke-width="1"/>
<path d="M359.2 744.4H363" stroke="#606060" stroke-width="1"/>
<text x="357.8" y="746.9" text-anchor="end" font-family="'Liberation Serif', serif" font-size="7.2" fill="#333">0.0</text>
<path d="M359.2 718.4H363" stroke="#606060" stroke-width="1"/>
<text x="357.8" y="720.9" text-anchor="end" font-family="'Liberation Serif', serif" font-size="7.2" fill="#333">1.5</text>
<path d="M359.2 692.4H363" stroke="#606060" stroke-width="1"/>
<text x="357.8" y="694.9" text-anchor="end" font-family="'Liberation Serif', serif" font-size="7.2" fill="#333">3.0</text>
<path d="M359.2 666.4H363" stroke="#606060" stroke-width="1"/>
<text x="357.8" y="668.9" text-anchor="end" font-family="'Liberation Serif', serif" font-size="7.2" fill="#333">4.5</text>
<path d="M359.2 640.4H363" stroke="#606060" stroke-width="1"/>
<text x="357.8" y="642.9" text-anchor="end" font-family="'Liberation Serif', serif" font-size="7.2" fill="#333">6.0</text>
<path d="M383.6 744.4V748.8" stroke="#606060" stroke-width="1"/>
<text x="383.6" y="757.2" text-anchor="middle" font-family="'Liberation Serif', serif" font-size="7.3" fill="#333">CON</text>
<path d="M414.7 744.4V748.8" stroke="#606060" stroke-width="1"/>
<text x="414.7" y="757.2" text-anchor="middle" font-family="'Liberation Serif', serif" font-size="7.3" fill="#333">SAN</text>
<path d="M446.2 744.4V748.8" stroke="#606060" stroke-width="1"/>
<text x="446.2" y="757.2" text-anchor="middle" font-family="'Liberation Serif', serif" font-size="7.3" fill="#333">DHSA</text>
<text transform="translate(343.4,692.4) rotate(-90)" text-anchor="middle" font-family="'Liberation Serif', serif" font-size="7.2" fill="#222">mRNA expression</text>
<text x="411.7" y="646.7" text-anchor="middle" font-family="'Liberation Serif', serif" font-style="italic" font-size="9.1" fill="#222">SLC3A1</text>
<circle cx="375.2" cy="726.72" r="2.2" fill="none" stroke="#9a9a9a" stroke-width="1.0"/>
<circle cx="379.4" cy="726.72" r="2.2" fill="none" stroke="#9a9a9a" stroke-width="1.0"/>
<circle cx="383.6" cy="726.72" r="2.2" fill="none" stroke="#9a9a9a" stroke-width="1.0"/>
<circle cx="387.8" cy="726.72" r="2.2" fill="none" stroke="#9a9a9a" stroke-width="1.0"/>
<circle cx="392.5" cy="728.8" r="2.2" fill="none" stroke="#9a9a9a" stroke-width="1.0"/>
<path d="M373.1 727.07H394.1M378.6 726.72H388.6M378.6 727.41H388.6M383.6 726.72V727.41" stroke="#9a9a9a" stroke-width="1.1" fill="none"/>
<circle cx="406.9" cy="717.36" r="2.2" fill="none" stroke="#8ccfbd" stroke-width="1.0"/>
<circle cx="406.9" cy="723.6" r="2.2" fill="none" stroke="#8ccfbd" stroke-width="1.0"/>
<circle cx="413.1" cy="718.75" r="2.2" fill="none" stroke="#8ccfbd" stroke-width="1.0"/>
<circle cx="418.1" cy="720.48" r="2.2" fill="none" stroke="#8ccfbd" stroke-width="1.0"/>
<circle cx="423.8" cy="720.48" r="2.2" fill="none" stroke="#8ccfbd" stroke-width="1.0"/>
<path d="M404.2 720.13H425.2M409.7 719.09H419.7M409.7 721.17H419.7M414.7 719.09V721.17" stroke="#8ccfbd" stroke-width="1.1" fill="none"/>
<circle cx="446.1" cy="684.6" r="2.2" fill="none" stroke="#3b7db6" stroke-width="1.0"/>
<circle cx="454.8" cy="687.03" r="2.2" fill="none" stroke="#3b7db6" stroke-width="1.0"/>
<circle cx="442.4" cy="695" r="2.2" fill="none" stroke="#3b7db6" stroke-width="1.0"/>
<circle cx="450.8" cy="693.61" r="2.2" fill="none" stroke="#3b7db6" stroke-width="1.0"/>
<circle cx="446.1" cy="689.63" r="2.2" fill="none" stroke="#3b7db6" stroke-width="1.0"/>
<path d="M435.7 689.97H456.7M441.2 687.89H451.2M441.2 692.05H451.2M446.2 687.89V692.05" stroke="#3b7db6" stroke-width="1.1" fill="none"/>
<path d="M383.6 719.8V706.9H414.7V712.3" fill="none" stroke="#606060" stroke-width="1"/>
<path d="M397.65 700.2L397.65 702.2M396.78 700.7L398.52 701.7M396.78 701.7L398.52 700.7M400.65 700.2L400.65 702.2M399.78 700.7L401.52 701.7M399.78 701.7L401.52 700.7" stroke="#555" stroke-width="0.9" stroke-linecap="round" fill="none"/>
<path d="M383.6 706.9V673.4H446.2V678.3" fill="none" stroke="#606060" stroke-width="1"/>
<path d="M413.4 666.7L413.4 668.7M412.53 667.2L414.27 668.2M412.53 668.2L414.27 667.2M416.4 666.7L416.4 668.7M415.53 667.2L417.27 668.2M415.53 668.2L417.27 667.2" stroke="#555" stroke-width="0.9" stroke-linecap="round" fill="none"/>
<rect x="503.1" y="10.4" width="16.52" height="16.43" fill="#e58360" shape-rendering="crispEdges"/>
<rect x="519.32" y="10.4" width="16.52" height="16.43" fill="#f2cdbf" shape-rendering="crispEdges"/>
<rect x="535.54" y="10.4" width="16.52" height="16.43" fill="#f3d8cd" shape-rendering="crispEdges"/>
<rect x="551.76" y="10.4" width="16.52" height="16.43" fill="#e8906f" shape-rendering="crispEdges"/>
<rect x="567.98" y="10.4" width="16.52" height="16.43" fill="#b8d1e2" shape-rendering="crispEdges"/>
<rect x="584.2" y="10.4" width="16.52" height="16.43" fill="#b8d1e2" shape-rendering="crispEdges"/>
<rect x="503.1" y="26.53" width="16.52" height="16.43" fill="#f1c4b2" shape-rendering="crispEdges"/>
<rect x="519.32" y="26.53" width="16.52" height="16.43" fill="#f1c4b2" shape-rendering="crispEdges"/>
<rect x="535.54" y="26.53" width="16.52" height="16.43" fill="#f3d8cd" shape-rendering="crispEdges"/>
<rect x="551.76" y="26.53" width="16.52" height="16.43" fill="#f0c4b2" shape-rendering="crispEdges"/>
<rect x="567.98" y="26.53" width="16.52" height="16.43" fill="#eef1f3" shape-rendering="crispEdges"/>
<rect x="584.2" y="26.53" width="16.52" height="16.43" fill="#eef1f3" shape-rendering="crispEdges"/>
<rect x="503.1" y="42.66" width="16.52" height="16.43" fill="#d1e2ec" shape-rendering="crispEdges"/>
<rect x="519.32" y="42.66" width="16.52" height="16.43" fill="#90bad6" shape-rendering="crispEdges"/>
<rect x="535.54" y="42.66" width="16.52" height="16.43" fill="#b5cfe1" shape-rendering="crispEdges"/>
<rect x="551.76" y="42.66" width="16.52" height="16.43" fill="#b4cfe2" shape-rendering="crispEdges"/>
<rect x="567.98" y="42.66" width="16.52" height="16.43" fill="#cddee8" shape-rendering="crispEdges"/>
<rect x="584.2" y="42.66" width="16.52" height="16.43" fill="#cddee8" shape-rendering="crispEdges"/>
<rect x="503.1" y="58.79" width="16.52" height="16.43" fill="#f1c6b4" shape-rendering="crispEdges"/>
<rect x="519.32" y="58.79" width="16.52" height="16.43" fill="#f1c6b4" shape-rendering="crispEdges"/>
<rect x="535.54" y="58.79" width="16.52" height="16.43" fill="#f3d8cd" shape-rendering="crispEdges"/>
<rect x="551.76" y="58.79" width="16.52" height="16.43" fill="#f0c4b2" shape-rendering="crispEdges"/>
<rect x="567.98" y="58.79" width="16.52" height="16.43" fill="#eef1f3" shape-rendering="crispEdges"/>
<rect x="584.2" y="58.79" width="16.52" height="16.43" fill="#eef1f3" shape-rendering="crispEdges"/>
<rect x="503.1" y="74.92" width="16.52" height="16.43" fill="#a7c8de" shape-rendering="crispEdges"/>
<rect x="519.32" y="74.92" width="16.52" height="16.43" fill="#7fb0d2" shape-rendering="crispEdges"/>
<rect x="535.54" y="74.92" width="16.52" height="16.43" fill="#93bdd8" shape-rendering="crispEdges"/>
<rect x="551.76" y="74.92" width="16.52" height="16.43" fill="#c8dce7" shape-rendering="crispEdges"/>
<rect x="567.98" y="74.92" width="16.52" height="16.43" fill="#b9d2e2" shape-rendering="crispEdges"/>
<rect x="584.2" y="74.92" width="16.52" height="16.43" fill="#b9d2e2" shape-rendering="crispEdges"/>
<rect x="503.1" y="91.05" width="16.52" height="16.43" fill="#f3d2c5" shape-rendering="crispEdges"/>
<rect x="519.32" y="91.05" width="16.52" height="16.43" fill="#edb39c" shape-rendering="crispEdges"/>
<rect x="535.54" y="91.05" width="16.52" height="16.43" fill="#eebaa5" shape-rendering="crispEdges"/>
<rect x="551.76" y="91.05" width="16.52" height="16.43" fill="#f0c4b2" shape-rendering="crispEdges"/>
<rect x="567.98" y="91.05" width="16.52" height="16.43" fill="#f4ddd5" shape-rendering="crispEdges"/>
<rect x="584.2" y="91.05" width="16.52" height="16.43" fill="#f4ddd5" shape-rendering="crispEdges"/>
<rect x="503.1" y="107.18" width="16.52" height="16.43" fill="#b3cfe2" shape-rendering="crispEdges"/>
<rect x="519.32" y="107.18" width="16.52" height="16.43" fill="#c8dce8" shape-rendering="crispEdges"/>
<rect x="535.54" y="107.18" width="16.52" height="16.43" fill="#f5eeea" shape-rendering="crispEdges"/>
<rect x="551.76" y="107.18" width="16.52" height="16.43" fill="#6fa5cb" shape-rendering="crispEdges"/>
<rect x="567.98" y="107.18" width="16.52" height="16.43" fill="#ecb09a" shape-rendering="crispEdges"/>
<rect x="584.2" y="107.18" width="16.52" height="16.43" fill="#ecb09a" shape-rendering="crispEdges"/>
<rect x="503.1" y="123.31" width="16.52" height="16.43" fill="#f3d4c7" shape-rendering="crispEdges"/>
<rect x="519.32" y="123.31" width="16.52" height="16.43" fill="#c8dce8" shape-rendering="crispEdges"/>
<rect x="535.54" y="123.31" width="16.52" height="16.43" fill="#c8dce8" shape-rendering="crispEdges"/>
<rect x="551.76" y="123.31" width="16.52" height="16.43" fill="#f3d8cd" shape-rendering="crispEdges"/>
<rect x="567.98" y="123.31" width="16.52" height="16.43" fill="#9dc3da" shape-rendering="crispEdges"/>
<rect x="584.2" y="123.31" width="16.52" height="16.43" fill="#9dc3da" shape-rendering="crispEdges"/>
<rect x="503.1" y="139.44" width="16.52" height="16.43" fill="#7aacd0" shape-rendering="crispEdges"/>
<rect x="519.32" y="139.44" width="16.52" height="16.43" fill="#eff2f4" shape-rendering="crispEdges"/>
<rect x="535.54" y="139.44" width="16.52" height="16.43" fill="#f5eeea" shape-rendering="crispEdges"/>
<rect x="551.76" y="139.44" width="16.52" height="16.43" fill="#8ab8d6" shape-rendering="crispEdges"/>
<rect x="567.98" y="139.44" width="16.52" height="16.43" fill="#eab09a" shape-rendering="crispEdges"/>
<rect x="584.2" y="139.44" width="16.52" height="16.43" fill="#eab09a" shape-rendering="crispEdges"/>
<rect x="503.1" y="155.57" width="16.52" height="16.43" fill="#8ab9d6" shape-rendering="crispEdges"/>
<rect x="519.32" y="155.57" width="16.52" height="16.43" fill="#6ea6cd" shape-rendering="crispEdges"/>
<rect x="535.54" y="155.57" width="16.52" height="16.43" fill="#8ab9d6" shape-rendering="crispEdges"/>
<rect x="551.76" y="155.57" width="16.52" height="16.43" fill="#92bbd7" shape-rendering="crispEdges"/>
<rect x="567.98" y="155.57" width="16.52" height="16.43" fill="#c8dce8" shape-rendering="crispEdges"/>
<rect x="584.2" y="155.57" width="16.52" height="16.43" fill="#c8dce8" shape-rendering="crispEdges"/>
<rect x="503.1" y="171.7" width="16.52" height="16.43" fill="#dce8ef" shape-rendering="crispEdges"/>
<rect x="519.32" y="171.7" width="16.52" height="16.43" fill="#dce8ef" shape-rendering="crispEdges"/>
<rect x="535.54" y="171.7" width="16.52" height="16.43" fill="#e4eaf2" shape-rendering="crispEdges"/>
<rect x="551.76" y="171.7" width="16.52" height="16.43" fill="#d3e2eb" shape-rendering="crispEdges"/>
<rect x="567.98" y="171.7" width="16.52" height="16.43" fill="#f3f4f4" shape-rendering="crispEdges"/>
<rect x="584.2" y="171.7" width="16.52" height="16.43" fill="#f3f4f4" shape-rendering="crispEdges"/>
<rect x="503.1" y="187.83" width="16.52" height="16.43" fill="#8ab9d6" shape-rendering="crispEdges"/>
<rect x="519.32" y="187.83" width="16.52" height="16.43" fill="#6ea6cd" shape-rendering="crispEdges"/>
<rect x="535.54" y="187.83" width="16.52" height="16.43" fill="#8ab9d6" shape-rendering="crispEdges"/>
<rect x="551.76" y="187.83" width="16.52" height="16.43" fill="#80b2d3" shape-rendering="crispEdges"/>
<rect x="567.98" y="187.83" width="16.52" height="16.43" fill="#c5dae7" shape-rendering="crispEdges"/>
<rect x="584.2" y="187.83" width="16.52" height="16.43" fill="#c5dae7" shape-rendering="crispEdges"/>
<rect x="503.1" y="203.96" width="16.52" height="16.43" fill="#f5f3f2" shape-rendering="crispEdges"/>
<rect x="519.32" y="203.96" width="16.52" height="16.43" fill="#c8dce8" shape-rendering="crispEdges"/>
<rect x="535.54" y="203.96" width="16.52" height="16.43" fill="#c8dce8" shape-rendering="crispEdges"/>
<rect x="551.76" y="203.96" width="16.52" height="16.43" fill="#f4d8cc" shape-rendering="crispEdges"/>
<rect x="567.98" y="203.96" width="16.52" height="16.43" fill="#accbe0" shape-rendering="crispEdges"/>
<rect x="584.2" y="203.96" width="16.52" height="16.43" fill="#accbe0" shape-rendering="crispEdges"/>
<rect x="503.1" y="220.09" width="16.52" height="16.43" fill="#e8987a" shape-rendering="crispEdges"/>
<rect x="519.32" y="220.09" width="16.52" height="16.43" fill="#e8987a" shape-rendering="crispEdges"/>
<rect x="535.54" y="220.09" width="16.52" height="16.43" fill="#eaa68b" shape-rendering="crispEdges"/>
<rect x="551.76" y="220.09" width="16.52" height="16.43" fill="#e8997c" shape-rendering="crispEdges"/>
<rect x="567.98" y="220.09" width="16.52" height="16.43" fill="#f5ebe8" shape-rendering="crispEdges"/>
<rect x="584.2" y="220.09" width="16.52" height="16.43" fill="#f5ebe8" shape-rendering="crispEdges"/>
<rect x="503.1" y="236.22" width="16.52" height="16.43" fill="#f2cfc1" shape-rendering="crispEdges"/>
<rect x="519.32" y="236.22" width="16.52" height="16.43" fill="#f3d6cb" shape-rendering="crispEdges"/>
<rect x="535.54" y="236.22" width="16.52" height="16.43" fill="#eef2f4" shape-rendering="crispEdges"/>
<rect x="551.76" y="236.22" width="16.52" height="16.43" fill="#f2cfc1" shape-rendering="crispEdges"/>
<rect x="567.98" y="236.22" width="16.52" height="16.43" fill="#bfd6e5" shape-rendering="crispEdges"/>
<rect x="584.2" y="236.22" width="16.52" height="16.43" fill="#bfd6e5" shape-rendering="crispEdges"/>
<rect x="503.1" y="252.35" width="16.52" height="16.43" fill="#f4dad0" shape-rendering="crispEdges"/>
<rect x="519.32" y="252.35" width="16.52" height="16.43" fill="#f2cdbf" shape-rendering="crispEdges"/>
<rect x="535.54" y="252.35" width="16.52" height="16.43" fill="#f2cdbf" shape-rendering="crispEdges"/>
<rect x="551.76" y="252.35" width="16.52" height="16.43" fill="#f2cdbf" shape-rendering="crispEdges"/>
<rect x="567.98" y="252.35" width="16.52" height="16.43" fill="#f5ebe8" shape-rendering="crispEdges"/>
<rect x="584.2" y="252.35" width="16.52" height="16.43" fill="#f5ebe8" shape-rendering="crispEdges"/>
<rect x="503.1" y="268.48" width="16.52" height="16.43" fill="#e89676" shape-rendering="crispEdges"/>
<rect x="519.32" y="268.48" width="16.52" height="16.43" fill="#eca890" shape-rendering="crispEdges"/>
<rect x="535.54" y="268.48" width="16.52" height="16.43" fill="#f4e0d8" shape-rendering="crispEdges"/>
<rect x="551.76" y="268.48" width="16.52" height="16.43" fill="#e58a69" shape-rendering="crispEdges"/>
<rect x="567.98" y="268.48" width="16.52" height="16.43" fill="#bcd4e5" shape-rendering="crispEdges"/>
<rect x="584.2" y="268.48" width="16.52" height="16.43" fill="#bcd4e5" shape-rendering="crispEdges"/>
<rect x="503.1" y="284.61" width="16.52" height="16.43" fill="#e9987a" shape-rendering="crispEdges"/>
<rect x="519.32" y="284.61" width="16.52" height="16.43" fill="#edb39c" shape-rendering="crispEdges"/>
<rect x="535.54" y="284.61" width="16.52" height="16.43" fill="#f3d8cd" shape-rendering="crispEdges"/>
<rect x="551.76" y="284.61" width="16.52" height="16.43" fill="#e9987a" shape-rendering="crispEdges"/>
<rect x="567.98" y="284.61" width="16.52" height="16.43" fill="#dce8ef" shape-rendering="crispEdges"/>
<rect x="584.2" y="284.61" width="16.52" height="16.43" fill="#dce8ef" shape-rendering="crispEdges"/>
<rect x="503.1" y="300.74" width="16.52" height="16.43" fill="#ecf0f3" shape-rendering="crispEdges"/>
<rect x="519.32" y="300.74" width="16.52" height="16.43" fill="#f2cbbd" shape-rendering="crispEdges"/>
<rect x="535.54" y="300.74" width="16.52" height="16.43" fill="#f5eeeb" shape-rendering="crispEdges"/>
<rect x="551.76" y="300.74" width="16.52" height="16.43" fill="#f5efec" shape-rendering="crispEdges"/>
<rect x="567.98" y="300.74" width="16.52" height="16.43" fill="#f5ebe8" shape-rendering="crispEdges"/>
<rect x="584.2" y="300.74" width="16.52" height="16.43" fill="#f5ebe8" shape-rendering="crispEdges"/>
<rect x="503.1" y="316.87" width="16.52" height="16.43" fill="#a9cae0" shape-rendering="crispEdges"/>
<rect x="519.32" y="316.87" width="16.52" height="16.43" fill="#7db0d2" shape-rendering="crispEdges"/>
<rect x="535.54" y="316.87" width="16.52" height="16.43" fill="#72a8ce" shape-rendering="crispEdges"/>
<rect x="551.76" y="316.87" width="16.52" height="16.43" fill="#dce7ef" shape-rendering="crispEdges"/>
<rect x="567.98" y="316.87" width="16.52" height="16.43" fill="#8bb9d6" shape-rendering="crispEdges"/>
<rect x="584.2" y="316.87" width="16.52" height="16.43" fill="#8bb9d6" shape-rendering="crispEdges"/>
<path d="M505.6 16.02L505.6 18.52M504.52 16.64L506.68 17.89M504.52 17.89L506.68 16.64M510.71 16.02L510.71 18.52M509.63 16.64L511.79 17.89M509.63 17.89L511.79 16.64M515.82 16.02L515.82 18.52M514.74 16.64L516.9 17.89M514.74 17.89L516.9 16.64" stroke="#3a2a26" stroke-width="1.1" stroke-linecap="round" fill="none"/>
<path d="M556.82 16.02L556.82 18.52M555.73 16.64L557.9 17.89M555.73 17.89L557.9 16.64M561.92 16.02L561.92 18.52M560.84 16.64L563.01 17.89M560.84 17.89L563.01 16.64" stroke="#3a2a26" stroke-width="1.1" stroke-linecap="round" fill="none"/>
<path d="M559.37 112.8L559.37 115.3M558.29 113.42L560.45 114.67M558.29 114.67L560.45 113.42" stroke="#3a2a26" stroke-width="1.1" stroke-linecap="round" fill="none"/>
<path d="M510.71 145.06L510.71 147.56M509.63 145.68L511.79 146.93M509.63 146.93L511.79 145.68" stroke="#3a2a26" stroke-width="1.1" stroke-linecap="round" fill="none"/>
<path d="M526.93 161.19L526.93 163.69M525.85 161.81L528.01 163.06M525.85 163.06L528.01 161.81" stroke="#3a2a26" stroke-width="1.1" stroke-linecap="round" fill="none"/>
<path d="M524.38 193.44L524.38 195.94M523.29 194.07L525.46 195.32M523.29 195.32L525.46 194.07M529.48 193.44L529.48 195.94M528.4 194.07L530.57 195.32M528.4 195.32L530.57 194.07" stroke="#3a2a26" stroke-width="1.1" stroke-linecap="round" fill="none"/>
<path d="M510.71 225.71L510.71 228.21M509.63 226.33L511.79 227.58M509.63 227.58L511.79 226.33" stroke="#3a2a26" stroke-width="1.1" stroke-linecap="round" fill="none"/>
<path d="M526.93 225.71L526.93 228.21M525.85 226.33L528.01 227.58M525.85 227.58L528.01 226.33" stroke="#3a2a26" stroke-width="1.1" stroke-linecap="round" fill="none"/>
<path d="M559.37 225.71L559.37 228.21M558.29 226.33L560.45 227.58M558.29 227.58L560.45 226.33" stroke="#3a2a26" stroke-width="1.1" stroke-linecap="round" fill="none"/>
<path d="M510.71 274.09L510.71 276.59M509.63 274.72L511.79 275.97M509.63 275.97L511.79 274.72" stroke="#3a2a26" stroke-width="1.1" stroke-linecap="round" fill="none"/>
<path d="M556.82 274.09L556.82 276.59M555.73 274.72L557.9 275.97M555.73 275.97L557.9 274.72M561.92 274.09L561.92 276.59M560.84 274.72L563.01 275.97M560.84 275.97L563.01 274.72" stroke="#3a2a26" stroke-width="1.1" stroke-linecap="round" fill="none"/>
<path d="M510.71 290.22L510.71 292.72M509.63 290.85L511.79 292.1M509.63 292.1L511.79 290.85" stroke="#3a2a26" stroke-width="1.1" stroke-linecap="round" fill="none"/>
<path d="M559.37 290.22L559.37 292.72M558.29 290.85L560.45 292.1M558.29 292.1L560.45 290.85" stroke="#3a2a26" stroke-width="1.1" stroke-linecap="round" fill="none"/>
<path d="M543.15 322.48L543.15 324.98M542.07 323.11L544.23 324.36M542.07 324.36L544.23 323.11" stroke="#3a2a26" stroke-width="1.1" stroke-linecap="round" fill="none"/>
<text x="604.62" y="23.87" font-family="'Liberation Serif', serif" font-size="10.3" fill="#222">IAA</text>
<text x="604.62" y="40" font-family="'Liberation Serif', serif" font-size="10.3" fill="#222">5-HIAA</text>
<text x="604.62" y="56.13" font-family="'Liberation Serif', serif" font-size="10.3" fill="#222">IGA</text>
<text x="604.62" y="72.26" font-family="'Liberation Serif', serif" font-size="10.3" fill="#222">5_HTOL</text>
<text x="604.62" y="88.39" font-family="'Liberation Serif', serif" font-size="10.3" fill="#222">IAM</text>
<text x="604.62" y="104.52" font-family="'Liberation Serif', serif" font-size="10.3" fill="#222">L-TRP</text>
<text x="604.62" y="120.65" font-family="'Liberation Serif', serif" font-size="10.3" fill="#222">ILA</text>
<text x="604.62" y="136.78" font-family="'Liberation Serif', serif" font-size="10.3" fill="#222">ICAld</text>
<text x="604.62" y="152.91" font-family="'Liberation Serif', serif" font-size="10.3" fill="#222">SER</text>
<text x="604.62" y="169.04" font-family="'Liberation Serif', serif" font-size="10.3" fill="#222">KYNA</text>
<text x="604.62" y="185.17" font-family="'Liberation Serif', serif" font-size="10.3" fill="#222">XA</text>
<text x="604.62" y="201.3" font-family="'Liberation Serif', serif" font-size="10.3" fill="#222">QA</text>
<text x="604.62" y="217.43" font-family="'Liberation Serif', serif" font-size="10.3" fill="#222">3-HAA</text>
<text x="604.62" y="233.56" font-family="'Liberation Serif', serif" font-size="10.3" fill="#222">2-AA</text>
<text x="604.62" y="249.69" font-family="'Liberation Serif', serif" font-size="10.3" fill="#222">NFK</text>
<text x="604.62" y="265.82" font-family="'Liberation Serif', serif" font-size="10.3" fill="#222">L-KYN</text>
<text x="604.62" y="281.95" font-family="'Liberation Serif', serif" font-size="10.3" fill="#222">PA</text>
<text x="604.62" y="298.08" font-family="'Liberation Serif', serif" font-size="10.3" fill="#222">N-Acid</text>
<text x="604.62" y="314.21" font-family="'Liberation Serif', serif" font-size="10.3" fill="#222">2-AF</text>
<text x="604.62" y="330.34" font-family="'Liberation Serif', serif" font-size="10.3" fill="#222">2-KA</text>
<text transform="translate(507.58,343.3) rotate(90)" font-family="'Liberation Serif', serif" font-style="italic" font-size="11.0" fill="#222">CYP1A1</text>
<text transform="translate(523.8,343.3) rotate(90)" font-family="'Liberation Serif', serif" font-style="italic" font-size="11.0" fill="#222">CYP1A2</text>
<text transform="translate(540.02,343.3) rotate(90)" font-family="'Liberation Serif', serif" font-style="italic" font-size="11.0" fill="#222">CYP1B1</text>
<text transform="translate(556.24,343.3) rotate(90)" font-family="'Liberation Serif', serif" font-style="italic" font-size="11.0" fill="#222">SLC3A1</text>
<text transform="translate(572.46,343.3) rotate(90)" font-family="'Liberation Serif', serif" font-style="italic" font-size="11.0" fill="#222">IDO2</text>
<text transform="translate(588.68,343.3) rotate(90)" font-family="'Liberation Serif', serif" font-style="italic" font-size="11.0" fill="#222">TPH1</text>
<defs><linearGradient id="gf" x1="0" y1="0" x2="0" y2="1"><stop offset="0" stop-color="#e07650"/><stop offset="0.5" stop-color="#f4f4f4"/><stop offset="1" stop-color="#4b8dbf"/></linearGradient></defs>
<rect x="654.1" y="15.4" width="7.9" height="56.6" fill="url(#gf)"/>
<path d="M662 18.3H665.8" stroke="#555" stroke-width="1"/>
<text x="670.3" y="21.22" font-family="'Liberation Serif', serif" font-size="8.6" fill="#222">1.0</text>
<path d="M662 31.18H665.8" stroke="#555" stroke-width="1"/>
<text x="670.3" y="34.1" font-family="'Liberation Serif', serif" font-size="8.6" fill="#222">0.5</text>
<path d="M662 44.05H665.8" stroke="#555" stroke-width="1"/>
<text x="670.3" y="46.97" font-family="'Liberation Serif', serif" font-size="8.6" fill="#222">0.0</text>
<path d="M662 56.92H665.8" stroke="#555" stroke-width="1"/>
<text x="669.3" y="59.85" font-family="'Liberation Serif', serif" font-size="8.6" fill="#222">-0.5</text>
<path d="M662 69.8H665.8" stroke="#555" stroke-width="1"/>
<text x="669.3" y="72.72" font-family="'Liberation Serif', serif" font-size="8.6" fill="#222">-1.0</text>
<rect x="501.8" y="423.9" width="18" height="18.05" fill="#f3f4f4" shape-rendering="crispEdges"/>
<rect x="519.5" y="423.9" width="18" height="18.05" fill="#e7edf2" shape-rendering="crispEdges"/>
<rect x="537.2" y="423.9" width="18" height="18.05" fill="#eef0f2" shape-rendering="crispEdges"/>
<rect x="554.9" y="423.9" width="18" height="18.05" fill="#edf0f2" shape-rendering="crispEdges"/>
<rect x="572.6" y="423.9" width="18" height="18.05" fill="#a5c7de" shape-rendering="crispEdges"/>
<rect x="590.3" y="423.9" width="18" height="18.05" fill="#c8dbe7" shape-rendering="crispEdges"/>
<rect x="501.8" y="441.65" width="18" height="18.05" fill="#79acd0" shape-rendering="crispEdges"/>
<rect x="519.5" y="441.65" width="18" height="18.05" fill="#8ab8d6" shape-rendering="crispEdges"/>
<rect x="537.2" y="441.65" width="18" height="18.05" fill="#a3c6dd" shape-rendering="crispEdges"/>
<rect x="554.9" y="441.65" width="18" height="18.05" fill="#7eb0d2" shape-rendering="crispEdges"/>
<rect x="572.6" y="441.65" width="18" height="18.05" fill="#efbca8" shape-rendering="crispEdges"/>
<rect x="590.3" y="441.65" width="18" height="18.05" fill="#f5eeeb" shape-rendering="crispEdges"/>
<rect x="501.8" y="459.4" width="18" height="18.05" fill="#b0cde1" shape-rendering="crispEdges"/>
<rect x="519.5" y="459.4" width="18" height="18.05" fill="#c8dce8" shape-rendering="crispEdges"/>
<rect x="537.2" y="459.4" width="18" height="18.05" fill="#e0e8f1" shape-rendering="crispEdges"/>
<rect x="554.9" y="459.4" width="18" height="18.05" fill="#c2d8e6" shape-rendering="crispEdges"/>
<rect x="572.6" y="459.4" width="18" height="18.05" fill="#e58e6e" shape-rendering="crispEdges"/>
<rect x="590.3" y="459.4" width="18" height="18.05" fill="#efbca8" shape-rendering="crispEdges"/>
<rect x="501.8" y="477.15" width="18" height="18.05" fill="#f3d3c6" shape-rendering="crispEdges"/>
<rect x="519.5" y="477.15" width="18" height="18.05" fill="#f0c1ae" shape-rendering="crispEdges"/>
<rect x="537.2" y="477.15" width="18" height="18.05" fill="#eeb49e" shape-rendering="crispEdges"/>
<rect x="554.9" y="477.15" width="18" height="18.05" fill="#f2d2c6" shape-rendering="crispEdges"/>
<rect x="572.6" y="477.15" width="18" height="18.05" fill="#e58d6d" shape-rendering="crispEdges"/>
<rect x="590.3" y="477.15" width="18" height="18.05" fill="#e78e6e" shape-rendering="crispEdges"/>
<rect x="501.8" y="494.9" width="18" height="18.05" fill="#e0e9f2" shape-rendering="crispEdges"/>
<rect x="519.5" y="494.9" width="18" height="18.05" fill="#c3d9e7" shape-rendering="crispEdges"/>
<rect x="537.2" y="494.9" width="18" height="18.05" fill="#bad4e4" shape-rendering="crispEdges"/>
<rect x="554.9" y="494.9" width="18" height="18.05" fill="#dae6ef" shape-rendering="crispEdges"/>
<rect x="572.6" y="494.9" width="18" height="18.05" fill="#a5c7de" shape-rendering="crispEdges"/>
<rect x="590.3" y="494.9" width="18" height="18.05" fill="#c3d9e7" shape-rendering="crispEdges"/>
<rect x="501.8" y="512.65" width="18" height="18.05" fill="#f5e7e3" shape-rendering="crispEdges"/>
<rect x="519.5" y="512.65" width="18" height="18.05" fill="#f4ddd4" shape-rendering="crispEdges"/>
<rect x="537.2" y="512.65" width="18" height="18.05" fill="#f2cfc3" shape-rendering="crispEdges"/>
<rect x="554.9" y="512.65" width="18" height="18.05" fill="#f4e0d8" shape-rendering="crispEdges"/>
<rect x="572.6" y="512.65" width="18" height="18.05" fill="#e57f5b" shape-rendering="crispEdges"/>
<rect x="590.3" y="512.65" width="18" height="18.05" fill="#e57f5b" shape-rendering="crispEdges"/>
<rect x="501.8" y="530.4" width="18" height="18.05" fill="#f5e4df" shape-rendering="crispEdges"/>
<rect x="519.5" y="530.4" width="18" height="18.05" fill="#f5e7e3" shape-rendering="crispEdges"/>
<rect x="537.2" y="530.4" width="18" height="18.05" fill="#f5f1ef" shape-rendering="crispEdges"/>
<rect x="554.9" y="530.4" width="18" height="18.05" fill="#f5e9e6" shape-rendering="crispEdges"/>
<rect x="572.6" y="530.4" width="18" height="18.05" fill="#9bc2da" shape-rendering="crispEdges"/>
<rect x="590.3" y="530.4" width="18" height="18.05" fill="#c8dce8" shape-rendering="crispEdges"/>
<rect x="501.8" y="548.15" width="18" height="18.05" fill="#f3d7cc" shape-rendering="crispEdges"/>
<rect x="519.5" y="548.15" width="18" height="18.05" fill="#f1c6b5" shape-rendering="crispEdges"/>
<rect x="537.2" y="548.15" width="18" height="18.05" fill="#f0c1ae" shape-rendering="crispEdges"/>
<rect x="554.9" y="548.15" width="18" height="18.05" fill="#f4ddd5" shape-rendering="crispEdges"/>
<rect x="572.6" y="548.15" width="18" height="18.05" fill="#eff2f4" shape-rendering="crispEdges"/>
<rect x="590.3" y="548.15" width="18" height="18.05" fill="#f4e0d9" shape-rendering="crispEdges"/>
<rect x="501.8" y="565.9" width="18" height="18.05" fill="#eeb8a2" shape-rendering="crispEdges"/>
<rect x="519.5" y="565.9" width="18" height="18.05" fill="#eeb6a0" shape-rendering="crispEdges"/>
<rect x="537.2" y="565.9" width="18" height="18.05" fill="#eca98f" shape-rendering="crispEdges"/>
<rect x="554.9" y="565.9" width="18" height="18.05" fill="#eeb39d" shape-rendering="crispEdges"/>
<rect x="572.6" y="565.9" width="18" height="18.05" fill="#efbaa5" shape-rendering="crispEdges"/>
<rect x="590.3" y="565.9" width="18" height="18.05" fill="#e8906f" shape-rendering="crispEdges"/>
<rect x="501.8" y="583.65" width="18" height="18.05" fill="#b7d2e3" shape-rendering="crispEdges"/>
<rect x="519.5" y="583.65" width="18" height="18.05" fill="#b3cfe2" shape-rendering="crispEdges"/>
<rect x="537.2" y="583.65" width="18" height="18.05" fill="#abcbe0" shape-rendering="crispEdges"/>
<rect x="554.9" y="583.65" width="18" height="18.05" fill="#bad3e3" shape-rendering="crispEdges"/>
<rect x="572.6" y="583.65" width="18" height="18.05" fill="#aacae0" shape-rendering="crispEdges"/>
<rect x="590.3" y="583.65" width="18" height="18.05" fill="#9dc3dc" shape-rendering="crispEdges"/>
<rect x="501.8" y="601.4" width="18" height="18.05" fill="#e89676" shape-rendering="crispEdges"/>
<rect x="519.5" y="601.4" width="18" height="18.05" fill="#e89676" shape-rendering="crispEdges"/>
<rect x="537.2" y="601.4" width="18" height="18.05" fill="#e89676" shape-rendering="crispEdges"/>
<rect x="554.9" y="601.4" width="18" height="18.05" fill="#e89676" shape-rendering="crispEdges"/>
<rect x="572.6" y="601.4" width="18" height="18.05" fill="#f2f3f3" shape-rendering="crispEdges"/>
<rect x="590.3" y="601.4" width="18" height="18.05" fill="#f3d2c4" shape-rendering="crispEdges"/>
<rect x="501.8" y="619.15" width="18" height="18.05" fill="#c8dce8" shape-rendering="crispEdges"/>
<rect x="519.5" y="619.15" width="18" height="18.05" fill="#b1cee2" shape-rendering="crispEdges"/>
<rect x="537.2" y="619.15" width="18" height="18.05" fill="#a9c9df" shape-rendering="crispEdges"/>
<rect x="554.9" y="619.15" width="18" height="18.05" fill="#c8dce8" shape-rendering="crispEdges"/>
<rect x="572.6" y="619.15" width="18" height="18.05" fill="#77abcf" shape-rendering="crispEdges"/>
<rect x="590.3" y="619.15" width="18" height="18.05" fill="#6ca4cc" shape-rendering="crispEdges"/>
<rect x="501.8" y="636.9" width="18" height="18.05" fill="#d8e5ee" shape-rendering="crispEdges"/>
<rect x="519.5" y="636.9" width="18" height="18.05" fill="#dce7ef" shape-rendering="crispEdges"/>
<rect x="537.2" y="636.9" width="18" height="18.05" fill="#eef1f3" shape-rendering="crispEdges"/>
<rect x="554.9" y="636.9" width="18" height="18.05" fill="#dae6ef" shape-rendering="crispEdges"/>
<rect x="572.6" y="636.9" width="18" height="18.05" fill="#f5e7e3" shape-rendering="crispEdges"/>
<rect x="590.3" y="636.9" width="18" height="18.05" fill="#dbe6ef" shape-rendering="crispEdges"/>
<rect x="501.8" y="654.65" width="18" height="18.05" fill="#9bc2db" shape-rendering="crispEdges"/>
<rect x="519.5" y="654.65" width="18" height="18.05" fill="#9bc2db" shape-rendering="crispEdges"/>
<rect x="537.2" y="654.65" width="18" height="18.05" fill="#a1c5dc" shape-rendering="crispEdges"/>
<rect x="554.9" y="654.65" width="18" height="18.05" fill="#a1c5dc" shape-rendering="crispEdges"/>
<rect x="572.6" y="654.65" width="18" height="18.05" fill="#eeb39d" shape-rendering="crispEdges"/>
<rect x="590.3" y="654.65" width="18" height="18.05" fill="#f3d4c8" shape-rendering="crispEdges"/>
<path d="M580.95 465.12L580.95 468.22M579.61 465.9L582.29 467.45M579.61 467.45L582.29 465.9" stroke="#3a2a26" stroke-width="1.1" stroke-linecap="round" fill="none"/>
<path d="M578.12 482.87L578.12 485.97M576.78 483.65L579.46 485.2M576.78 485.2L579.46 483.65M583.78 482.87L583.78 485.97M582.44 483.65L585.12 485.2M582.44 485.2L585.12 483.65" stroke="#3a2a26" stroke-width="1.1" stroke-linecap="round" fill="none"/>
<path d="M598.65 482.87L598.65 485.97M597.31 483.65L599.99 485.2M597.31 485.2L599.99 483.65" stroke="#3a2a26" stroke-width="1.1" stroke-linecap="round" fill="none"/>
<path d="M575.29 518.38L575.29 521.47M573.94 519.15L576.63 520.7M573.94 520.7L576.63 519.15M580.95 518.38L580.95 521.47M579.61 519.15L582.29 520.7M579.61 520.7L582.29 519.15M586.61 518.38L586.61 521.47M585.27 519.15L587.96 520.7M585.27 520.7L587.96 519.15" stroke="#3a2a26" stroke-width="1.1" stroke-linecap="round" fill="none"/>
<path d="M592.99 518.38L592.99 521.47M591.64 519.15L594.33 520.7M591.64 520.7L594.33 519.15M598.65 518.38L598.65 521.47M597.31 519.15L599.99 520.7M597.31 520.7L599.99 519.15M604.31 518.38L604.31 521.47M602.97 519.15L605.66 520.7M602.97 520.7L605.66 519.15" stroke="#3a2a26" stroke-width="1.1" stroke-linecap="round" fill="none"/>
<path d="M595.82 571.62L595.82 574.72M594.48 572.4L597.16 573.95M594.48 573.95L597.16 572.4M601.48 571.62L601.48 574.72M600.14 572.4L602.82 573.95M600.14 573.95L602.82 572.4" stroke="#3a2a26" stroke-width="1.1" stroke-linecap="round" fill="none"/>
<path d="M510.15 607.12L510.15 610.22M508.81 607.9L511.49 609.45M508.81 609.45L511.49 607.9" stroke="#3a2a26" stroke-width="1.1" stroke-linecap="round" fill="none"/>
<path d="M527.85 607.12L527.85 610.22M526.51 607.9L529.19 609.45M526.51 609.45L529.19 607.9" stroke="#3a2a26" stroke-width="1.1" stroke-linecap="round" fill="none"/>
<path d="M545.55 607.12L545.55 610.22M544.21 607.9L546.89 609.45M544.21 609.45L546.89 607.9" stroke="#3a2a26" stroke-width="1.1" stroke-linecap="round" fill="none"/>
<path d="M563.25 607.12L563.25 610.22M561.91 607.9L564.59 609.45M561.91 609.45L564.59 607.9" stroke="#3a2a26" stroke-width="1.1" stroke-linecap="round" fill="none"/>
<path d="M580.95 624.88L580.95 627.97M579.61 625.65L582.29 627.2M579.61 627.2L582.29 625.65" stroke="#3a2a26" stroke-width="1.1" stroke-linecap="round" fill="none"/>
<path d="M595.82 624.88L595.82 627.97M594.48 625.65L597.16 627.2M594.48 627.2L597.16 625.65M601.48 624.88L601.48 627.97M600.14 625.65L602.82 627.2M600.14 627.2L602.82 625.65" stroke="#3a2a26" stroke-width="1.1" stroke-linecap="round" fill="none"/>
<text x="612.8" y="438.19" font-family="'Liberation Serif', serif" font-size="11.5" fill="#222">2-AF</text>
<text x="612.8" y="455.94" font-family="'Liberation Serif', serif" font-size="11.5" fill="#222">2-AA</text>
<text x="612.8" y="473.69" font-family="'Liberation Serif', serif" font-size="11.5" fill="#222">IAA</text>
<text x="612.8" y="491.44" font-family="'Liberation Serif', serif" font-size="11.5" fill="#222">IA</text>
<text x="612.8" y="509.19" font-family="'Liberation Serif', serif" font-size="11.5" fill="#222">TRM</text>
<text x="612.8" y="526.93" font-family="'Liberation Serif', serif" font-size="11.5" fill="#222">IPA</text>
<text x="612.8" y="544.68" font-family="'Liberation Serif', serif" font-size="11.5" fill="#222">IAM</text>
<text x="612.8" y="562.43" font-family="'Liberation Serif', serif" font-size="11.5" fill="#222">L-TRP</text>
<text x="612.8" y="580.18" font-family="'Liberation Serif', serif" font-size="11.5" fill="#222">ILA</text>
<text x="612.8" y="597.93" font-family="'Liberation Serif', serif" font-size="11.5" fill="#222">ICAld</text>
<text x="612.8" y="615.68" font-family="'Liberation Serif', serif" font-size="11.5" fill="#222">SER</text>
<text x="612.8" y="633.43" font-family="'Liberation Serif', serif" font-size="11.5" fill="#222">2-KA</text>
<text x="612.8" y="651.18" font-family="'Liberation Serif', serif" font-size="11.5" fill="#222">XA</text>
<text x="612.8" y="668.93" font-family="'Liberation Serif', serif" font-size="11.5" fill="#222">QA</text>
<text transform="translate(506.79,678.7) rotate(90)" font-family="'Liberation Serif', serif" font-style="italic" font-size="11.7" fill="#222">CYP1A1</text>
<text transform="translate(524.49,678.7) rotate(90)" font-family="'Liberation Serif', serif" font-style="italic" font-size="11.7" fill="#222">CYP1A2</text>
<text transform="translate(542.19,678.7) rotate(90)" font-family="'Liberation Serif', serif" font-style="italic" font-size="11.7" fill="#222">CYP1B1</text>
<text transform="translate(559.89,678.7) rotate(90)" font-family="'Liberation Serif', serif" font-style="italic" font-size="11.7" fill="#222">SLC3A1</text>
<text transform="translate(577.59,678.7) rotate(90)" font-family="'Liberation Serif', serif" font-style="italic" font-size="11.7" fill="#222">IDO2</text>
<text transform="translate(595.29,678.7) rotate(90)" font-family="'Liberation Serif', serif" font-style="italic" font-size="11.7" fill="#222">TPH1</text>
<defs><linearGradient id="gh" x1="0" y1="0" x2="0" y2="1"><stop offset="0" stop-color="#e07650"/><stop offset="0.5" stop-color="#f4f4f4"/><stop offset="1" stop-color="#4b8dbf"/></linearGradient></defs>
<rect x="649.7" y="429.2" width="8.3" height="57.3" fill="url(#gh)"/>
<path d="M658 429.5H663" stroke="#555" stroke-width="1"/>
<text x="665.6" y="432.76" font-family="'Liberation Serif', serif" font-size="9.6" fill="#222">1.0</text>
<path d="M658 443.68H663" stroke="#555" stroke-width="1"/>
<text x="665.6" y="446.94" font-family="'Liberation Serif', serif" font-size="9.6" fill="#222">0.5</text>
<path d="M658 457.85H663" stroke="#555" stroke-width="1"/>
<text x="665.6" y="461.11" font-family="'Liberation Serif', serif" font-size="9.6" fill="#222">0.0</text>
<path d="M658 472.02H663" stroke="#555" stroke-width="1"/>
<text x="665.2" y="475.29" font-family="'Liberation Serif', serif" font-size="9.6" fill="#222">-0.5</text>
<path d="M658 486.2H663" stroke="#555" stroke-width="1"/>
<text x="665.2" y="489.46" font-family="'Liberation Serif', serif" font-size="9.6" fill="#222">-1.0</text>
</svg>
</body></html>
